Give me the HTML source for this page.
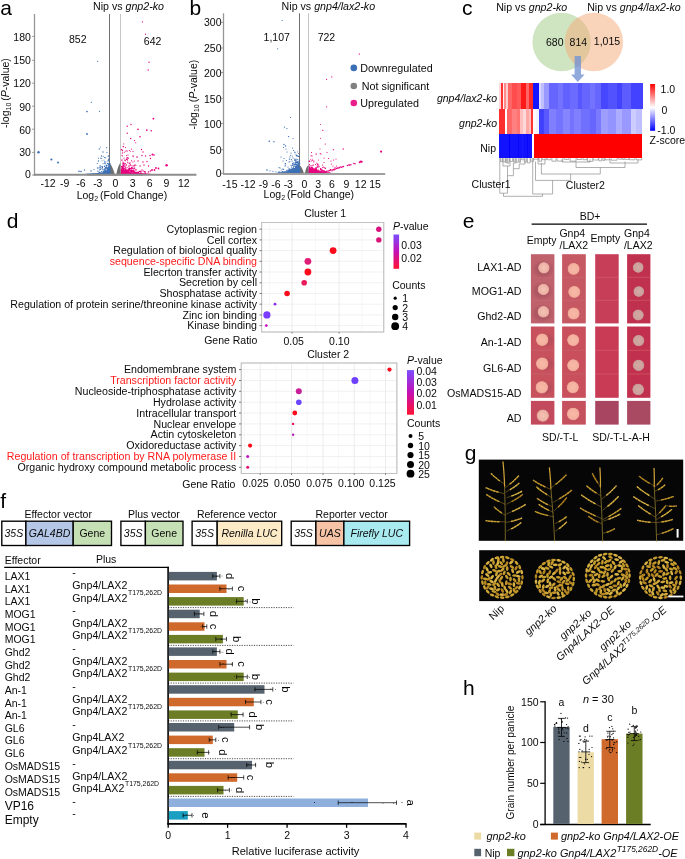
<!DOCTYPE html>
<html><head><meta charset="utf-8"><title>Figure</title>
<style>html,body{margin:0;padding:0;background:#fff;}svg{display:block;font-family:"Liberation Sans",sans-serif;transform:translateZ(0);will-change:transform;}</style></head>
<body>
<svg width="685" height="859" viewBox="0 0 685 859">
<rect width="685" height="859" fill="#fff"/>
<text x="0.3" y="15.4" font-size="21" text-anchor="start" fill="#000" >a</text>
<text x="93" y="10.2" font-size="10.65" fill="#0a0a0a">Nip vs <tspan font-style="italic">gnp2-ko</tspan></text>
<line x1="34.5" y1="14.0" x2="34.5" y2="176.0" stroke="#969696" stroke-width="1.3" />
<line x1="109.5" y1="14.0" x2="109.5" y2="175.0" stroke="#707070" stroke-width="1" />
<line x1="120.5" y1="14.0" x2="120.5" y2="175.0" stroke="#c6c6c6" stroke-width="1" />
<path d="M87.3,175.4 L87.3,174.1 L109.5,173.4 L109.5,163 Q112.1,165.4 114.9,174.4 L116.3,174.4 Q117.9,165.4 120.5,163 L120.5,173.4 L142.7,174.1 L142.7,175.4 Z" fill="#6f6f6f"/>
<path d="M109.5,174.4 L109.5,170 L101.5,172.8 L85.5,173.8 L85.5,174.4 Z" fill="#3b6fb6"/>
<path d="M121.0,174.4 L121.0,170 L132.5,172.5 L150.5,173.8 L150.5,174.4 Z" fill="#e6007e"/>
<path d="M108.4,168.3h0.9v0.9h-0.9zM107.2,173.3h0.9v0.9h-0.9zM109.4,173.2h0.9v0.9h-0.9zM107.9,173.1h0.9v0.9h-0.9zM106.5,171.5h0.9v0.9h-0.9zM98.1,157.8h0.9v0.9h-0.9zM109.1,171.8h1.25v1.25h-1.25zM108.9,171.2h0.9v0.9h-0.9zM107.1,173.0h0.9v0.9h-0.9zM106.1,172.6h0.9v0.9h-0.9zM107.7,169.9h0.9v0.9h-0.9zM108.7,171.8h1.25v1.25h-1.25zM105.6,164.8h0.9v0.9h-0.9zM107.9,173.0h0.9v0.9h-0.9zM109.4,170.2h0.9v0.9h-0.9zM103.2,170.8h0.9v0.9h-0.9zM106.9,169.4h1.25v1.25h-1.25zM107.6,173.3h0.9v0.9h-0.9zM106.4,169.6h0.9v0.9h-0.9zM108.1,173.3h0.9v0.9h-0.9zM109.0,173.1h0.9v0.9h-0.9zM109.1,172.3h1.25v1.25h-1.25zM109.3,171.6h1.25v1.25h-1.25zM104.3,172.7h0.9v0.9h-0.9zM108.2,166.4h0.9v0.9h-0.9zM109.0,172.8h0.9v0.9h-0.9zM106.8,173.4h0.9v0.9h-0.9zM108.1,166.7h0.9v0.9h-0.9zM107.3,170.9h0.9v0.9h-0.9zM102.5,168.8h0.9v0.9h-0.9zM108.0,173.2h0.9v0.9h-0.9zM109.4,172.4h0.9v0.9h-0.9zM108.3,173.4h0.9v0.9h-0.9zM109.2,173.3h1.25v1.25h-1.25zM106.6,171.6h0.9v0.9h-0.9zM108.2,164.0h1.25v1.25h-1.25zM107.6,173.2h0.9v0.9h-0.9zM108.3,169.5h0.9v0.9h-0.9zM109.5,171.7h0.9v0.9h-0.9zM107.2,169.1h1.25v1.25h-1.25zM103.5,172.7h0.9v0.9h-0.9zM109.0,171.7h0.9v0.9h-0.9zM108.3,169.7h1.25v1.25h-1.25zM103.7,169.6h0.9v0.9h-0.9zM108.8,172.4h0.9v0.9h-0.9zM109.5,172.7h0.9v0.9h-0.9zM100.0,167.3h1.25v1.25h-1.25zM100.1,172.9h0.9v0.9h-0.9zM108.9,169.0h1.25v1.25h-1.25zM103.9,171.1h0.9v0.9h-0.9zM109.3,168.1h0.9v0.9h-0.9zM105.3,173.0h0.9v0.9h-0.9zM108.3,165.6h0.9v0.9h-0.9zM108.0,170.6h0.9v0.9h-0.9zM109.1,163.3h1.25v1.25h-1.25zM109.1,164.8h0.9v0.9h-0.9zM108.2,173.1h0.9v0.9h-0.9zM98.8,171.8h1.25v1.25h-1.25zM107.8,169.6h0.9v0.9h-0.9zM108.7,172.8h0.9v0.9h-0.9zM108.6,173.1h1.25v1.25h-1.25zM108.2,171.5h1.25v1.25h-1.25zM107.9,171.9h0.9v0.9h-0.9zM107.3,170.1h0.9v0.9h-0.9zM109.5,173.0h0.9v0.9h-0.9zM105.6,172.5h0.9v0.9h-0.9zM107.1,173.2h0.9v0.9h-0.9zM108.7,170.1h0.9v0.9h-0.9zM107.0,168.0h0.9v0.9h-0.9zM106.7,171.8h0.9v0.9h-0.9zM107.7,172.0h1.25v1.25h-1.25zM105.9,167.1h0.9v0.9h-0.9zM107.0,169.4h0.9v0.9h-0.9zM109.2,173.2h0.9v0.9h-0.9zM109.3,170.0h1.25v1.25h-1.25zM109.0,171.0h0.9v0.9h-0.9zM103.0,172.9h1.25v1.25h-1.25zM108.0,163.3h1.25v1.25h-1.25zM109.0,171.8h0.9v0.9h-0.9zM108.9,170.6h0.9v0.9h-0.9zM107.1,173.4h0.9v0.9h-0.9zM106.6,173.3h1.25v1.25h-1.25zM104.8,173.2h0.9v0.9h-0.9zM109.4,172.7h0.9v0.9h-0.9zM107.9,169.6h0.9v0.9h-0.9zM109.1,171.5h0.9v0.9h-0.9zM109.3,168.5h0.9v0.9h-0.9zM109.3,171.2h1.25v1.25h-1.25zM109.3,173.2h1.25v1.25h-1.25zM107.7,171.6h1.25v1.25h-1.25zM108.6,169.9h0.9v0.9h-0.9zM109.2,173.2h0.9v0.9h-0.9zM108.4,170.3h0.9v0.9h-0.9zM107.4,171.0h0.9v0.9h-0.9zM108.7,167.3h0.9v0.9h-0.9zM108.9,167.4h0.9v0.9h-0.9zM104.3,171.9h1.25v1.25h-1.25zM108.0,170.8h1.25v1.25h-1.25zM108.3,170.7h0.9v0.9h-0.9zM108.0,173.3h0.9v0.9h-0.9zM109.3,172.8h0.9v0.9h-0.9zM109.3,168.9h0.9v0.9h-0.9zM108.5,172.6h0.9v0.9h-0.9zM109.0,172.7h1.25v1.25h-1.25zM98.6,172.8h1.25v1.25h-1.25zM108.4,173.4h0.9v0.9h-0.9zM107.6,172.9h0.9v0.9h-0.9zM109.5,173.2h0.9v0.9h-0.9zM109.4,171.9h0.9v0.9h-0.9zM106.9,170.3h0.9v0.9h-0.9zM105.7,172.3h0.9v0.9h-0.9zM96.8,163.1h0.9v0.9h-0.9zM109.4,168.5h0.9v0.9h-0.9zM105.5,173.1h0.9v0.9h-0.9zM107.4,169.8h1.25v1.25h-1.25zM106.9,170.9h0.9v0.9h-0.9zM108.8,172.7h0.9v0.9h-0.9zM109.2,171.6h0.9v0.9h-0.9zM106.5,171.9h0.9v0.9h-0.9zM104.7,171.9h0.9v0.9h-0.9zM106.3,164.9h0.9v0.9h-0.9zM109.3,170.5h0.9v0.9h-0.9zM105.4,171.9h0.9v0.9h-0.9zM107.6,170.2h0.9v0.9h-0.9zM106.4,172.4h0.9v0.9h-0.9zM105.4,171.6h0.9v0.9h-0.9zM109.4,170.9h0.9v0.9h-0.9zM106.1,171.8h0.9v0.9h-0.9zM107.6,161.3h0.9v0.9h-0.9zM97.9,173.4h0.9v0.9h-0.9zM104.3,172.1h0.9v0.9h-0.9zM108.8,172.9h0.9v0.9h-0.9zM109.1,166.7h0.9v0.9h-0.9zM104.3,168.6h0.9v0.9h-0.9zM108.7,171.9h0.9v0.9h-0.9zM109.5,172.1h0.9v0.9h-0.9zM109.1,172.6h1.25v1.25h-1.25zM109.5,169.4h0.9v0.9h-0.9zM101.6,168.3h0.9v0.9h-0.9zM108.1,158.6h0.9v0.9h-0.9zM108.2,172.7h0.9v0.9h-0.9zM109.2,172.7h1.25v1.25h-1.25zM108.7,171.8h0.9v0.9h-0.9zM108.1,168.7h1.25v1.25h-1.25zM106.5,167.2h0.9v0.9h-0.9zM105.7,164.4h0.9v0.9h-0.9zM105.3,172.7h0.9v0.9h-0.9zM101.6,168.3h0.9v0.9h-0.9zM108.5,165.2h0.9v0.9h-0.9zM106.3,171.6h0.9v0.9h-0.9zM109.0,172.4h1.25v1.25h-1.25zM107.5,168.2h1.25v1.25h-1.25zM107.7,172.3h0.9v0.9h-0.9zM108.3,172.1h0.9v0.9h-0.9zM107.0,170.4h0.9v0.9h-0.9zM107.9,172.4h0.9v0.9h-0.9zM109.4,165.8h0.9v0.9h-0.9zM107.4,169.0h0.9v0.9h-0.9zM108.6,172.3h0.9v0.9h-0.9zM100.2,168.9h0.9v0.9h-0.9zM109.4,168.4h0.9v0.9h-0.9zM106.8,170.4h1.25v1.25h-1.25zM104.2,165.5h0.9v0.9h-0.9zM109.2,170.3h0.9v0.9h-0.9zM100.9,171.1h0.9v0.9h-0.9zM107.7,173.3h0.9v0.9h-0.9zM108.7,171.1h0.9v0.9h-0.9zM109.1,171.2h0.9v0.9h-0.9zM109.2,170.2h0.9v0.9h-0.9zM108.1,171.4h0.9v0.9h-0.9zM108.5,166.4h0.9v0.9h-0.9zM103.0,172.8h0.9v0.9h-0.9zM99.7,172.6h0.9v0.9h-0.9zM107.4,172.2h0.9v0.9h-0.9zM106.2,172.8h0.9v0.9h-0.9zM108.3,170.9h0.9v0.9h-0.9zM104.7,171.9h0.9v0.9h-0.9zM98.9,169.6h0.9v0.9h-0.9zM108.8,172.6h1.25v1.25h-1.25zM107.5,172.0h0.9v0.9h-0.9zM106.2,173.1h0.9v0.9h-0.9zM108.8,173.1h0.9v0.9h-0.9zM109.4,168.4h1.25v1.25h-1.25zM105.5,167.5h0.9v0.9h-0.9zM108.9,170.4h0.9v0.9h-0.9zM106.2,172.4h0.9v0.9h-0.9zM109.0,172.0h0.9v0.9h-0.9zM100.0,146.7h0.9v0.9h-0.9zM108.2,169.6h0.9v0.9h-0.9zM109.4,172.4h1.25v1.25h-1.25zM108.9,168.4h0.9v0.9h-0.9zM107.9,170.2h0.9v0.9h-0.9zM109.4,163.1h0.9v0.9h-0.9zM105.4,172.5h0.9v0.9h-0.9zM99.9,172.7h0.9v0.9h-0.9zM108.4,173.4h0.9v0.9h-0.9zM102.0,167.1h0.9v0.9h-0.9zM108.7,166.5h1.25v1.25h-1.25zM108.1,172.2h0.9v0.9h-0.9zM101.5,160.4h0.9v0.9h-0.9zM104.3,171.3h0.9v0.9h-0.9zM108.4,170.0h0.9v0.9h-0.9zM108.9,172.8h0.9v0.9h-0.9zM109.4,172.5h1.25v1.25h-1.25zM103.0,172.7h0.9v0.9h-0.9zM109.2,170.7h0.9v0.9h-0.9zM108.7,171.3h0.9v0.9h-0.9zM105.3,171.0h0.9v0.9h-0.9zM103.9,171.6h0.9v0.9h-0.9zM105.5,171.4h0.9v0.9h-0.9zM109.0,171.5h0.9v0.9h-0.9zM108.0,171.8h0.9v0.9h-0.9zM104.5,163.0h0.9v0.9h-0.9zM107.6,169.4h1.25v1.25h-1.25zM109.4,173.1h0.9v0.9h-0.9zM98.5,167.5h0.9v0.9h-0.9zM103.4,172.7h0.9v0.9h-0.9zM100.7,166.1h0.9v0.9h-0.9zM108.8,173.1h0.9v0.9h-0.9zM108.7,171.1h0.9v0.9h-0.9zM109.5,170.9h0.9v0.9h-0.9zM108.4,165.7h0.9v0.9h-0.9zM109.4,171.3h0.9v0.9h-0.9zM106.4,172.3h0.9v0.9h-0.9zM107.9,172.6h1.25v1.25h-1.25zM108.4,172.4h0.9v0.9h-0.9zM103.5,172.4h0.9v0.9h-0.9zM105.6,173.4h1.25v1.25h-1.25zM107.9,172.3h1.25v1.25h-1.25zM107.7,173.3h0.9v0.9h-0.9zM106.4,173.2h0.9v0.9h-0.9zM108.1,173.1h0.9v0.9h-0.9zM107.3,173.1h0.9v0.9h-0.9zM104.6,172.9h0.9v0.9h-0.9zM100.8,171.9h0.9v0.9h-0.9zM101.6,168.2h0.9v0.9h-0.9zM104.2,161.3h0.9v0.9h-0.9zM108.0,169.5h0.9v0.9h-0.9zM108.8,171.8h0.9v0.9h-0.9zM109.1,170.6h1.25v1.25h-1.25zM109.4,170.3h0.9v0.9h-0.9zM104.0,166.1h0.9v0.9h-0.9zM106.5,172.2h0.9v0.9h-0.9zM107.9,172.1h0.9v0.9h-0.9zM109.5,171.9h0.9v0.9h-0.9zM105.1,172.1h0.9v0.9h-0.9zM107.6,172.7h0.9v0.9h-0.9zM109.3,171.8h0.9v0.9h-0.9zM106.5,165.2h0.9v0.9h-0.9zM107.4,169.5h0.9v0.9h-0.9zM100.4,157.8h1.25v1.25h-1.25zM105.5,172.9h1.25v1.25h-1.25zM107.5,167.9h0.9v0.9h-0.9zM104.8,173.3h0.9v0.9h-0.9zM105.2,157.3h0.9v0.9h-0.9zM104.4,168.0h1.25v1.25h-1.25zM108.8,171.8h0.9v0.9h-0.9zM109.4,172.7h1.25v1.25h-1.25zM106.1,173.0h0.9v0.9h-0.9zM109.2,171.2h0.9v0.9h-0.9zM103.3,171.5h1.25v1.25h-1.25zM109.2,171.2h0.9v0.9h-0.9zM104.7,163.2h0.9v0.9h-0.9zM108.2,172.1h0.9v0.9h-0.9zM105.4,161.4h0.9v0.9h-0.9zM106.4,171.5h0.9v0.9h-0.9zM108.4,173.2h0.9v0.9h-0.9zM106.6,171.8h1.25v1.25h-1.25zM109.1,171.1h0.9v0.9h-0.9zM109.5,173.2h0.9v0.9h-0.9zM108.8,171.4h0.9v0.9h-0.9zM106.6,173.1h1.25v1.25h-1.25zM108.7,172.9h0.9v0.9h-0.9zM103.3,172.3h0.9v0.9h-0.9zM109.5,171.6h0.9v0.9h-0.9zM106.4,167.3h0.9v0.9h-0.9zM108.7,173.3h0.9v0.9h-0.9zM108.0,173.3h0.9v0.9h-0.9zM109.5,167.2h0.9v0.9h-0.9zM108.9,171.8h0.9v0.9h-0.9zM104.4,170.6h0.9v0.9h-0.9zM109.4,170.0h0.9v0.9h-0.9zM109.5,170.4h0.9v0.9h-0.9zM105.4,172.8h0.9v0.9h-0.9zM108.7,171.5h0.9v0.9h-0.9zM105.9,170.7h0.9v0.9h-0.9zM107.1,170.0h0.9v0.9h-0.9zM108.6,166.0h0.9v0.9h-0.9zM103.1,171.0h0.9v0.9h-0.9zM105.4,170.4h0.9v0.9h-0.9zM103.1,172.8h1.25v1.25h-1.25zM106.5,171.0h1.25v1.25h-1.25zM107.6,170.8h1.25v1.25h-1.25zM107.8,171.5h0.9v0.9h-0.9zM108.8,173.2h1.25v1.25h-1.25zM109.1,172.9h1.25v1.25h-1.25zM108.3,173.3h0.9v0.9h-0.9zM105.9,170.8h0.9v0.9h-0.9zM109.3,172.4h1.25v1.25h-1.25zM104.3,173.2h1.25v1.25h-1.25zM102.0,173.2h0.9v0.9h-0.9zM109.2,165.4h1.25v1.25h-1.25zM106.5,171.2h0.9v0.9h-0.9zM109.2,167.4h0.9v0.9h-0.9zM108.4,173.4h0.9v0.9h-0.9zM108.5,172.4h0.9v0.9h-0.9zM99.4,169.2h0.9v0.9h-0.9zM109.5,172.1h0.9v0.9h-0.9zM108.3,171.7h0.9v0.9h-0.9zM103.5,159.7h0.9v0.9h-0.9zM109.5,167.7h1.25v1.25h-1.25zM109.5,171.9h0.9v0.9h-0.9zM108.9,172.5h1.25v1.25h-1.25zM108.6,172.7h0.9v0.9h-0.9zM105.9,173.1h0.9v0.9h-0.9zM109.3,170.8h0.9v0.9h-0.9zM106.5,172.3h0.9v0.9h-0.9zM102.8,155.9h0.9v0.9h-0.9zM108.8,168.3h0.9v0.9h-0.9zM108.1,172.8h0.9v0.9h-0.9zM107.2,170.3h0.9v0.9h-0.9zM108.2,173.0h1.25v1.25h-1.25zM106.2,173.0h0.9v0.9h-0.9zM105.0,173.1h0.9v0.9h-0.9zM102.9,172.9h0.9v0.9h-0.9zM105.8,173.0h0.9v0.9h-0.9zM108.7,171.8h0.9v0.9h-0.9zM108.3,155.4h0.9v0.9h-0.9zM109.2,173.2h0.9v0.9h-0.9zM97.0,170.5h0.9v0.9h-0.9zM108.9,173.2h0.9v0.9h-0.9zM108.0,170.8h0.9v0.9h-0.9zM105.9,171.2h0.9v0.9h-0.9zM109.1,172.3h0.9v0.9h-0.9zM102.3,171.5h0.9v0.9h-0.9zM107.9,170.6h1.25v1.25h-1.25zM105.0,169.2h0.9v0.9h-0.9zM106.4,172.6h0.9v0.9h-0.9zM109.2,170.0h0.9v0.9h-0.9zM106.5,172.2h0.9v0.9h-0.9zM106.6,170.9h1.25v1.25h-1.25zM108.9,170.1h0.9v0.9h-0.9zM107.5,173.3h0.9v0.9h-0.9zM109.0,167.2h0.9v0.9h-0.9zM109.2,171.7h0.9v0.9h-0.9zM107.4,169.5h0.9v0.9h-0.9zM107.9,172.9h0.9v0.9h-0.9zM108.0,173.1h1.25v1.25h-1.25zM108.2,171.8h0.9v0.9h-0.9zM109.5,172.2h0.9v0.9h-0.9zM108.2,172.8h0.9v0.9h-0.9zM101.0,172.9h1.25v1.25h-1.25zM108.0,172.7h0.9v0.9h-0.9zM104.5,172.0h0.9v0.9h-0.9zM108.8,172.4h0.9v0.9h-0.9zM104.3,172.0h0.9v0.9h-0.9zM107.1,163.1h0.9v0.9h-0.9zM103.7,172.4h0.9v0.9h-0.9zM107.9,173.4h0.9v0.9h-0.9zM108.5,172.6h0.9v0.9h-0.9zM107.8,171.0h0.9v0.9h-0.9zM101.5,173.3h1.25v1.25h-1.25zM102.3,173.1h1.25v1.25h-1.25zM106.5,173.3h1.25v1.25h-1.25zM106.3,173.2h0.9v0.9h-0.9zM108.7,172.5h0.9v0.9h-0.9zM102.4,173.0h1.25v1.25h-1.25zM106.7,171.0h1.25v1.25h-1.25zM104.8,172.9h0.9v0.9h-0.9zM107.2,172.1h1.25v1.25h-1.25zM107.1,172.8h0.9v0.9h-0.9zM107.5,169.9h0.9v0.9h-0.9zM107.5,171.7h1.25v1.25h-1.25zM109.5,172.0h0.9v0.9h-0.9zM106.2,172.4h0.9v0.9h-0.9zM99.7,165.3h0.9v0.9h-0.9zM109.5,170.9h1.25v1.25h-1.25zM108.3,171.8h0.9v0.9h-0.9zM102.6,163.3h0.9v0.9h-0.9zM108.3,172.4h0.9v0.9h-0.9zM107.3,172.9h0.9v0.9h-0.9zM107.9,169.5h0.9v0.9h-0.9zM104.2,171.9h0.9v0.9h-0.9zM107.4,171.1h0.9v0.9h-0.9zM108.3,172.6h0.9v0.9h-0.9zM106.5,173.3h0.9v0.9h-0.9zM102.9,173.3h0.9v0.9h-0.9zM109.5,163.2h0.9v0.9h-0.9zM106.3,168.1h0.9v0.9h-0.9zM106.6,170.8h0.9v0.9h-0.9zM106.1,166.2h0.9v0.9h-0.9zM105.2,172.0h0.9v0.9h-0.9zM105.0,171.1h0.9v0.9h-0.9zM104.3,171.6h0.9v0.9h-0.9zM108.5,172.6h0.9v0.9h-0.9zM106.4,173.3h0.9v0.9h-0.9zM109.4,166.6h0.9v0.9h-0.9zM101.9,173.4h0.9v0.9h-0.9zM106.8,164.7h0.9v0.9h-0.9zM107.9,168.1h0.9v0.9h-0.9zM109.0,173.4h0.9v0.9h-0.9zM109.2,173.2h1.25v1.25h-1.25zM109.1,167.9h0.9v0.9h-0.9zM105.5,173.0h0.9v0.9h-0.9zM105.7,170.5h0.9v0.9h-0.9zM106.5,172.0h1.25v1.25h-1.25zM108.7,170.6h0.9v0.9h-0.9zM109.5,169.7h0.9v0.9h-0.9zM108.4,173.0h1.25v1.25h-1.25zM107.5,170.9h0.9v0.9h-0.9zM107.8,173.1h0.9v0.9h-0.9zM108.2,171.2h0.9v0.9h-0.9zM108.1,167.0h0.9v0.9h-0.9zM107.0,173.3h1.25v1.25h-1.25zM105.8,172.5h0.9v0.9h-0.9zM98.0,171.4h0.9v0.9h-0.9zM107.8,172.4h0.9v0.9h-0.9zM106.7,169.8h0.9v0.9h-0.9zM109.5,172.2h0.9v0.9h-0.9zM104.4,173.3h1.25v1.25h-1.25zM104.5,171.5h0.9v0.9h-0.9zM103.7,170.9h1.25v1.25h-1.25zM108.2,169.4h0.9v0.9h-0.9zM108.9,167.5h0.9v0.9h-0.9zM106.7,172.0h0.9v0.9h-0.9zM108.7,169.9h0.9v0.9h-0.9zM109.3,170.1h0.9v0.9h-0.9zM106.9,168.6h0.9v0.9h-0.9zM107.6,172.9h0.9v0.9h-0.9zM108.9,172.4h0.9v0.9h-0.9zM108.0,173.0h0.9v0.9h-0.9zM91.7,173.2h0.9v0.9h-0.9zM104.8,166.7h0.9v0.9h-0.9zM107.3,173.2h1.25v1.25h-1.25zM103.4,171.6h0.9v0.9h-0.9zM104.9,167.0h0.9v0.9h-0.9zM104.3,172.8h0.9v0.9h-0.9zM108.9,173.0h0.9v0.9h-0.9zM107.1,172.1h1.25v1.25h-1.25zM102.2,166.1h0.9v0.9h-0.9zM109.2,172.7h0.9v0.9h-0.9zM106.4,171.0h0.9v0.9h-0.9zM107.7,155.5h1.25v1.25h-1.25zM108.8,172.1h0.9v0.9h-0.9zM102.4,169.4h0.9v0.9h-0.9zM104.8,171.1h1.25v1.25h-1.25zM109.4,167.6h1.25v1.25h-1.25zM106.1,171.4h0.9v0.9h-0.9zM109.2,172.7h0.9v0.9h-0.9zM107.5,171.9h0.9v0.9h-0.9zM106.1,165.2h0.9v0.9h-0.9zM109.4,172.9h1.25v1.25h-1.25zM103.4,173.1h0.9v0.9h-0.9zM109.2,169.3h0.9v0.9h-0.9zM107.7,169.6h0.9v0.9h-0.9zM106.5,171.9h0.9v0.9h-0.9zM105.7,173.1h1.25v1.25h-1.25zM108.6,173.0h0.9v0.9h-0.9zM104.0,173.0h0.9v0.9h-0.9zM108.4,173.1h1.25v1.25h-1.25zM109.4,171.0h0.9v0.9h-0.9zM107.6,172.7h0.9v0.9h-0.9zM108.2,159.6h1.25v1.25h-1.25zM109.2,168.4h0.9v0.9h-0.9zM105.6,164.9h0.9v0.9h-0.9zM104.5,173.1h0.9v0.9h-0.9zM104.1,172.9h0.9v0.9h-0.9zM102.1,166.6h0.9v0.9h-0.9zM108.9,170.7h0.9v0.9h-0.9zM109.3,169.5h0.9v0.9h-0.9zM108.6,168.9h0.9v0.9h-0.9zM104.5,172.9h0.9v0.9h-0.9zM105.5,170.6h0.9v0.9h-0.9zM104.5,169.3h1.25v1.25h-1.25zM107.5,160.2h0.9v0.9h-0.9zM103.3,172.9h1.25v1.25h-1.25zM108.2,171.1h0.9v0.9h-0.9zM109.5,172.1h0.9v0.9h-0.9zM109.2,169.7h1.25v1.25h-1.25zM108.4,172.3h0.9v0.9h-0.9zM109.4,166.6h0.9v0.9h-0.9zM107.4,171.7h0.9v0.9h-0.9zM99.1,173.0h0.9v0.9h-0.9zM108.7,173.3h0.9v0.9h-0.9zM105.9,173.3h0.9v0.9h-0.9zM106.9,170.7h0.9v0.9h-0.9zM103.3,173.3h0.9v0.9h-0.9zM107.5,172.7h0.9v0.9h-0.9zM108.0,168.8h1.25v1.25h-1.25zM109.1,170.4h0.9v0.9h-0.9zM104.2,172.3h0.9v0.9h-0.9zM104.0,172.3h1.25v1.25h-1.25zM105.0,172.8h0.9v0.9h-0.9zM107.8,169.8h1.25v1.25h-1.25zM104.4,173.3h0.9v0.9h-0.9zM99.9,172.8h0.9v0.9h-0.9zM106.5,171.7h0.9v0.9h-0.9zM107.8,173.4h0.9v0.9h-0.9zM98.9,167.3h0.9v0.9h-0.9zM104.5,168.6h0.9v0.9h-0.9zM106.4,170.9h0.9v0.9h-0.9zM107.2,171.3h0.9v0.9h-0.9zM107.3,166.8h0.9v0.9h-0.9zM108.4,173.1h0.9v0.9h-0.9zM100.0,172.7h0.9v0.9h-0.9zM107.2,172.6h0.9v0.9h-0.9zM108.5,172.7h0.9v0.9h-0.9zM109.3,169.4h0.9v0.9h-0.9zM107.0,172.9h0.9v0.9h-0.9zM107.7,171.3h0.9v0.9h-0.9zM108.4,172.8h0.9v0.9h-0.9zM108.1,173.4h0.9v0.9h-0.9zM103.5,171.6h0.9v0.9h-0.9zM108.5,172.6h0.9v0.9h-0.9zM109.0,164.4h0.9v0.9h-0.9zM109.4,172.1h0.9v0.9h-0.9zM109.2,166.4h0.9v0.9h-0.9zM109.0,172.4h0.9v0.9h-0.9zM106.6,169.6h0.9v0.9h-0.9zM105.5,170.3h0.9v0.9h-0.9z" fill="#3b6fb6"/>
<path d="M128.4,169.2h0.9v0.9h-0.9zM131.0,160.3h0.9v0.9h-0.9zM124.2,172.0h0.9v0.9h-0.9zM128.4,171.8h0.9v0.9h-0.9zM123.8,171.2h0.9v0.9h-0.9zM123.2,172.6h0.9v0.9h-0.9zM128.5,172.2h0.9v0.9h-0.9zM121.8,173.1h0.9v0.9h-0.9zM125.1,150.7h0.9v0.9h-0.9zM130.0,168.0h0.9v0.9h-0.9zM123.5,173.4h0.9v0.9h-0.9zM124.9,169.1h0.9v0.9h-0.9zM124.6,172.2h0.9v0.9h-0.9zM126.5,172.6h0.9v0.9h-0.9zM122.9,171.5h0.9v0.9h-0.9zM121.3,172.5h0.9v0.9h-0.9zM125.0,167.7h0.9v0.9h-0.9zM123.6,164.0h0.9v0.9h-0.9zM124.5,173.1h0.9v0.9h-0.9zM139.9,172.2h0.9v0.9h-0.9zM132.0,170.5h1.25v1.25h-1.25zM131.7,173.1h0.9v0.9h-0.9zM124.3,173.0h0.9v0.9h-0.9zM125.7,172.7h1.25v1.25h-1.25zM125.8,168.6h0.9v0.9h-0.9zM122.6,173.4h0.9v0.9h-0.9zM130.0,171.5h0.9v0.9h-0.9zM124.2,172.9h0.9v0.9h-0.9zM124.5,171.9h0.9v0.9h-0.9zM121.4,171.0h0.9v0.9h-0.9zM121.3,172.1h1.25v1.25h-1.25zM125.5,173.3h0.9v0.9h-0.9zM128.1,171.3h0.9v0.9h-0.9zM121.7,173.2h1.25v1.25h-1.25zM125.1,172.4h0.9v0.9h-0.9zM121.0,171.9h1.25v1.25h-1.25zM123.6,172.9h0.9v0.9h-0.9zM134.1,172.8h1.25v1.25h-1.25zM129.2,171.8h1.25v1.25h-1.25zM124.2,172.9h0.9v0.9h-0.9zM127.1,172.8h1.25v1.25h-1.25zM124.1,172.9h0.9v0.9h-0.9zM123.0,167.3h0.9v0.9h-0.9zM124.9,166.5h0.9v0.9h-0.9zM123.3,172.2h1.25v1.25h-1.25zM122.9,173.0h0.9v0.9h-0.9zM122.1,163.6h0.9v0.9h-0.9zM121.6,173.2h0.9v0.9h-0.9zM129.8,168.1h1.25v1.25h-1.25zM128.9,172.7h0.9v0.9h-0.9zM123.1,173.0h1.25v1.25h-1.25zM124.3,172.4h0.9v0.9h-0.9zM126.9,169.5h0.9v0.9h-0.9zM123.0,171.8h0.9v0.9h-0.9zM131.0,166.9h0.9v0.9h-0.9zM122.3,172.6h0.9v0.9h-0.9zM124.9,172.6h0.9v0.9h-0.9zM121.7,172.7h0.9v0.9h-0.9zM121.3,172.6h0.9v0.9h-0.9zM122.5,170.0h0.9v0.9h-0.9zM121.4,172.8h0.9v0.9h-0.9zM132.7,169.8h1.25v1.25h-1.25zM121.5,173.3h0.9v0.9h-0.9zM126.2,172.5h0.9v0.9h-0.9zM126.8,170.2h0.9v0.9h-0.9zM125.7,173.2h1.25v1.25h-1.25zM127.4,173.3h0.9v0.9h-0.9zM121.6,172.8h0.9v0.9h-0.9zM120.9,171.7h0.9v0.9h-0.9zM129.9,171.3h0.9v0.9h-0.9zM123.6,172.7h0.9v0.9h-0.9zM129.7,172.8h0.9v0.9h-0.9zM130.4,173.3h0.9v0.9h-0.9zM121.3,173.0h1.25v1.25h-1.25zM127.7,162.7h0.9v0.9h-0.9zM127.6,172.8h0.9v0.9h-0.9zM135.4,168.9h0.9v0.9h-0.9zM127.5,171.7h0.9v0.9h-0.9zM121.0,172.4h0.9v0.9h-0.9zM133.9,160.5h0.9v0.9h-0.9zM126.8,172.9h0.9v0.9h-0.9zM138.2,172.1h0.9v0.9h-0.9zM121.1,172.5h0.9v0.9h-0.9zM122.6,162.4h0.9v0.9h-0.9zM122.1,172.2h0.9v0.9h-0.9zM134.5,172.8h1.25v1.25h-1.25zM121.5,172.7h1.25v1.25h-1.25zM124.7,173.1h0.9v0.9h-0.9zM125.3,170.9h1.25v1.25h-1.25zM121.4,172.6h0.9v0.9h-0.9zM121.1,173.0h0.9v0.9h-0.9zM123.7,169.9h0.9v0.9h-0.9zM123.0,173.3h0.9v0.9h-0.9zM144.9,173.3h0.9v0.9h-0.9zM140.3,173.2h0.9v0.9h-0.9zM123.6,172.1h0.9v0.9h-0.9zM133.3,171.7h1.25v1.25h-1.25zM126.0,172.9h0.9v0.9h-0.9zM120.9,170.3h0.9v0.9h-0.9zM121.8,170.2h1.25v1.25h-1.25zM121.7,170.4h0.9v0.9h-0.9zM122.7,170.4h0.9v0.9h-0.9zM123.0,172.6h1.25v1.25h-1.25zM122.1,165.9h0.9v0.9h-0.9zM129.3,169.4h1.25v1.25h-1.25zM124.2,173.1h0.9v0.9h-0.9zM125.1,162.9h0.9v0.9h-0.9zM123.7,173.2h0.9v0.9h-0.9zM123.6,171.2h0.9v0.9h-0.9zM129.9,170.8h0.9v0.9h-0.9zM122.4,172.2h0.9v0.9h-0.9zM122.8,171.5h1.25v1.25h-1.25zM132.5,172.8h0.9v0.9h-0.9zM124.9,173.0h0.9v0.9h-0.9zM122.7,167.4h1.25v1.25h-1.25zM130.8,167.8h0.9v0.9h-0.9zM129.1,163.2h0.9v0.9h-0.9zM122.5,168.2h0.9v0.9h-0.9zM126.0,172.7h1.25v1.25h-1.25zM120.9,171.5h0.9v0.9h-0.9zM121.2,172.6h0.9v0.9h-0.9zM123.4,172.0h0.9v0.9h-0.9zM121.4,169.6h0.9v0.9h-0.9zM121.3,172.9h0.9v0.9h-0.9zM124.5,172.3h0.9v0.9h-0.9zM122.0,173.2h0.9v0.9h-0.9zM125.2,168.7h0.9v0.9h-0.9zM123.6,172.0h0.9v0.9h-0.9zM127.1,157.4h0.9v0.9h-0.9zM121.7,172.0h0.9v0.9h-0.9zM121.5,173.3h0.9v0.9h-0.9zM123.1,165.3h0.9v0.9h-0.9zM122.5,172.5h1.25v1.25h-1.25zM125.6,172.0h1.25v1.25h-1.25zM131.0,171.1h0.9v0.9h-0.9zM128.0,170.4h0.9v0.9h-0.9zM123.1,168.4h0.9v0.9h-0.9zM121.0,173.2h0.9v0.9h-0.9zM128.9,150.0h0.9v0.9h-0.9zM122.2,172.4h1.25v1.25h-1.25zM125.1,173.2h0.9v0.9h-0.9zM128.8,172.0h0.9v0.9h-0.9zM126.6,173.1h1.25v1.25h-1.25zM124.6,170.6h1.25v1.25h-1.25zM120.8,173.1h0.9v0.9h-0.9zM131.1,173.3h0.9v0.9h-0.9zM129.3,172.6h0.9v0.9h-0.9zM121.6,172.6h1.25v1.25h-1.25zM125.5,169.8h0.9v0.9h-0.9zM132.0,173.3h0.9v0.9h-0.9zM123.0,171.9h0.9v0.9h-0.9zM122.9,165.6h0.9v0.9h-0.9zM120.9,166.1h0.9v0.9h-0.9zM121.5,172.9h0.9v0.9h-0.9zM124.2,172.0h0.9v0.9h-0.9zM136.5,173.3h0.9v0.9h-0.9zM128.1,170.9h0.9v0.9h-0.9zM125.8,172.8h0.9v0.9h-0.9zM131.1,171.5h0.9v0.9h-0.9zM127.9,172.2h0.9v0.9h-0.9zM122.9,172.5h0.9v0.9h-0.9zM122.8,165.8h0.9v0.9h-0.9zM123.0,172.9h0.9v0.9h-0.9zM121.5,155.0h0.9v0.9h-0.9zM123.7,172.8h0.9v0.9h-0.9zM121.1,172.8h0.9v0.9h-0.9zM124.8,172.7h1.25v1.25h-1.25zM125.1,171.6h0.9v0.9h-0.9zM142.6,170.9h0.9v0.9h-0.9zM130.9,167.4h1.25v1.25h-1.25zM122.4,173.4h0.9v0.9h-0.9zM122.3,173.0h0.9v0.9h-0.9zM121.9,170.0h0.9v0.9h-0.9zM121.8,167.8h0.9v0.9h-0.9zM121.2,169.9h0.9v0.9h-0.9zM121.5,172.1h1.25v1.25h-1.25zM125.9,173.0h0.9v0.9h-0.9zM127.7,172.5h0.9v0.9h-0.9zM122.8,168.6h0.9v0.9h-0.9zM125.7,172.2h0.9v0.9h-0.9zM122.2,173.4h1.25v1.25h-1.25zM124.9,173.3h0.9v0.9h-0.9zM127.2,173.2h0.9v0.9h-0.9zM121.5,173.2h1.25v1.25h-1.25zM123.5,171.9h0.9v0.9h-0.9zM126.1,172.7h0.9v0.9h-0.9zM122.2,171.0h0.9v0.9h-0.9zM122.6,167.0h0.9v0.9h-0.9zM122.4,168.6h0.9v0.9h-0.9zM120.8,171.6h0.9v0.9h-0.9zM123.0,173.0h0.9v0.9h-0.9zM121.2,172.1h0.9v0.9h-0.9zM124.2,173.1h1.25v1.25h-1.25zM123.0,171.6h0.9v0.9h-0.9zM133.5,173.3h0.9v0.9h-0.9zM122.1,172.2h0.9v0.9h-0.9zM122.9,172.4h0.9v0.9h-0.9zM132.4,161.5h0.9v0.9h-0.9zM125.9,170.0h0.9v0.9h-0.9zM124.9,169.1h1.25v1.25h-1.25zM125.7,172.9h0.9v0.9h-0.9zM123.6,173.0h0.9v0.9h-0.9zM125.9,164.6h0.9v0.9h-0.9zM125.0,170.0h1.25v1.25h-1.25zM122.3,170.5h0.9v0.9h-0.9zM122.8,169.6h0.9v0.9h-0.9zM126.5,172.4h0.9v0.9h-0.9zM131.5,169.7h0.9v0.9h-0.9zM128.3,173.1h1.25v1.25h-1.25zM122.5,172.3h1.25v1.25h-1.25zM120.8,173.1h0.9v0.9h-0.9zM121.3,171.4h0.9v0.9h-0.9zM122.8,171.3h1.25v1.25h-1.25zM140.2,171.0h0.9v0.9h-0.9zM126.6,167.1h0.9v0.9h-0.9zM123.6,173.2h1.25v1.25h-1.25zM122.7,173.2h0.9v0.9h-0.9zM121.5,173.1h0.9v0.9h-0.9zM121.5,172.2h0.9v0.9h-0.9zM122.9,169.1h0.9v0.9h-0.9zM122.0,169.8h0.9v0.9h-0.9zM122.3,172.9h0.9v0.9h-0.9zM121.0,172.5h0.9v0.9h-0.9zM123.0,162.9h0.9v0.9h-0.9zM124.7,171.4h1.25v1.25h-1.25zM131.1,172.5h0.9v0.9h-0.9zM123.5,172.6h0.9v0.9h-0.9zM120.8,169.0h0.9v0.9h-0.9zM125.5,172.9h0.9v0.9h-0.9zM121.4,170.8h1.25v1.25h-1.25zM121.0,172.7h0.9v0.9h-0.9zM124.7,167.3h0.9v0.9h-0.9zM127.6,172.2h0.9v0.9h-0.9zM122.1,171.1h0.9v0.9h-0.9zM127.0,172.1h0.9v0.9h-0.9zM126.4,171.7h0.9v0.9h-0.9zM122.0,172.9h1.25v1.25h-1.25zM124.0,172.1h0.9v0.9h-0.9zM122.0,149.8h0.9v0.9h-0.9zM124.5,170.5h0.9v0.9h-0.9zM121.7,172.4h0.9v0.9h-0.9zM129.5,170.0h0.9v0.9h-0.9zM123.1,170.5h0.9v0.9h-0.9zM121.6,173.2h0.9v0.9h-0.9zM128.9,172.4h0.9v0.9h-0.9zM123.3,171.4h0.9v0.9h-0.9zM124.0,171.0h0.9v0.9h-0.9zM126.4,172.1h0.9v0.9h-0.9zM123.1,172.6h0.9v0.9h-0.9zM121.9,173.3h0.9v0.9h-0.9zM127.1,172.7h0.9v0.9h-0.9zM129.7,164.3h1.25v1.25h-1.25zM121.9,170.7h0.9v0.9h-0.9zM123.1,168.1h0.9v0.9h-0.9zM127.0,172.5h0.9v0.9h-0.9zM129.1,172.6h0.9v0.9h-0.9zM133.7,167.4h0.9v0.9h-0.9zM123.1,172.7h0.9v0.9h-0.9zM127.8,172.1h0.9v0.9h-0.9zM132.3,173.4h0.9v0.9h-0.9zM123.9,170.3h0.9v0.9h-0.9zM124.0,172.4h0.9v0.9h-0.9zM124.3,171.5h0.9v0.9h-0.9zM123.3,163.1h0.9v0.9h-0.9zM128.1,173.2h0.9v0.9h-0.9zM121.2,173.2h0.9v0.9h-0.9zM127.7,173.3h0.9v0.9h-0.9zM127.0,173.3h0.9v0.9h-0.9zM123.5,162.8h1.25v1.25h-1.25zM131.0,169.7h0.9v0.9h-0.9zM120.8,172.9h0.9v0.9h-0.9zM122.6,170.1h0.9v0.9h-0.9zM124.3,173.3h0.9v0.9h-0.9zM130.8,170.1h0.9v0.9h-0.9zM121.9,166.5h0.9v0.9h-0.9zM123.9,171.9h0.9v0.9h-0.9zM128.8,169.1h0.9v0.9h-0.9zM121.0,172.1h0.9v0.9h-0.9zM124.9,172.9h0.9v0.9h-0.9zM122.5,170.6h0.9v0.9h-0.9zM123.8,172.4h1.25v1.25h-1.25zM121.0,171.7h0.9v0.9h-0.9zM130.7,165.2h0.9v0.9h-0.9zM133.5,170.7h0.9v0.9h-0.9zM126.3,172.8h0.9v0.9h-0.9zM129.9,150.9h0.9v0.9h-0.9zM121.3,159.6h1.25v1.25h-1.25zM123.4,172.9h1.25v1.25h-1.25zM126.5,173.3h0.9v0.9h-0.9zM121.0,172.8h0.9v0.9h-0.9zM125.1,172.0h0.9v0.9h-0.9zM132.9,170.3h0.9v0.9h-0.9zM128.8,172.6h0.9v0.9h-0.9zM123.1,173.0h0.9v0.9h-0.9zM121.2,171.2h0.9v0.9h-0.9zM126.4,157.5h0.9v0.9h-0.9zM133.6,168.6h0.9v0.9h-0.9zM122.5,171.0h0.9v0.9h-0.9zM134.0,167.4h1.25v1.25h-1.25zM125.3,173.2h0.9v0.9h-0.9zM122.3,170.2h0.9v0.9h-0.9zM133.7,165.2h1.25v1.25h-1.25zM122.9,171.6h0.9v0.9h-0.9zM122.8,172.9h0.9v0.9h-0.9zM121.7,172.8h0.9v0.9h-0.9zM124.8,166.2h0.9v0.9h-0.9zM125.3,173.3h0.9v0.9h-0.9zM121.3,173.2h0.9v0.9h-0.9zM122.9,171.6h0.9v0.9h-0.9zM121.7,172.7h1.25v1.25h-1.25zM131.1,173.1h0.9v0.9h-0.9zM131.3,167.2h0.9v0.9h-0.9zM121.4,173.1h0.9v0.9h-0.9zM124.3,173.0h0.9v0.9h-0.9zM121.9,170.9h1.25v1.25h-1.25zM124.2,173.4h1.25v1.25h-1.25zM124.1,172.0h0.9v0.9h-0.9zM122.1,173.1h0.9v0.9h-0.9zM120.9,172.2h0.9v0.9h-0.9zM131.8,165.6h0.9v0.9h-0.9zM125.3,171.3h0.9v0.9h-0.9zM122.2,166.5h0.9v0.9h-0.9zM125.6,170.5h0.9v0.9h-0.9zM129.1,169.1h0.9v0.9h-0.9zM134.8,172.5h0.9v0.9h-0.9zM122.2,171.5h0.9v0.9h-0.9zM122.9,171.4h0.9v0.9h-0.9zM122.8,163.3h0.9v0.9h-0.9zM124.0,170.8h1.25v1.25h-1.25zM127.7,173.0h0.9v0.9h-0.9zM130.1,173.2h0.9v0.9h-0.9zM122.9,167.7h0.9v0.9h-0.9zM127.6,157.5h1.25v1.25h-1.25zM132.5,170.4h1.25v1.25h-1.25zM125.2,170.4h0.9v0.9h-0.9zM131.0,167.9h0.9v0.9h-0.9zM135.3,142.3h0.9v0.9h-0.9zM122.2,173.0h0.9v0.9h-0.9zM123.8,172.2h1.25v1.25h-1.25zM126.5,172.6h0.9v0.9h-0.9zM128.6,168.6h1.25v1.25h-1.25zM123.4,163.9h1.25v1.25h-1.25zM122.8,170.3h0.9v0.9h-0.9zM120.8,173.4h0.9v0.9h-0.9zM129.1,171.8h0.9v0.9h-0.9zM122.8,172.7h1.25v1.25h-1.25zM125.6,173.2h0.9v0.9h-0.9zM126.8,171.6h1.25v1.25h-1.25zM121.4,173.3h1.25v1.25h-1.25zM121.8,168.0h0.9v0.9h-0.9zM122.0,171.8h1.25v1.25h-1.25zM123.3,168.1h0.9v0.9h-0.9zM143.1,170.4h0.9v0.9h-0.9zM124.5,171.7h1.25v1.25h-1.25zM123.8,172.9h0.9v0.9h-0.9zM121.3,170.0h0.9v0.9h-0.9zM123.1,169.6h0.9v0.9h-0.9zM121.1,172.4h1.25v1.25h-1.25zM123.0,171.7h0.9v0.9h-0.9zM124.4,169.4h0.9v0.9h-0.9zM123.0,173.3h1.25v1.25h-1.25zM126.5,172.4h0.9v0.9h-0.9zM131.8,171.0h0.9v0.9h-0.9zM122.7,145.9h1.25v1.25h-1.25zM121.5,171.9h0.9v0.9h-0.9zM123.2,171.7h0.9v0.9h-0.9zM127.9,172.1h0.9v0.9h-0.9zM139.8,170.6h0.9v0.9h-0.9zM123.1,171.3h0.9v0.9h-0.9zM122.4,171.9h1.25v1.25h-1.25zM128.6,173.1h0.9v0.9h-0.9zM131.2,171.1h0.9v0.9h-0.9zM122.6,170.2h0.9v0.9h-0.9zM137.8,173.0h0.9v0.9h-0.9zM135.1,172.7h0.9v0.9h-0.9zM121.3,172.5h0.9v0.9h-0.9zM137.3,173.0h1.25v1.25h-1.25zM123.7,171.7h0.9v0.9h-0.9zM122.6,171.0h0.9v0.9h-0.9zM124.8,171.0h0.9v0.9h-0.9zM123.0,172.1h0.9v0.9h-0.9zM125.7,170.9h0.9v0.9h-0.9zM129.5,172.7h1.25v1.25h-1.25zM122.3,173.3h0.9v0.9h-0.9zM127.7,172.5h1.25v1.25h-1.25zM121.3,171.6h1.25v1.25h-1.25zM125.8,170.9h0.9v0.9h-0.9zM134.8,172.7h0.9v0.9h-0.9zM128.9,173.1h1.25v1.25h-1.25zM124.5,171.5h1.25v1.25h-1.25zM121.5,173.3h0.9v0.9h-0.9zM124.2,171.5h0.9v0.9h-0.9zM123.3,172.9h1.25v1.25h-1.25zM128.5,173.1h0.9v0.9h-0.9zM127.8,169.5h1.25v1.25h-1.25zM127.5,171.6h1.25v1.25h-1.25zM121.5,171.3h0.9v0.9h-0.9zM122.4,165.1h1.25v1.25h-1.25zM122.3,173.0h0.9v0.9h-0.9zM126.4,170.6h0.9v0.9h-0.9zM126.8,157.0h0.9v0.9h-0.9zM120.8,173.1h0.9v0.9h-0.9zM121.1,172.0h1.25v1.25h-1.25zM121.0,173.2h0.9v0.9h-0.9zM125.7,172.7h0.9v0.9h-0.9zM122.0,173.0h1.25v1.25h-1.25zM129.0,173.3h0.9v0.9h-0.9zM120.9,172.5h0.9v0.9h-0.9zM125.7,171.9h0.9v0.9h-0.9zM124.3,173.0h1.25v1.25h-1.25zM128.9,172.7h1.25v1.25h-1.25zM121.1,173.2h0.9v0.9h-0.9zM126.5,172.4h0.9v0.9h-0.9zM121.8,172.8h0.9v0.9h-0.9zM127.4,172.4h0.9v0.9h-0.9zM126.8,172.9h0.9v0.9h-0.9zM126.8,171.1h1.25v1.25h-1.25zM133.4,171.2h0.9v0.9h-0.9zM121.9,155.5h0.9v0.9h-0.9zM125.7,172.7h0.9v0.9h-0.9zM125.7,172.8h0.9v0.9h-0.9zM121.7,169.5h1.25v1.25h-1.25zM123.8,172.4h0.9v0.9h-0.9zM128.3,165.5h1.25v1.25h-1.25zM128.7,170.5h0.9v0.9h-0.9zM121.3,172.2h0.9v0.9h-0.9zM122.2,151.8h0.9v0.9h-0.9zM135.3,172.4h0.9v0.9h-0.9zM123.2,170.3h0.9v0.9h-0.9zM120.8,171.9h0.9v0.9h-0.9zM120.8,170.8h0.9v0.9h-0.9zM121.0,172.1h0.9v0.9h-0.9zM122.7,169.7h0.9v0.9h-0.9zM125.8,172.9h1.25v1.25h-1.25zM123.2,165.3h0.9v0.9h-0.9zM121.9,171.9h0.9v0.9h-0.9zM126.9,173.3h0.9v0.9h-0.9zM121.0,172.5h0.9v0.9h-0.9zM127.0,171.6h0.9v0.9h-0.9zM123.9,151.8h0.9v0.9h-0.9zM121.1,166.0h0.9v0.9h-0.9zM123.2,170.4h0.9v0.9h-0.9zM127.5,172.5h1.25v1.25h-1.25zM128.9,173.0h0.9v0.9h-0.9zM134.1,171.5h1.25v1.25h-1.25zM125.8,172.9h0.9v0.9h-0.9zM120.8,173.2h1.25v1.25h-1.25zM126.9,170.6h0.9v0.9h-0.9zM124.3,159.5h1.25v1.25h-1.25zM133.1,156.2h0.9v0.9h-0.9zM129.4,171.8h0.9v0.9h-0.9zM128.8,172.9h0.9v0.9h-0.9zM122.5,173.4h0.9v0.9h-0.9zM120.9,170.6h0.9v0.9h-0.9zM121.4,173.0h0.9v0.9h-0.9zM121.3,172.1h0.9v0.9h-0.9zM121.2,170.2h1.25v1.25h-1.25zM121.3,172.8h0.9v0.9h-0.9zM121.5,166.9h0.9v0.9h-0.9zM120.8,172.3h0.9v0.9h-0.9zM125.3,172.4h0.9v0.9h-0.9zM125.5,169.2h0.9v0.9h-0.9zM128.7,170.3h0.9v0.9h-0.9zM120.9,170.2h0.9v0.9h-0.9zM131.3,168.5h0.9v0.9h-0.9zM126.9,172.8h0.9v0.9h-0.9zM122.7,168.1h1.25v1.25h-1.25zM126.1,171.0h1.25v1.25h-1.25zM127.7,172.9h0.9v0.9h-0.9zM120.9,169.7h1.25v1.25h-1.25zM122.7,170.9h1.25v1.25h-1.25zM128.7,173.2h1.25v1.25h-1.25zM122.6,172.6h0.9v0.9h-0.9zM137.6,172.1h0.9v0.9h-0.9zM124.6,172.5h1.25v1.25h-1.25zM126.6,173.2h0.9v0.9h-0.9zM122.4,173.4h0.9v0.9h-0.9zM127.0,173.1h0.9v0.9h-0.9zM126.6,171.1h0.9v0.9h-0.9zM122.2,173.4h0.9v0.9h-0.9zM121.9,167.7h0.9v0.9h-0.9zM125.2,171.9h0.9v0.9h-0.9zM122.6,172.8h0.9v0.9h-0.9zM123.0,172.3h0.9v0.9h-0.9zM138.2,172.9h0.9v0.9h-0.9zM121.7,170.1h0.9v0.9h-0.9zM126.6,171.2h0.9v0.9h-0.9zM134.2,170.4h0.9v0.9h-0.9zM129.6,170.1h1.25v1.25h-1.25zM126.3,173.4h0.9v0.9h-0.9zM132.5,171.6h0.9v0.9h-0.9zM126.2,173.1h0.9v0.9h-0.9zM141.0,171.6h0.9v0.9h-0.9zM122.0,173.3h1.25v1.25h-1.25zM121.4,172.6h0.9v0.9h-0.9zM121.5,172.9h0.9v0.9h-0.9zM124.4,170.8h0.9v0.9h-0.9zM122.4,170.9h0.9v0.9h-0.9zM121.8,172.6h0.9v0.9h-0.9zM125.9,169.9h0.9v0.9h-0.9zM126.2,172.9h0.9v0.9h-0.9zM123.6,167.9h0.9v0.9h-0.9zM121.2,167.5h0.9v0.9h-0.9zM122.1,173.2h0.9v0.9h-0.9zM123.0,168.7h0.9v0.9h-0.9zM121.1,171.1h0.9v0.9h-0.9zM130.9,170.1h0.9v0.9h-0.9zM135.1,172.9h0.9v0.9h-0.9zM130.7,173.3h0.9v0.9h-0.9zM133.6,171.2h0.9v0.9h-0.9zM123.8,173.0h0.9v0.9h-0.9zM124.0,173.4h0.9v0.9h-0.9zM124.4,167.7h0.9v0.9h-0.9zM124.6,172.2h0.9v0.9h-0.9zM126.0,158.7h1.25v1.25h-1.25zM127.5,172.6h1.25v1.25h-1.25zM121.8,171.9h1.25v1.25h-1.25zM121.2,173.3h0.9v0.9h-0.9zM121.5,171.1h0.9v0.9h-0.9zM134.8,171.5h0.9v0.9h-0.9zM135.6,172.3h0.9v0.9h-0.9zM135.5,165.2h0.9v0.9h-0.9zM122.0,173.0h1.25v1.25h-1.25zM123.8,167.9h0.9v0.9h-0.9zM123.4,171.5h0.9v0.9h-0.9zM123.1,170.4h0.9v0.9h-0.9zM125.4,172.4h0.9v0.9h-0.9zM127.0,170.9h0.9v0.9h-0.9zM136.9,172.1h0.9v0.9h-0.9zM125.1,173.3h0.9v0.9h-0.9zM121.7,172.4h0.9v0.9h-0.9zM131.7,170.1h1.25v1.25h-1.25zM122.3,172.5h0.9v0.9h-0.9zM133.1,173.2h0.9v0.9h-0.9zM122.5,169.9h0.9v0.9h-0.9zM124.5,170.6h0.9v0.9h-0.9zM124.3,170.9h0.9v0.9h-0.9zM125.2,169.5h1.25v1.25h-1.25zM121.8,152.9h0.9v0.9h-0.9zM121.8,172.9h0.9v0.9h-0.9zM123.0,171.5h0.9v0.9h-0.9zM127.5,172.3h0.9v0.9h-0.9zM128.8,167.6h0.9v0.9h-0.9zM126.9,173.1h1.25v1.25h-1.25zM128.4,172.4h1.25v1.25h-1.25zM121.9,167.9h1.25v1.25h-1.25zM122.1,172.6h0.9v0.9h-0.9zM128.0,171.1h0.9v0.9h-0.9zM122.3,172.1h0.9v0.9h-0.9zM123.5,165.5h1.25v1.25h-1.25zM125.0,171.3h0.9v0.9h-0.9zM121.7,173.4h0.9v0.9h-0.9zM121.6,167.8h0.9v0.9h-0.9zM129.8,171.7h0.9v0.9h-0.9zM137.7,170.9h0.9v0.9h-0.9zM122.2,171.8h1.25v1.25h-1.25zM131.1,173.0h0.9v0.9h-0.9zM124.6,172.9h0.9v0.9h-0.9zM120.8,171.4h0.9v0.9h-0.9zM122.1,171.3h1.25v1.25h-1.25zM120.8,148.9h1.25v1.25h-1.25zM121.6,172.1h0.9v0.9h-0.9zM123.4,172.9h0.9v0.9h-0.9zM121.2,173.2h0.9v0.9h-0.9zM126.7,170.7h0.9v0.9h-0.9zM122.8,173.0h1.25v1.25h-1.25zM124.9,171.9h0.9v0.9h-0.9zM123.2,173.0h0.9v0.9h-0.9zM128.8,165.5h0.9v0.9h-0.9zM126.9,170.7h0.9v0.9h-0.9zM121.2,172.0h0.9v0.9h-0.9zM121.8,173.2h0.9v0.9h-0.9zM122.1,172.5h0.9v0.9h-0.9zM127.2,161.8h0.9v0.9h-0.9zM122.5,171.4h0.9v0.9h-0.9zM132.3,172.8h0.9v0.9h-0.9zM122.3,173.0h0.9v0.9h-0.9zM129.5,168.0h0.9v0.9h-0.9zM122.6,171.2h0.9v0.9h-0.9zM125.4,172.9h0.9v0.9h-0.9zM121.6,169.8h0.9v0.9h-0.9zM121.9,167.0h0.9v0.9h-0.9zM123.0,172.1h0.9v0.9h-0.9zM121.3,169.0h0.9v0.9h-0.9zM122.2,173.0h0.9v0.9h-0.9zM124.0,170.9h0.9v0.9h-0.9zM123.7,168.8h0.9v0.9h-0.9zM121.3,171.7h0.9v0.9h-0.9zM120.9,169.3h0.9v0.9h-0.9zM123.9,172.8h0.9v0.9h-0.9zM127.7,172.4h0.9v0.9h-0.9zM123.3,143.6h0.9v0.9h-0.9zM122.4,173.2h0.9v0.9h-0.9zM121.1,172.1h1.25v1.25h-1.25zM121.7,170.9h0.9v0.9h-0.9zM122.8,170.9h1.25v1.25h-1.25zM121.4,171.1h1.25v1.25h-1.25zM132.5,168.1h0.9v0.9h-0.9zM122.5,171.3h0.9v0.9h-0.9zM121.4,168.0h0.9v0.9h-0.9zM129.1,172.9h0.9v0.9h-0.9zM123.9,173.1h1.25v1.25h-1.25zM122.7,171.1h0.9v0.9h-0.9zM121.8,170.5h1.25v1.25h-1.25zM125.0,160.4h0.9v0.9h-0.9zM132.2,172.7h1.25v1.25h-1.25zM129.3,172.6h0.9v0.9h-0.9zM122.9,173.2h0.9v0.9h-0.9zM132.8,171.7h1.25v1.25h-1.25zM127.8,169.1h1.25v1.25h-1.25zM144.1,171.0h1.25v1.25h-1.25zM122.2,172.6h1.25v1.25h-1.25zM121.5,172.7h1.25v1.25h-1.25zM122.9,170.2h1.25v1.25h-1.25zM121.5,171.1h0.9v0.9h-0.9zM126.0,155.0h0.9v0.9h-0.9zM123.8,170.8h0.9v0.9h-0.9zM130.9,172.7h0.9v0.9h-0.9zM121.3,173.4h0.9v0.9h-0.9zM122.0,172.8h0.9v0.9h-0.9zM121.9,172.5h1.25v1.25h-1.25zM136.1,171.7h1.25v1.25h-1.25zM123.9,171.2h0.9v0.9h-0.9zM131.1,173.2h0.9v0.9h-0.9zM129.6,172.3h0.9v0.9h-0.9zM131.4,173.0h0.9v0.9h-0.9zM123.0,171.4h0.9v0.9h-0.9zM133.0,165.4h0.9v0.9h-0.9zM127.1,173.2h0.9v0.9h-0.9zM129.3,172.7h0.9v0.9h-0.9zM127.6,173.0h1.25v1.25h-1.25zM145.1,172.6h0.9v0.9h-0.9zM134.0,172.8h0.9v0.9h-0.9z" fill="#e6007e"/>
<circle cx="38.5" cy="152.3" r="1.20" fill="#3b6fb6" />
<circle cx="51.4" cy="159.5" r="1.10" fill="#3b6fb6" />
<circle cx="58.0" cy="162.6" r="1.00" fill="#3b6fb6" />
<circle cx="97.7" cy="61.3" r="0.60" fill="#3b6fb6" />
<circle cx="91.3" cy="102.3" r="0.60" fill="#3b6fb6" />
<circle cx="87.0" cy="111.6" r="0.80" fill="#3b6fb6" />
<circle cx="99.5" cy="111.3" r="0.60" fill="#3b6fb6" />
<circle cx="87.0" cy="134.0" r="0.90" fill="#3b6fb6" />
<circle cx="79.0" cy="171.3" r="0.80" fill="#3b6fb6" />
<circle cx="81.0" cy="171.5" r="0.80" fill="#3b6fb6" />
<circle cx="84.5" cy="170.0" r="0.70" fill="#3b6fb6" />
<circle cx="99.3" cy="148.9" r="0.70" fill="#3b6fb6" />
<circle cx="106.6" cy="147.6" r="0.60" fill="#3b6fb6" />
<circle cx="103.0" cy="152.0" r="0.70" fill="#3b6fb6" />
<circle cx="101.5" cy="156.0" r="0.70" fill="#3b6fb6" />
<circle cx="104.5" cy="157.5" r="0.60" fill="#3b6fb6" />
<circle cx="98.5" cy="161.0" r="0.70" fill="#3b6fb6" />
<circle cx="107.0" cy="152.5" r="0.60" fill="#3b6fb6" />
<circle cx="105.0" cy="163.0" r="0.70" fill="#3b6fb6" />
<circle cx="100.0" cy="166.0" r="0.60" fill="#3b6fb6" />
<circle cx="97.5" cy="168.0" r="0.70" fill="#3b6fb6" />
<circle cx="94.0" cy="169.5" r="0.60" fill="#3b6fb6" />
<circle cx="91.0" cy="171.0" r="0.70" fill="#3b6fb6" />
<circle cx="142.4" cy="21.9" r="0.60" fill="#e6007e" />
<circle cx="145.5" cy="34.2" r="0.60" fill="#e6007e" />
<circle cx="149.0" cy="62.2" r="0.70" fill="#e6007e" />
<circle cx="148.2" cy="70.0" r="0.70" fill="#e6007e" />
<circle cx="153.4" cy="118.7" r="0.90" fill="#e6007e" />
<circle cx="127.2" cy="126.3" r="0.70" fill="#e6007e" />
<circle cx="131.0" cy="124.5" r="0.70" fill="#e6007e" />
<circle cx="138.0" cy="129.4" r="0.80" fill="#e6007e" />
<circle cx="146.8" cy="130.1" r="0.90" fill="#e6007e" />
<circle cx="151.3" cy="130.7" r="0.80" fill="#e6007e" />
<circle cx="127.2" cy="133.3" r="0.70" fill="#e6007e" />
<circle cx="140.0" cy="136.8" r="0.80" fill="#e6007e" />
<circle cx="130.7" cy="138.5" r="0.70" fill="#e6007e" />
<circle cx="134.5" cy="140.6" r="0.70" fill="#e6007e" />
<circle cx="166.6" cy="165.3" r="1.20" fill="#e6007e" />
<circle cx="125.5" cy="147.5" r="0.60" fill="#e6007e" />
<circle cx="122.5" cy="150.5" r="0.60" fill="#e6007e" />
<circle cx="127.0" cy="151.0" r="0.70" fill="#e6007e" />
<circle cx="131.5" cy="149.0" r="0.60" fill="#e6007e" />
<circle cx="133.0" cy="151.5" r="0.60" fill="#e6007e" />
<circle cx="141.5" cy="149.5" r="0.70" fill="#e6007e" />
<circle cx="143.0" cy="152.0" r="0.70" fill="#e6007e" />
<circle cx="128.0" cy="155.0" r="0.60" fill="#e6007e" />
<circle cx="133.0" cy="156.0" r="0.70" fill="#e6007e" />
<circle cx="137.0" cy="157.0" r="0.80" fill="#e6007e" />
<circle cx="142.0" cy="155.5" r="0.70" fill="#e6007e" />
<circle cx="145.5" cy="156.0" r="0.70" fill="#e6007e" />
<circle cx="150.0" cy="155.5" r="0.70" fill="#e6007e" />
<circle cx="152.5" cy="154.5" r="1.00" fill="#e6007e" />
<circle cx="154.0" cy="155.0" r="0.80" fill="#e6007e" />
<circle cx="138.0" cy="161.0" r="0.70" fill="#e6007e" />
<circle cx="143.0" cy="162.0" r="0.70" fill="#e6007e" />
<circle cx="147.0" cy="161.5" r="0.70" fill="#e6007e" />
<circle cx="150.5" cy="158.5" r="0.70" fill="#e6007e" />
<circle cx="127.5" cy="160.0" r="0.70" fill="#e6007e" />
<circle cx="130.0" cy="163.0" r="0.70" fill="#e6007e" />
<circle cx="135.0" cy="165.0" r="0.70" fill="#e6007e" />
<circle cx="140.0" cy="166.0" r="0.70" fill="#e6007e" />
<circle cx="144.0" cy="165.0" r="0.70" fill="#e6007e" />
<circle cx="148.5" cy="166.0" r="0.70" fill="#e6007e" />
<circle cx="152.0" cy="170.0" r="0.90" fill="#e6007e" />
<circle cx="154.5" cy="170.0" r="0.90" fill="#e6007e" />
<circle cx="156.0" cy="168.0" r="0.90" fill="#e6007e" />
<circle cx="158.5" cy="168.5" r="0.90" fill="#e6007e" />
<circle cx="148.5" cy="172.0" r="0.80" fill="#e6007e" />
<circle cx="150.5" cy="171.0" r="0.80" fill="#e6007e" />
<circle cx="132.5" cy="168.0" r="0.70" fill="#e6007e" />
<circle cx="136.0" cy="170.0" r="0.70" fill="#e6007e" />
<circle cx="139.5" cy="171.5" r="0.70" fill="#e6007e" />
<circle cx="142.0" cy="170.0" r="0.70" fill="#e6007e" />
<circle cx="145.0" cy="172.0" r="0.70" fill="#e6007e" />
<circle cx="129.0" cy="168.5" r="0.70" fill="#e6007e" />
<circle cx="126.0" cy="165.0" r="0.70" fill="#e6007e" />
<circle cx="124.0" cy="158.0" r="0.60" fill="#e6007e" />
<circle cx="123.0" cy="162.0" r="0.60" fill="#e6007e" />
<line x1="33.9" y1="174.8" x2="196.4" y2="174.8" stroke="#8c8c8c" stroke-width="2.0" />
<line x1="32.0" y1="36.4" x2="34.5" y2="36.4" stroke="#8c8c8c" stroke-width="0.8" />
<text x="30.9" y="40.8" font-size="10.5" text-anchor="end" fill="#0a0a0a" >180</text>
<line x1="32.0" y1="60.3" x2="34.5" y2="60.3" stroke="#8c8c8c" stroke-width="0.8" />
<text x="30.9" y="63.6" font-size="10.5" text-anchor="end" fill="#0a0a0a" >150</text>
<line x1="32.0" y1="83.2" x2="34.5" y2="83.2" stroke="#8c8c8c" stroke-width="0.8" />
<text x="30.9" y="87.0" font-size="10.5" text-anchor="end" fill="#0a0a0a" >120</text>
<line x1="32.0" y1="106.2" x2="34.5" y2="106.2" stroke="#8c8c8c" stroke-width="0.8" />
<text x="30.9" y="110.5" font-size="10.5" text-anchor="end" fill="#0a0a0a" >90</text>
<line x1="32.0" y1="129.2" x2="34.5" y2="129.2" stroke="#8c8c8c" stroke-width="0.8" />
<text x="30.9" y="133.6" font-size="10.5" text-anchor="end" fill="#0a0a0a" >60</text>
<line x1="32.0" y1="152.4" x2="34.5" y2="152.4" stroke="#8c8c8c" stroke-width="0.8" />
<text x="30.9" y="155.7" font-size="10.5" text-anchor="end" fill="#0a0a0a" >30</text>
<line x1="32.0" y1="175.0" x2="34.5" y2="175.0" stroke="#8c8c8c" stroke-width="0.8" />
<text x="30.9" y="177.6" font-size="10.5" text-anchor="end" fill="#0a0a0a" >0</text>
<text x="48.0" y="186.9" font-size="10.5" text-anchor="middle" fill="#0a0a0a" >-12</text>
<text x="64.7" y="186.9" font-size="10.5" text-anchor="middle" fill="#0a0a0a" >-9</text>
<text x="81.0" y="186.9" font-size="10.5" text-anchor="middle" fill="#0a0a0a" >-6</text>
<text x="97.8" y="186.9" font-size="10.5" text-anchor="middle" fill="#0a0a0a" >-3</text>
<text x="115.5" y="186.9" font-size="10.5" text-anchor="middle" fill="#0a0a0a" >0</text>
<text x="132.6" y="186.9" font-size="10.5" text-anchor="middle" fill="#0a0a0a" >3</text>
<text x="149.6" y="186.9" font-size="10.5" text-anchor="middle" fill="#0a0a0a" >6</text>
<text x="166.4" y="186.9" font-size="10.5" text-anchor="middle" fill="#0a0a0a" >9</text>
<text x="183.8" y="186.9" font-size="10.5" text-anchor="middle" fill="#0a0a0a" >12</text>
<text x="69.0" y="43.2" font-size="10.5" text-anchor="start" fill="#0a0a0a" >852</text>
<text x="143.8" y="44.6" font-size="10.5" text-anchor="start" fill="#0a0a0a" >642</text>
<text transform="translate(8.6,128) rotate(-90)" font-size="10.5" fill="#0a0a0a">-log<tspan font-size="7" dy="2">10 </tspan><tspan dy="-2">(</tspan><tspan font-style="italic">P</tspan>-value)</text>
<text x="76.7" y="199.3" font-size="10.5" fill="#0a0a0a">Log<tspan font-size="7" dy="2">2 </tspan><tspan dy="-2">(Fold Change)</tspan></text>
<text x="189.4" y="15.2" font-size="21" text-anchor="start" fill="#000" >b</text>
<text x="281.6" y="9.9" font-size="10.65" fill="#0a0a0a">Nip vs <tspan font-style="italic">gnp4/lax2-ko</tspan></text>
<line x1="223.5" y1="13.3" x2="223.5" y2="174.3" stroke="#969696" stroke-width="1.3" />
<line x1="299.5" y1="13.3" x2="299.5" y2="173.3" stroke="#707070" stroke-width="1" />
<line x1="308.5" y1="13.3" x2="308.5" y2="173.3" stroke="#c6c6c6" stroke-width="1" />
<path d="M281.1,173.70000000000002 L281.1,172.4 L299.5,171.70000000000002 L299.5,165.3 Q302.1,166.9 303.7,172.70000000000002 L305.1,172.70000000000002 Q305.9,166.9 308.5,165.3 L308.5,171.70000000000002 L326.9,172.4 L326.9,173.70000000000002 Z" fill="#6f6f6f"/>
<path d="M299.5,172.70000000000002 L299.5,168.3 L292.5,171.10000000000002 L277.5,172.10000000000002 L277.5,172.70000000000002 Z" fill="#3b6fb6"/>
<path d="M309.0,172.70000000000002 L309.0,168.3 L316.5,171.3 L330.5,172.10000000000002 L330.5,172.70000000000002 Z" fill="#e6007e"/>
<path d="M295.1,167.6h0.9v0.9h-0.9zM297.8,171.2h0.9v0.9h-0.9zM298.7,169.9h0.9v0.9h-0.9zM298.6,171.3h0.9v0.9h-0.9zM297.9,171.3h0.9v0.9h-0.9zM297.2,170.4h1.25v1.25h-1.25zM297.0,167.0h0.9v0.9h-0.9zM298.6,166.8h1.25v1.25h-1.25zM297.4,170.6h0.9v0.9h-0.9zM295.0,171.4h1.25v1.25h-1.25zM296.2,160.6h0.9v0.9h-0.9zM297.7,166.9h0.9v0.9h-0.9zM297.2,170.2h0.9v0.9h-0.9zM294.4,171.4h0.9v0.9h-0.9zM292.3,170.0h0.9v0.9h-0.9zM297.8,170.2h0.9v0.9h-0.9zM298.6,162.4h1.25v1.25h-1.25zM299.2,170.5h0.9v0.9h-0.9zM297.6,170.9h0.9v0.9h-0.9zM289.5,170.5h0.9v0.9h-0.9zM297.5,168.8h0.9v0.9h-0.9zM297.6,170.8h1.25v1.25h-1.25zM296.5,170.9h1.25v1.25h-1.25zM298.7,171.7h0.9v0.9h-0.9zM299.1,171.4h0.9v0.9h-0.9zM299.1,166.9h0.9v0.9h-0.9zM290.4,170.2h1.25v1.25h-1.25zM299.0,170.6h0.9v0.9h-0.9zM294.2,170.8h0.9v0.9h-0.9zM291.7,170.0h1.25v1.25h-1.25zM299.2,171.2h0.9v0.9h-0.9zM294.8,171.5h0.9v0.9h-0.9zM298.6,169.6h1.25v1.25h-1.25zM297.7,170.6h0.9v0.9h-0.9zM298.2,155.8h1.25v1.25h-1.25zM294.8,170.3h0.9v0.9h-0.9zM297.7,171.6h0.9v0.9h-0.9zM295.1,167.8h0.9v0.9h-0.9zM296.1,167.6h0.9v0.9h-0.9zM297.8,166.2h1.25v1.25h-1.25zM290.2,171.4h0.9v0.9h-0.9zM297.5,171.7h1.25v1.25h-1.25zM293.6,171.7h0.9v0.9h-0.9zM297.3,170.1h0.9v0.9h-0.9zM297.4,165.8h1.25v1.25h-1.25zM295.8,170.8h0.9v0.9h-0.9zM290.7,168.8h1.25v1.25h-1.25zM282.1,171.0h0.9v0.9h-0.9zM298.2,171.4h1.25v1.25h-1.25zM296.8,166.8h0.9v0.9h-0.9zM289.5,171.4h0.9v0.9h-0.9zM296.2,170.0h0.9v0.9h-0.9zM289.3,161.2h0.9v0.9h-0.9zM298.1,162.7h0.9v0.9h-0.9zM294.5,162.5h0.9v0.9h-0.9zM298.9,169.3h0.9v0.9h-0.9zM295.4,170.8h1.25v1.25h-1.25zM288.8,170.6h0.9v0.9h-0.9zM293.2,170.5h1.25v1.25h-1.25zM297.4,170.5h0.9v0.9h-0.9zM294.2,163.7h0.9v0.9h-0.9zM282.9,169.1h0.9v0.9h-0.9zM295.6,171.2h1.25v1.25h-1.25zM299.2,171.5h1.25v1.25h-1.25zM291.1,167.3h0.9v0.9h-0.9zM294.6,170.9h1.25v1.25h-1.25zM298.5,164.8h0.9v0.9h-0.9zM298.5,170.9h0.9v0.9h-0.9zM289.5,168.8h0.9v0.9h-0.9zM290.3,155.1h0.9v0.9h-0.9zM286.3,169.8h0.9v0.9h-0.9zM292.2,171.5h1.25v1.25h-1.25zM293.3,169.1h0.9v0.9h-0.9zM297.0,165.5h1.25v1.25h-1.25zM298.7,170.2h0.9v0.9h-0.9zM298.6,169.1h0.9v0.9h-0.9zM298.2,170.2h0.9v0.9h-0.9zM296.0,158.7h0.9v0.9h-0.9zM287.5,171.4h0.9v0.9h-0.9zM286.8,170.2h0.9v0.9h-0.9zM299.2,171.2h0.9v0.9h-0.9zM295.6,166.1h0.9v0.9h-0.9zM297.6,169.8h0.9v0.9h-0.9zM292.0,170.9h0.9v0.9h-0.9zM298.0,171.2h1.25v1.25h-1.25zM299.1,168.7h0.9v0.9h-0.9zM296.7,161.8h0.9v0.9h-0.9zM295.1,162.5h0.9v0.9h-0.9zM294.7,171.3h0.9v0.9h-0.9zM286.5,170.1h0.9v0.9h-0.9zM297.3,170.0h1.25v1.25h-1.25zM299.3,171.0h1.25v1.25h-1.25zM298.9,171.1h1.25v1.25h-1.25zM296.6,165.3h0.9v0.9h-0.9zM294.9,159.6h1.25v1.25h-1.25zM298.9,171.1h0.9v0.9h-0.9zM297.6,165.9h1.25v1.25h-1.25zM280.7,169.7h0.9v0.9h-0.9zM294.5,170.9h1.25v1.25h-1.25zM298.2,171.0h0.9v0.9h-0.9zM296.0,171.4h0.9v0.9h-0.9zM296.2,170.7h0.9v0.9h-0.9zM299.2,169.8h0.9v0.9h-0.9zM294.1,159.5h0.9v0.9h-0.9zM298.9,170.8h0.9v0.9h-0.9zM294.0,163.9h1.25v1.25h-1.25zM297.1,166.8h0.9v0.9h-0.9zM298.6,171.4h0.9v0.9h-0.9zM299.0,170.7h0.9v0.9h-0.9zM296.7,171.2h0.9v0.9h-0.9zM298.0,167.1h0.9v0.9h-0.9zM297.2,171.5h0.9v0.9h-0.9zM292.4,171.4h0.9v0.9h-0.9zM299.1,170.9h0.9v0.9h-0.9zM294.3,170.3h0.9v0.9h-0.9zM295.2,169.6h0.9v0.9h-0.9zM290.7,169.9h0.9v0.9h-0.9zM298.5,166.9h1.25v1.25h-1.25zM297.8,166.5h0.9v0.9h-0.9zM297.4,170.6h0.9v0.9h-0.9zM299.0,162.8h1.25v1.25h-1.25zM298.9,170.4h0.9v0.9h-0.9zM295.2,168.6h0.9v0.9h-0.9zM289.3,170.5h0.9v0.9h-0.9zM296.9,165.5h0.9v0.9h-0.9zM296.1,171.6h0.9v0.9h-0.9zM293.4,169.0h0.9v0.9h-0.9zM296.1,170.9h0.9v0.9h-0.9zM297.6,171.1h1.25v1.25h-1.25zM297.2,171.2h0.9v0.9h-0.9zM291.9,171.4h1.25v1.25h-1.25zM294.7,168.3h0.9v0.9h-0.9zM299.3,170.2h1.25v1.25h-1.25zM278.6,167.1h0.9v0.9h-0.9zM291.9,165.1h0.9v0.9h-0.9zM288.4,171.3h0.9v0.9h-0.9zM296.9,170.8h0.9v0.9h-0.9zM296.0,169.8h0.9v0.9h-0.9zM296.7,169.6h0.9v0.9h-0.9zM296.5,168.9h0.9v0.9h-0.9zM293.7,171.2h1.25v1.25h-1.25zM296.7,171.0h0.9v0.9h-0.9zM294.8,170.4h0.9v0.9h-0.9zM298.4,170.9h0.9v0.9h-0.9zM297.7,169.2h0.9v0.9h-0.9zM298.3,169.7h0.9v0.9h-0.9zM295.6,171.1h0.9v0.9h-0.9zM297.7,156.2h0.9v0.9h-0.9zM295.2,168.6h0.9v0.9h-0.9zM297.8,164.3h0.9v0.9h-0.9zM296.8,171.1h0.9v0.9h-0.9zM294.7,168.1h1.25v1.25h-1.25zM297.2,171.0h1.25v1.25h-1.25zM298.6,170.4h1.25v1.25h-1.25zM292.3,168.1h1.25v1.25h-1.25zM297.2,164.2h0.9v0.9h-0.9zM298.8,170.6h0.9v0.9h-0.9zM296.0,171.6h0.9v0.9h-0.9zM297.5,169.5h0.9v0.9h-0.9zM297.8,169.8h0.9v0.9h-0.9zM299.2,169.9h0.9v0.9h-0.9zM298.5,167.1h0.9v0.9h-0.9zM296.1,171.0h0.9v0.9h-0.9zM297.9,169.9h0.9v0.9h-0.9zM298.8,170.3h0.9v0.9h-0.9zM297.6,171.5h1.25v1.25h-1.25zM298.3,171.2h0.9v0.9h-0.9zM297.6,164.0h1.25v1.25h-1.25zM298.1,170.5h1.25v1.25h-1.25zM299.1,171.2h0.9v0.9h-0.9zM293.8,170.2h0.9v0.9h-0.9zM293.4,169.6h0.9v0.9h-0.9zM297.2,171.5h0.9v0.9h-0.9zM298.4,171.3h0.9v0.9h-0.9zM297.6,170.4h0.9v0.9h-0.9zM294.8,164.1h0.9v0.9h-0.9zM296.7,170.8h1.25v1.25h-1.25zM298.4,170.9h0.9v0.9h-0.9zM295.8,171.1h0.9v0.9h-0.9zM287.9,171.5h0.9v0.9h-0.9zM296.5,170.9h1.25v1.25h-1.25zM297.8,165.7h0.9v0.9h-0.9zM297.4,166.3h0.9v0.9h-0.9zM297.1,171.2h0.9v0.9h-0.9zM297.1,170.8h0.9v0.9h-0.9zM299.2,160.1h0.9v0.9h-0.9zM295.2,170.5h0.9v0.9h-0.9zM298.6,169.5h0.9v0.9h-0.9zM295.5,165.6h0.9v0.9h-0.9zM296.7,170.2h0.9v0.9h-0.9zM296.9,171.4h0.9v0.9h-0.9zM295.1,169.9h0.9v0.9h-0.9zM296.2,168.3h1.25v1.25h-1.25zM296.2,170.8h0.9v0.9h-0.9zM286.4,169.7h0.9v0.9h-0.9zM295.8,155.0h1.25v1.25h-1.25zM294.5,158.6h0.9v0.9h-0.9zM292.8,171.7h1.25v1.25h-1.25zM297.2,169.5h0.9v0.9h-0.9zM292.0,155.7h0.9v0.9h-0.9zM299.2,171.6h0.9v0.9h-0.9zM295.7,170.6h0.9v0.9h-0.9zM298.1,167.2h1.25v1.25h-1.25zM282.4,168.7h0.9v0.9h-0.9zM289.7,169.2h0.9v0.9h-0.9zM298.9,170.2h0.9v0.9h-0.9zM292.0,163.3h0.9v0.9h-0.9zM293.6,171.3h1.25v1.25h-1.25zM298.1,168.3h0.9v0.9h-0.9zM294.9,171.2h0.9v0.9h-0.9zM288.0,170.3h0.9v0.9h-0.9zM299.2,169.1h1.25v1.25h-1.25zM297.7,169.7h0.9v0.9h-0.9zM295.4,170.3h0.9v0.9h-0.9zM290.1,170.4h0.9v0.9h-0.9zM298.5,170.9h1.25v1.25h-1.25zM298.9,169.8h0.9v0.9h-0.9zM297.6,171.2h0.9v0.9h-0.9zM299.3,171.1h1.25v1.25h-1.25zM296.3,169.8h0.9v0.9h-0.9zM293.8,167.9h0.9v0.9h-0.9zM295.1,170.6h0.9v0.9h-0.9zM288.1,171.0h0.9v0.9h-0.9zM296.7,170.3h1.25v1.25h-1.25zM297.5,170.7h0.9v0.9h-0.9zM298.5,170.2h0.9v0.9h-0.9zM296.7,171.7h1.25v1.25h-1.25zM298.5,165.7h0.9v0.9h-0.9zM296.5,163.1h0.9v0.9h-0.9zM294.5,165.7h0.9v0.9h-0.9zM297.6,171.6h0.9v0.9h-0.9zM295.0,166.3h0.9v0.9h-0.9zM298.9,167.8h0.9v0.9h-0.9zM298.2,170.4h0.9v0.9h-0.9zM296.8,169.8h0.9v0.9h-0.9zM297.6,169.3h0.9v0.9h-0.9zM298.4,170.0h0.9v0.9h-0.9zM294.9,161.3h0.9v0.9h-0.9zM299.2,170.7h1.25v1.25h-1.25zM297.5,171.6h1.25v1.25h-1.25zM296.7,170.6h0.9v0.9h-0.9zM292.8,171.3h0.9v0.9h-0.9zM291.1,169.6h0.9v0.9h-0.9zM297.0,171.2h0.9v0.9h-0.9zM291.9,168.5h1.25v1.25h-1.25zM285.2,164.8h0.9v0.9h-0.9zM292.5,171.4h0.9v0.9h-0.9zM294.7,171.3h0.9v0.9h-0.9zM295.4,171.7h0.9v0.9h-0.9zM297.9,170.9h0.9v0.9h-0.9zM295.2,168.7h0.9v0.9h-0.9zM296.4,171.5h0.9v0.9h-0.9zM299.0,171.7h0.9v0.9h-0.9zM297.6,169.3h0.9v0.9h-0.9zM297.3,168.0h0.9v0.9h-0.9zM286.7,170.6h0.9v0.9h-0.9zM286.5,169.7h1.25v1.25h-1.25zM297.5,171.1h0.9v0.9h-0.9zM299.1,167.8h0.9v0.9h-0.9zM297.2,171.1h0.9v0.9h-0.9zM296.6,166.4h1.25v1.25h-1.25zM298.3,170.7h0.9v0.9h-0.9zM297.1,171.0h0.9v0.9h-0.9zM294.7,153.7h0.9v0.9h-0.9zM298.0,171.7h0.9v0.9h-0.9zM298.8,171.7h0.9v0.9h-0.9zM298.4,171.3h0.9v0.9h-0.9zM296.6,162.2h0.9v0.9h-0.9zM298.2,163.8h0.9v0.9h-0.9zM294.3,151.5h0.9v0.9h-0.9zM295.9,171.5h0.9v0.9h-0.9zM294.9,169.3h0.9v0.9h-0.9zM296.8,168.6h0.9v0.9h-0.9zM296.1,171.1h0.9v0.9h-0.9zM299.0,170.4h0.9v0.9h-0.9zM298.9,170.4h0.9v0.9h-0.9zM297.6,167.5h0.9v0.9h-0.9zM284.7,162.9h1.25v1.25h-1.25zM298.2,169.9h0.9v0.9h-0.9zM295.5,170.1h0.9v0.9h-0.9zM292.0,169.6h0.9v0.9h-0.9zM298.5,169.3h0.9v0.9h-0.9zM295.3,167.5h0.9v0.9h-0.9zM295.0,170.3h1.25v1.25h-1.25zM297.5,170.8h0.9v0.9h-0.9zM294.3,170.7h0.9v0.9h-0.9zM296.6,155.2h1.25v1.25h-1.25zM293.8,170.5h1.25v1.25h-1.25zM298.3,169.3h1.25v1.25h-1.25zM292.7,171.1h0.9v0.9h-0.9zM296.9,170.8h0.9v0.9h-0.9zM292.5,169.6h0.9v0.9h-0.9zM298.7,171.2h0.9v0.9h-0.9zM298.9,166.9h0.9v0.9h-0.9zM292.4,168.1h0.9v0.9h-0.9zM298.2,171.7h0.9v0.9h-0.9zM297.5,162.1h0.9v0.9h-0.9zM299.3,171.2h0.9v0.9h-0.9zM299.2,167.3h0.9v0.9h-0.9zM296.7,169.9h1.25v1.25h-1.25zM297.6,167.6h0.9v0.9h-0.9zM292.4,163.0h1.25v1.25h-1.25zM294.9,168.5h0.9v0.9h-0.9zM296.4,168.8h0.9v0.9h-0.9zM294.8,168.8h0.9v0.9h-0.9zM295.9,168.5h0.9v0.9h-0.9zM297.8,170.8h0.9v0.9h-0.9zM297.8,166.6h0.9v0.9h-0.9zM295.3,168.8h0.9v0.9h-0.9zM297.0,171.0h0.9v0.9h-0.9zM295.7,171.2h0.9v0.9h-0.9zM291.1,170.7h0.9v0.9h-0.9zM297.8,160.8h0.9v0.9h-0.9zM293.5,171.3h1.25v1.25h-1.25zM298.6,169.3h0.9v0.9h-0.9zM296.9,165.8h0.9v0.9h-0.9zM292.3,170.0h0.9v0.9h-0.9zM298.0,170.7h0.9v0.9h-0.9zM296.7,169.9h1.25v1.25h-1.25zM298.5,171.7h0.9v0.9h-0.9zM299.1,168.3h0.9v0.9h-0.9zM286.8,170.0h0.9v0.9h-0.9zM299.3,171.1h0.9v0.9h-0.9zM299.1,170.8h0.9v0.9h-0.9zM297.4,165.2h1.25v1.25h-1.25zM295.9,166.2h1.25v1.25h-1.25zM283.4,171.6h1.25v1.25h-1.25zM295.3,166.9h1.25v1.25h-1.25zM291.0,165.7h0.9v0.9h-0.9zM298.0,169.9h0.9v0.9h-0.9zM296.4,170.1h1.25v1.25h-1.25zM296.2,171.6h0.9v0.9h-0.9zM296.3,165.1h0.9v0.9h-0.9zM296.9,170.3h0.9v0.9h-0.9zM288.5,169.0h1.25v1.25h-1.25zM299.1,171.6h0.9v0.9h-0.9zM293.4,168.3h0.9v0.9h-0.9zM294.8,169.9h0.9v0.9h-0.9zM296.0,168.8h1.25v1.25h-1.25zM298.3,170.8h0.9v0.9h-0.9zM293.3,166.0h0.9v0.9h-0.9zM289.2,169.5h0.9v0.9h-0.9zM289.2,158.8h0.9v0.9h-0.9zM296.4,171.6h0.9v0.9h-0.9zM298.7,170.3h0.9v0.9h-0.9zM296.1,162.1h0.9v0.9h-0.9zM298.7,168.4h0.9v0.9h-0.9zM289.0,171.2h0.9v0.9h-0.9zM291.9,171.5h0.9v0.9h-0.9zM293.8,168.3h1.25v1.25h-1.25zM297.8,166.9h0.9v0.9h-0.9zM295.1,168.1h0.9v0.9h-0.9zM298.1,168.3h0.9v0.9h-0.9zM292.1,171.2h0.9v0.9h-0.9zM295.2,161.7h0.9v0.9h-0.9zM298.0,170.2h0.9v0.9h-0.9zM297.0,171.4h0.9v0.9h-0.9zM297.7,171.4h0.9v0.9h-0.9zM294.2,164.0h0.9v0.9h-0.9zM298.3,167.8h0.9v0.9h-0.9zM297.1,169.5h0.9v0.9h-0.9zM293.6,168.8h0.9v0.9h-0.9zM294.9,168.4h0.9v0.9h-0.9zM298.1,171.2h0.9v0.9h-0.9zM298.1,169.8h0.9v0.9h-0.9zM297.5,166.4h0.9v0.9h-0.9zM296.2,171.1h0.9v0.9h-0.9zM298.9,168.9h0.9v0.9h-0.9zM297.2,170.5h0.9v0.9h-0.9zM292.6,170.8h0.9v0.9h-0.9zM295.6,166.8h0.9v0.9h-0.9zM297.9,171.1h0.9v0.9h-0.9zM297.0,167.2h1.25v1.25h-1.25zM296.9,171.4h1.25v1.25h-1.25zM295.5,170.7h1.25v1.25h-1.25zM299.2,168.4h0.9v0.9h-0.9zM292.8,161.9h0.9v0.9h-0.9zM297.4,163.7h0.9v0.9h-0.9zM299.0,171.2h0.9v0.9h-0.9zM297.3,167.5h1.25v1.25h-1.25zM295.6,171.5h0.9v0.9h-0.9zM296.6,170.6h1.25v1.25h-1.25zM297.3,170.7h0.9v0.9h-0.9zM289.0,170.2h0.9v0.9h-0.9zM298.2,170.4h0.9v0.9h-0.9zM285.0,171.3h0.9v0.9h-0.9zM298.7,168.8h1.25v1.25h-1.25zM298.3,170.6h0.9v0.9h-0.9zM296.5,171.3h0.9v0.9h-0.9zM295.0,166.9h1.25v1.25h-1.25zM298.0,168.1h0.9v0.9h-0.9zM298.4,168.9h0.9v0.9h-0.9zM294.4,171.1h0.9v0.9h-0.9zM298.3,170.9h1.25v1.25h-1.25zM297.1,170.9h1.25v1.25h-1.25zM296.0,170.8h0.9v0.9h-0.9zM298.5,169.6h0.9v0.9h-0.9zM295.6,169.1h0.9v0.9h-0.9zM292.5,167.6h1.25v1.25h-1.25zM293.7,171.0h0.9v0.9h-0.9zM294.8,169.3h0.9v0.9h-0.9zM294.0,168.5h1.25v1.25h-1.25zM297.5,171.7h1.25v1.25h-1.25zM299.2,170.8h0.9v0.9h-0.9zM297.9,164.7h0.9v0.9h-0.9zM294.1,171.6h0.9v0.9h-0.9zM298.4,171.7h0.9v0.9h-0.9zM295.3,169.8h0.9v0.9h-0.9zM294.4,171.3h0.9v0.9h-0.9zM295.9,171.3h0.9v0.9h-0.9zM297.8,169.7h0.9v0.9h-0.9zM296.1,163.9h0.9v0.9h-0.9zM294.2,171.0h0.9v0.9h-0.9zM296.6,167.6h1.25v1.25h-1.25zM298.1,169.4h0.9v0.9h-0.9zM298.2,165.7h0.9v0.9h-0.9zM297.8,171.3h0.9v0.9h-0.9zM290.9,159.1h0.9v0.9h-0.9zM299.2,171.1h0.9v0.9h-0.9zM298.8,171.5h0.9v0.9h-0.9zM298.2,170.6h0.9v0.9h-0.9zM296.6,169.3h0.9v0.9h-0.9zM290.1,170.1h0.9v0.9h-0.9zM297.8,161.7h0.9v0.9h-0.9zM298.9,167.6h0.9v0.9h-0.9zM294.9,166.4h1.25v1.25h-1.25zM297.7,169.6h0.9v0.9h-0.9zM295.7,164.0h0.9v0.9h-0.9zM294.7,169.5h0.9v0.9h-0.9zM298.7,171.3h0.9v0.9h-0.9zM298.9,168.0h0.9v0.9h-0.9zM298.4,170.5h1.25v1.25h-1.25zM297.8,165.7h0.9v0.9h-0.9zM286.8,171.3h0.9v0.9h-0.9zM288.9,158.5h0.9v0.9h-0.9zM294.2,171.5h1.25v1.25h-1.25zM298.9,169.3h0.9v0.9h-0.9zM295.1,169.1h0.9v0.9h-0.9zM289.3,168.6h0.9v0.9h-0.9zM293.1,170.2h0.9v0.9h-0.9zM296.8,161.1h0.9v0.9h-0.9zM297.3,166.1h1.25v1.25h-1.25zM299.0,169.2h0.9v0.9h-0.9zM299.2,170.6h0.9v0.9h-0.9zM293.1,171.6h1.25v1.25h-1.25zM298.1,171.1h1.25v1.25h-1.25zM294.3,170.6h1.25v1.25h-1.25zM295.3,171.4h0.9v0.9h-0.9zM288.5,167.9h0.9v0.9h-0.9zM298.9,168.2h0.9v0.9h-0.9zM299.1,170.4h0.9v0.9h-0.9zM298.7,168.6h0.9v0.9h-0.9zM291.6,171.1h0.9v0.9h-0.9zM297.0,170.1h1.25v1.25h-1.25zM296.7,163.1h0.9v0.9h-0.9zM299.2,171.0h0.9v0.9h-0.9zM297.3,159.0h0.9v0.9h-0.9zM291.5,169.2h0.9v0.9h-0.9zM298.0,171.3h0.9v0.9h-0.9zM296.0,171.4h0.9v0.9h-0.9zM292.9,164.5h0.9v0.9h-0.9zM298.4,166.3h0.9v0.9h-0.9zM295.5,170.3h0.9v0.9h-0.9zM290.0,169.7h0.9v0.9h-0.9zM296.8,170.1h0.9v0.9h-0.9zM297.3,170.6h0.9v0.9h-0.9zM297.6,170.6h0.9v0.9h-0.9zM286.2,171.6h0.9v0.9h-0.9zM297.4,170.0h0.9v0.9h-0.9zM298.3,162.9h1.25v1.25h-1.25zM298.1,171.0h0.9v0.9h-0.9zM291.1,171.2h0.9v0.9h-0.9zM294.9,170.5h0.9v0.9h-0.9zM298.3,167.9h1.25v1.25h-1.25zM298.9,163.7h0.9v0.9h-0.9zM297.0,171.4h0.9v0.9h-0.9zM299.0,169.6h0.9v0.9h-0.9zM291.1,169.9h0.9v0.9h-0.9zM296.0,171.2h1.25v1.25h-1.25zM294.5,169.9h0.9v0.9h-0.9zM296.2,170.6h1.25v1.25h-1.25zM298.6,170.9h1.25v1.25h-1.25zM288.1,169.9h0.9v0.9h-0.9zM297.4,169.8h0.9v0.9h-0.9zM299.2,168.7h0.9v0.9h-0.9zM298.0,167.3h0.9v0.9h-0.9zM298.2,171.1h0.9v0.9h-0.9zM298.7,169.4h1.25v1.25h-1.25zM298.6,171.1h0.9v0.9h-0.9zM297.8,169.0h0.9v0.9h-0.9zM296.9,168.9h1.25v1.25h-1.25zM297.3,171.2h1.25v1.25h-1.25zM296.6,170.8h0.9v0.9h-0.9zM298.8,170.9h0.9v0.9h-0.9zM297.0,171.3h0.9v0.9h-0.9zM297.8,170.2h0.9v0.9h-0.9zM294.7,171.6h0.9v0.9h-0.9zM298.4,170.2h0.9v0.9h-0.9zM298.2,171.1h0.9v0.9h-0.9zM293.5,169.4h1.25v1.25h-1.25zM295.4,171.4h0.9v0.9h-0.9zM298.2,168.4h0.9v0.9h-0.9zM297.2,151.4h0.9v0.9h-0.9zM297.8,153.0h0.9v0.9h-0.9zM292.4,164.3h0.9v0.9h-0.9zM291.2,171.5h0.9v0.9h-0.9zM293.3,169.7h0.9v0.9h-0.9zM298.1,171.5h1.25v1.25h-1.25zM299.1,170.9h0.9v0.9h-0.9zM297.2,171.2h0.9v0.9h-0.9zM295.6,170.3h0.9v0.9h-0.9zM291.7,170.4h0.9v0.9h-0.9zM296.6,170.2h0.9v0.9h-0.9zM291.0,171.6h1.25v1.25h-1.25zM299.2,171.4h0.9v0.9h-0.9zM293.7,169.3h1.25v1.25h-1.25zM295.0,163.8h0.9v0.9h-0.9zM297.4,166.4h0.9v0.9h-0.9zM298.8,169.7h0.9v0.9h-0.9zM297.5,170.2h0.9v0.9h-0.9zM293.4,168.9h1.25v1.25h-1.25zM291.9,168.9h0.9v0.9h-0.9zM293.6,171.5h0.9v0.9h-0.9zM298.9,171.0h0.9v0.9h-0.9zM296.5,164.8h0.9v0.9h-0.9zM293.4,171.0h0.9v0.9h-0.9zM294.0,170.8h0.9v0.9h-0.9zM298.7,170.5h1.25v1.25h-1.25zM297.8,170.3h0.9v0.9h-0.9zM291.4,169.5h0.9v0.9h-0.9zM292.0,170.2h0.9v0.9h-0.9zM298.1,168.6h0.9v0.9h-0.9zM299.0,159.2h0.9v0.9h-0.9zM293.2,170.2h0.9v0.9h-0.9zM297.4,171.5h1.25v1.25h-1.25zM298.9,167.5h0.9v0.9h-0.9zM293.3,166.6h0.9v0.9h-0.9z" fill="#3b6fb6"/>
<path d="M308.6,169.4h0.9v0.9h-0.9zM311.4,171.4h0.9v0.9h-0.9zM317.1,170.9h0.9v0.9h-0.9zM309.8,169.4h0.9v0.9h-0.9zM309.9,170.7h0.9v0.9h-0.9zM310.3,170.0h0.9v0.9h-0.9zM311.6,170.6h1.25v1.25h-1.25zM308.6,169.8h0.9v0.9h-0.9zM315.6,171.1h0.9v0.9h-0.9zM315.0,164.0h0.9v0.9h-0.9zM308.8,171.6h0.9v0.9h-0.9zM310.0,170.8h0.9v0.9h-0.9zM317.4,170.5h0.9v0.9h-0.9zM310.0,171.1h1.25v1.25h-1.25zM320.1,169.1h0.9v0.9h-0.9zM309.1,171.5h0.9v0.9h-0.9zM324.3,166.9h0.9v0.9h-0.9zM309.5,169.8h0.9v0.9h-0.9zM311.4,170.0h0.9v0.9h-0.9zM311.9,169.7h0.9v0.9h-0.9zM313.2,170.8h0.9v0.9h-0.9zM308.8,170.3h0.9v0.9h-0.9zM315.8,168.8h1.25v1.25h-1.25zM311.1,171.2h0.9v0.9h-0.9zM324.0,171.7h0.9v0.9h-0.9zM310.2,171.5h1.25v1.25h-1.25zM310.1,171.1h0.9v0.9h-0.9zM309.3,170.4h1.25v1.25h-1.25zM308.8,169.7h1.25v1.25h-1.25zM318.8,171.0h1.25v1.25h-1.25zM311.4,171.3h0.9v0.9h-0.9zM319.4,170.5h0.9v0.9h-0.9zM311.8,167.3h1.25v1.25h-1.25zM309.7,171.7h0.9v0.9h-0.9zM319.2,171.0h0.9v0.9h-0.9zM309.6,170.1h0.9v0.9h-0.9zM317.9,164.5h0.9v0.9h-0.9zM314.5,169.3h1.25v1.25h-1.25zM318.2,171.2h0.9v0.9h-0.9zM323.3,170.0h1.25v1.25h-1.25zM310.5,168.9h0.9v0.9h-0.9zM315.8,167.1h0.9v0.9h-0.9zM309.2,170.8h0.9v0.9h-0.9zM310.6,170.9h0.9v0.9h-0.9zM309.0,171.5h0.9v0.9h-0.9zM314.7,168.5h0.9v0.9h-0.9zM308.6,170.3h0.9v0.9h-0.9zM308.7,171.3h0.9v0.9h-0.9zM323.1,171.6h0.9v0.9h-0.9zM309.0,170.8h1.25v1.25h-1.25zM310.0,170.7h0.9v0.9h-0.9zM310.5,171.1h0.9v0.9h-0.9zM309.3,170.2h0.9v0.9h-0.9zM317.8,169.6h0.9v0.9h-0.9zM310.3,170.3h0.9v0.9h-0.9zM311.0,170.0h0.9v0.9h-0.9zM310.6,170.8h0.9v0.9h-0.9zM316.9,170.5h0.9v0.9h-0.9zM309.5,169.7h0.9v0.9h-0.9zM312.9,171.0h1.25v1.25h-1.25zM310.7,168.7h0.9v0.9h-0.9zM310.2,171.6h0.9v0.9h-0.9zM311.0,170.2h1.25v1.25h-1.25zM312.7,171.3h0.9v0.9h-0.9zM310.7,167.2h0.9v0.9h-0.9zM309.4,170.9h1.25v1.25h-1.25zM310.2,170.5h0.9v0.9h-0.9zM314.2,170.0h0.9v0.9h-0.9zM316.5,171.6h0.9v0.9h-0.9zM312.1,171.5h0.9v0.9h-0.9zM310.4,170.9h0.9v0.9h-0.9zM317.9,169.7h0.9v0.9h-0.9zM309.2,161.0h0.9v0.9h-0.9zM312.3,171.2h1.25v1.25h-1.25zM311.4,169.2h0.9v0.9h-0.9zM308.9,168.2h1.25v1.25h-1.25zM308.6,171.5h0.9v0.9h-0.9zM314.7,169.3h0.9v0.9h-0.9zM308.6,160.6h1.25v1.25h-1.25zM311.3,168.8h0.9v0.9h-0.9zM310.6,169.3h0.9v0.9h-0.9zM324.6,167.8h1.25v1.25h-1.25zM308.9,171.3h0.9v0.9h-0.9zM310.1,171.6h0.9v0.9h-0.9zM309.1,170.7h0.9v0.9h-0.9zM311.3,171.1h0.9v0.9h-0.9zM313.6,168.4h0.9v0.9h-0.9zM315.5,170.4h0.9v0.9h-0.9zM311.7,171.1h0.9v0.9h-0.9zM309.1,164.1h0.9v0.9h-0.9zM312.1,169.8h1.25v1.25h-1.25zM312.2,170.5h0.9v0.9h-0.9zM309.8,168.7h0.9v0.9h-0.9zM318.5,171.2h0.9v0.9h-0.9zM308.8,170.5h0.9v0.9h-0.9zM317.4,170.2h0.9v0.9h-0.9zM314.3,171.7h1.25v1.25h-1.25zM314.4,171.5h0.9v0.9h-0.9zM312.5,171.7h0.9v0.9h-0.9zM308.6,171.0h0.9v0.9h-0.9zM308.6,171.3h0.9v0.9h-0.9zM310.6,171.1h0.9v0.9h-0.9zM315.3,170.7h0.9v0.9h-0.9zM309.6,170.8h0.9v0.9h-0.9zM314.9,171.5h0.9v0.9h-0.9zM311.6,171.1h0.9v0.9h-0.9zM312.7,170.2h0.9v0.9h-0.9zM308.9,160.8h1.25v1.25h-1.25zM317.3,162.9h0.9v0.9h-0.9zM310.2,168.8h1.25v1.25h-1.25zM315.2,167.6h0.9v0.9h-0.9zM311.7,171.3h0.9v0.9h-0.9zM309.0,171.4h0.9v0.9h-0.9zM309.8,170.2h0.9v0.9h-0.9zM315.7,171.3h0.9v0.9h-0.9zM309.3,171.5h0.9v0.9h-0.9zM310.2,170.1h0.9v0.9h-0.9zM309.5,170.6h0.9v0.9h-0.9zM309.0,170.3h0.9v0.9h-0.9zM314.1,170.4h0.9v0.9h-0.9zM310.1,170.9h0.9v0.9h-0.9zM311.5,165.1h0.9v0.9h-0.9zM311.4,170.2h1.25v1.25h-1.25zM321.6,171.3h0.9v0.9h-0.9zM310.7,169.4h0.9v0.9h-0.9zM313.2,170.9h0.9v0.9h-0.9zM313.3,161.5h0.9v0.9h-0.9zM309.7,170.7h1.25v1.25h-1.25zM310.8,171.7h0.9v0.9h-0.9zM311.4,171.5h0.9v0.9h-0.9zM308.9,170.8h0.9v0.9h-0.9zM311.2,171.0h0.9v0.9h-0.9zM308.7,166.4h0.9v0.9h-0.9zM310.2,169.7h0.9v0.9h-0.9zM314.4,170.8h0.9v0.9h-0.9zM310.3,171.0h1.25v1.25h-1.25zM310.7,166.7h0.9v0.9h-0.9zM311.9,171.1h0.9v0.9h-0.9zM320.2,170.4h0.9v0.9h-0.9zM313.6,170.2h0.9v0.9h-0.9zM317.8,171.2h1.25v1.25h-1.25zM309.5,170.7h1.25v1.25h-1.25zM309.1,169.3h0.9v0.9h-0.9zM310.6,169.8h0.9v0.9h-0.9zM309.1,171.0h1.25v1.25h-1.25zM310.9,170.7h0.9v0.9h-0.9zM309.2,171.6h0.9v0.9h-0.9zM316.2,168.7h0.9v0.9h-0.9zM311.0,171.5h0.9v0.9h-0.9zM318.0,170.6h0.9v0.9h-0.9zM315.9,170.3h0.9v0.9h-0.9zM316.2,171.3h0.9v0.9h-0.9zM311.2,170.8h0.9v0.9h-0.9zM309.2,170.5h0.9v0.9h-0.9zM315.2,167.9h1.25v1.25h-1.25zM308.9,170.8h0.9v0.9h-0.9zM313.6,171.5h0.9v0.9h-0.9zM321.2,170.8h0.9v0.9h-0.9zM310.8,169.4h0.9v0.9h-0.9zM309.8,171.7h0.9v0.9h-0.9zM309.0,170.9h1.25v1.25h-1.25zM309.5,171.3h0.9v0.9h-0.9zM308.9,168.7h1.25v1.25h-1.25zM310.2,171.6h0.9v0.9h-0.9zM311.5,166.5h0.9v0.9h-0.9zM310.1,169.9h0.9v0.9h-0.9zM309.0,169.9h0.9v0.9h-0.9zM321.3,168.7h0.9v0.9h-0.9zM314.4,170.7h1.25v1.25h-1.25zM312.0,171.3h0.9v0.9h-0.9zM312.1,168.8h0.9v0.9h-0.9zM308.6,171.2h0.9v0.9h-0.9zM316.0,169.3h1.25v1.25h-1.25zM311.6,171.7h0.9v0.9h-0.9zM312.1,170.6h0.9v0.9h-0.9zM309.5,171.6h0.9v0.9h-0.9zM309.7,170.5h0.9v0.9h-0.9zM320.8,171.3h0.9v0.9h-0.9zM315.7,170.8h0.9v0.9h-0.9zM324.6,171.4h0.9v0.9h-0.9zM310.0,169.8h0.9v0.9h-0.9zM311.2,170.3h1.25v1.25h-1.25zM310.9,171.2h0.9v0.9h-0.9zM311.2,171.3h0.9v0.9h-0.9zM311.1,171.3h1.25v1.25h-1.25zM317.1,171.3h0.9v0.9h-0.9zM312.3,160.1h0.9v0.9h-0.9zM310.1,170.0h0.9v0.9h-0.9zM310.3,170.0h0.9v0.9h-0.9zM309.0,171.3h0.9v0.9h-0.9zM312.4,167.8h0.9v0.9h-0.9zM317.8,170.6h0.9v0.9h-0.9zM310.9,170.7h0.9v0.9h-0.9zM310.2,170.2h0.9v0.9h-0.9zM311.0,169.5h0.9v0.9h-0.9zM308.7,170.3h0.9v0.9h-0.9zM311.2,168.1h1.25v1.25h-1.25zM312.0,170.9h1.25v1.25h-1.25zM311.5,169.9h1.25v1.25h-1.25zM316.0,169.2h0.9v0.9h-0.9zM310.9,171.1h0.9v0.9h-0.9zM316.0,171.7h0.9v0.9h-0.9zM311.6,170.3h1.25v1.25h-1.25zM309.0,171.4h0.9v0.9h-0.9zM309.2,171.6h0.9v0.9h-0.9zM312.4,169.5h0.9v0.9h-0.9zM316.1,167.6h0.9v0.9h-0.9zM308.9,171.4h1.25v1.25h-1.25zM311.5,170.7h0.9v0.9h-0.9zM312.6,170.8h0.9v0.9h-0.9zM310.6,171.3h0.9v0.9h-0.9zM311.0,171.6h0.9v0.9h-0.9zM321.7,169.5h0.9v0.9h-0.9zM308.9,168.6h0.9v0.9h-0.9zM308.8,170.2h0.9v0.9h-0.9zM312.6,171.4h0.9v0.9h-0.9zM309.1,168.8h0.9v0.9h-0.9zM311.2,170.7h0.9v0.9h-0.9zM311.6,169.1h0.9v0.9h-0.9zM317.4,171.4h1.25v1.25h-1.25zM309.8,170.1h0.9v0.9h-0.9zM313.6,169.0h0.9v0.9h-0.9zM313.8,171.3h0.9v0.9h-0.9zM310.3,159.2h0.9v0.9h-0.9zM311.1,168.5h0.9v0.9h-0.9zM310.2,170.6h0.9v0.9h-0.9zM309.7,170.0h0.9v0.9h-0.9zM318.8,166.4h0.9v0.9h-0.9zM311.3,171.0h0.9v0.9h-0.9zM311.2,169.5h0.9v0.9h-0.9zM309.8,171.6h1.25v1.25h-1.25zM315.7,153.6h0.9v0.9h-0.9zM310.4,170.3h0.9v0.9h-0.9zM316.0,171.1h0.9v0.9h-0.9zM314.1,170.1h0.9v0.9h-0.9zM308.9,171.0h0.9v0.9h-0.9zM321.9,170.2h0.9v0.9h-0.9zM311.6,171.4h0.9v0.9h-0.9zM321.3,169.4h1.25v1.25h-1.25zM313.2,169.1h1.25v1.25h-1.25zM312.2,171.4h0.9v0.9h-0.9zM310.0,169.4h0.9v0.9h-0.9zM308.8,169.3h0.9v0.9h-0.9zM319.6,171.0h1.25v1.25h-1.25zM311.4,170.8h0.9v0.9h-0.9zM320.2,170.6h0.9v0.9h-0.9zM309.2,170.6h0.9v0.9h-0.9zM310.7,155.3h0.9v0.9h-0.9zM316.5,165.4h0.9v0.9h-0.9zM309.7,169.6h0.9v0.9h-0.9zM310.6,170.6h0.9v0.9h-0.9zM319.9,171.5h0.9v0.9h-0.9zM310.2,171.6h0.9v0.9h-0.9zM310.3,171.2h0.9v0.9h-0.9zM310.0,171.2h0.9v0.9h-0.9zM310.6,171.2h0.9v0.9h-0.9zM311.6,170.1h0.9v0.9h-0.9zM308.9,171.5h0.9v0.9h-0.9zM309.3,171.1h1.25v1.25h-1.25zM309.6,171.4h0.9v0.9h-0.9zM312.8,171.3h1.25v1.25h-1.25zM312.7,170.3h0.9v0.9h-0.9zM310.7,169.0h1.25v1.25h-1.25zM310.3,171.6h0.9v0.9h-0.9zM315.9,171.0h0.9v0.9h-0.9zM309.7,171.5h0.9v0.9h-0.9zM311.2,166.8h1.25v1.25h-1.25zM319.2,171.7h0.9v0.9h-0.9zM322.3,170.3h0.9v0.9h-0.9zM310.7,171.5h0.9v0.9h-0.9zM309.8,168.6h0.9v0.9h-0.9zM316.3,170.4h0.9v0.9h-0.9zM315.1,170.1h0.9v0.9h-0.9zM310.0,167.7h0.9v0.9h-0.9zM314.9,171.4h0.9v0.9h-0.9zM314.6,170.2h0.9v0.9h-0.9zM308.9,170.7h0.9v0.9h-0.9zM311.0,171.0h0.9v0.9h-0.9zM310.6,171.6h1.25v1.25h-1.25zM311.8,171.2h0.9v0.9h-0.9zM318.6,171.0h0.9v0.9h-0.9zM311.6,171.6h0.9v0.9h-0.9zM309.3,171.7h0.9v0.9h-0.9zM309.3,170.3h1.25v1.25h-1.25zM312.6,171.7h1.25v1.25h-1.25zM311.1,171.6h1.25v1.25h-1.25zM311.0,170.9h0.9v0.9h-0.9zM311.8,169.9h0.9v0.9h-0.9zM312.9,169.8h1.25v1.25h-1.25zM309.9,170.9h1.25v1.25h-1.25zM315.0,170.3h0.9v0.9h-0.9zM317.4,167.2h0.9v0.9h-0.9zM315.0,169.0h1.25v1.25h-1.25zM310.8,169.3h0.9v0.9h-0.9zM311.5,171.7h0.9v0.9h-0.9zM310.9,160.6h0.9v0.9h-0.9zM316.5,171.5h0.9v0.9h-0.9zM312.8,170.3h0.9v0.9h-0.9zM319.5,170.5h0.9v0.9h-0.9zM310.6,171.5h0.9v0.9h-0.9zM318.3,170.5h0.9v0.9h-0.9zM309.0,167.1h1.25v1.25h-1.25zM316.0,169.6h1.25v1.25h-1.25zM311.0,171.4h0.9v0.9h-0.9zM311.3,170.8h0.9v0.9h-0.9zM316.0,170.9h0.9v0.9h-0.9zM311.0,171.0h0.9v0.9h-0.9zM311.1,152.0h0.9v0.9h-0.9zM311.5,171.4h0.9v0.9h-0.9zM309.4,168.8h0.9v0.9h-0.9zM308.8,170.6h0.9v0.9h-0.9zM309.9,170.8h0.9v0.9h-0.9zM311.9,170.6h0.9v0.9h-0.9zM308.9,171.1h0.9v0.9h-0.9zM312.1,170.3h0.9v0.9h-0.9zM309.4,169.2h0.9v0.9h-0.9zM310.6,170.8h1.25v1.25h-1.25zM311.6,169.5h0.9v0.9h-0.9zM312.1,170.7h0.9v0.9h-0.9zM312.6,169.0h0.9v0.9h-0.9zM310.0,165.4h0.9v0.9h-0.9zM319.8,153.1h0.9v0.9h-0.9zM308.7,171.4h0.9v0.9h-0.9zM308.6,171.0h0.9v0.9h-0.9zM310.9,169.7h0.9v0.9h-0.9zM321.0,171.4h1.25v1.25h-1.25zM316.9,170.6h0.9v0.9h-0.9zM310.0,171.4h0.9v0.9h-0.9zM310.0,170.4h1.25v1.25h-1.25zM308.9,170.6h0.9v0.9h-0.9zM309.6,170.9h0.9v0.9h-0.9zM311.8,171.2h0.9v0.9h-0.9zM308.7,170.5h0.9v0.9h-0.9zM310.1,170.7h0.9v0.9h-0.9zM308.9,171.2h0.9v0.9h-0.9zM309.7,171.3h1.25v1.25h-1.25zM310.3,169.7h0.9v0.9h-0.9zM311.6,155.5h0.9v0.9h-0.9zM309.0,170.7h0.9v0.9h-0.9zM309.9,170.2h0.9v0.9h-0.9zM314.9,171.2h0.9v0.9h-0.9zM315.8,171.6h1.25v1.25h-1.25zM309.7,170.0h0.9v0.9h-0.9zM317.1,163.9h1.25v1.25h-1.25zM311.7,170.0h0.9v0.9h-0.9zM311.1,171.3h0.9v0.9h-0.9zM315.5,169.9h0.9v0.9h-0.9zM311.2,170.1h0.9v0.9h-0.9zM310.8,171.4h0.9v0.9h-0.9zM308.9,169.1h0.9v0.9h-0.9zM314.5,168.7h0.9v0.9h-0.9zM318.5,170.8h1.25v1.25h-1.25zM311.5,171.5h0.9v0.9h-0.9zM309.7,169.1h0.9v0.9h-0.9zM320.2,171.4h0.9v0.9h-0.9zM310.0,171.6h1.25v1.25h-1.25zM314.3,169.9h0.9v0.9h-0.9zM309.1,169.7h0.9v0.9h-0.9zM309.1,170.7h0.9v0.9h-0.9zM308.8,171.5h1.25v1.25h-1.25zM309.1,169.3h0.9v0.9h-0.9zM311.5,170.3h0.9v0.9h-0.9zM322.3,167.0h0.9v0.9h-0.9zM310.6,170.1h1.25v1.25h-1.25zM312.9,164.7h0.9v0.9h-0.9zM311.2,171.5h0.9v0.9h-0.9zM314.3,170.0h0.9v0.9h-0.9zM311.0,170.3h0.9v0.9h-0.9zM310.8,170.4h1.25v1.25h-1.25zM309.8,171.4h0.9v0.9h-0.9zM315.6,171.5h0.9v0.9h-0.9zM317.2,165.9h1.25v1.25h-1.25zM309.9,170.0h0.9v0.9h-0.9zM308.7,170.7h0.9v0.9h-0.9zM309.2,171.1h0.9v0.9h-0.9zM309.1,169.3h1.25v1.25h-1.25zM308.8,168.9h0.9v0.9h-0.9zM309.9,171.6h0.9v0.9h-0.9zM320.0,168.0h0.9v0.9h-0.9zM308.8,165.5h0.9v0.9h-0.9zM312.6,171.3h0.9v0.9h-0.9zM309.5,170.2h0.9v0.9h-0.9zM312.2,158.7h0.9v0.9h-0.9zM311.3,170.7h0.9v0.9h-0.9zM311.4,170.6h0.9v0.9h-0.9zM308.6,168.6h0.9v0.9h-0.9zM309.5,170.4h0.9v0.9h-0.9zM310.9,170.0h1.25v1.25h-1.25zM311.3,170.0h0.9v0.9h-0.9zM309.7,171.0h0.9v0.9h-0.9zM309.9,169.7h0.9v0.9h-0.9zM313.0,171.4h0.9v0.9h-0.9zM320.3,168.6h1.25v1.25h-1.25zM310.0,169.2h0.9v0.9h-0.9zM310.2,169.7h1.25v1.25h-1.25zM317.7,171.4h0.9v0.9h-0.9zM308.6,171.1h0.9v0.9h-0.9zM311.0,170.1h0.9v0.9h-0.9zM309.6,171.1h0.9v0.9h-0.9zM315.3,168.5h0.9v0.9h-0.9zM309.7,171.5h1.25v1.25h-1.25zM312.5,171.6h0.9v0.9h-0.9zM310.6,171.5h0.9v0.9h-0.9zM308.9,169.6h1.25v1.25h-1.25zM313.7,171.3h0.9v0.9h-0.9zM311.5,170.4h0.9v0.9h-0.9zM317.9,171.2h1.25v1.25h-1.25zM309.2,171.0h1.25v1.25h-1.25zM309.0,170.5h0.9v0.9h-0.9zM310.1,171.1h0.9v0.9h-0.9zM311.2,171.4h0.9v0.9h-0.9zM309.5,169.9h0.9v0.9h-0.9zM313.4,167.9h0.9v0.9h-0.9zM313.9,170.0h0.9v0.9h-0.9zM308.8,169.9h0.9v0.9h-0.9zM315.3,171.0h0.9v0.9h-0.9zM312.5,170.1h0.9v0.9h-0.9zM314.0,171.6h0.9v0.9h-0.9zM310.6,170.9h0.9v0.9h-0.9zM310.0,168.4h0.9v0.9h-0.9zM315.5,170.6h0.9v0.9h-0.9zM314.2,171.4h1.25v1.25h-1.25zM312.1,171.1h0.9v0.9h-0.9zM311.7,168.4h0.9v0.9h-0.9zM313.8,169.6h0.9v0.9h-0.9z" fill="#e6007e"/>
<circle cx="282.2" cy="20.5" r="0.60" fill="#3b6fb6" />
<circle cx="277.6" cy="48.8" r="0.60" fill="#3b6fb6" />
<circle cx="290.5" cy="117.5" r="0.60" fill="#3b6fb6" />
<circle cx="284.5" cy="127.1" r="0.70" fill="#3b6fb6" />
<circle cx="286.9" cy="128.5" r="0.60" fill="#3b6fb6" />
<circle cx="288.6" cy="136.6" r="0.70" fill="#3b6fb6" />
<circle cx="293.0" cy="138.5" r="0.60" fill="#3b6fb6" />
<circle cx="269.3" cy="141.2" r="0.80" fill="#3b6fb6" />
<circle cx="274.0" cy="141.8" r="0.70" fill="#3b6fb6" />
<circle cx="284.0" cy="144.5" r="0.70" fill="#3b6fb6" />
<circle cx="285.5" cy="146.0" r="0.70" fill="#3b6fb6" />
<circle cx="283.5" cy="147.5" r="0.60" fill="#3b6fb6" />
<circle cx="286.0" cy="149.0" r="0.60" fill="#3b6fb6" />
<circle cx="292.5" cy="148.0" r="0.60" fill="#3b6fb6" />
<circle cx="293.5" cy="150.5" r="0.60" fill="#3b6fb6" />
<circle cx="287.0" cy="152.0" r="0.60" fill="#3b6fb6" />
<circle cx="291.0" cy="153.0" r="0.60" fill="#3b6fb6" />
<circle cx="295.0" cy="152.5" r="0.60" fill="#3b6fb6" />
<circle cx="296.5" cy="155.0" r="0.60" fill="#3b6fb6" />
<circle cx="281.0" cy="157.0" r="0.60" fill="#3b6fb6" />
<circle cx="284.0" cy="158.5" r="0.60" fill="#3b6fb6" />
<circle cx="290.0" cy="157.0" r="0.60" fill="#3b6fb6" />
<circle cx="293.0" cy="158.0" r="0.60" fill="#3b6fb6" />
<circle cx="283.0" cy="161.0" r="0.60" fill="#3b6fb6" />
<circle cx="286.5" cy="160.5" r="0.60" fill="#3b6fb6" />
<circle cx="289.0" cy="162.0" r="0.60" fill="#3b6fb6" />
<circle cx="292.0" cy="161.0" r="0.60" fill="#3b6fb6" />
<circle cx="295.0" cy="160.5" r="0.60" fill="#3b6fb6" />
<circle cx="297.0" cy="162.0" r="0.60" fill="#3b6fb6" />
<circle cx="267.0" cy="170.0" r="0.80" fill="#3b6fb6" />
<circle cx="270.0" cy="170.8" r="0.60" fill="#3b6fb6" />
<circle cx="273.0" cy="171.3" r="0.60" fill="#3b6fb6" />
<circle cx="276.0" cy="171.8" r="0.60" fill="#3b6fb6" />
<circle cx="279.0" cy="172.0" r="0.70" fill="#3b6fb6" />
<circle cx="280.0" cy="168.0" r="0.60" fill="#3b6fb6" />
<circle cx="283.0" cy="169.0" r="0.60" fill="#3b6fb6" />
<circle cx="285.0" cy="166.0" r="0.60" fill="#3b6fb6" />
<circle cx="288.0" cy="167.0" r="0.60" fill="#3b6fb6" />
<circle cx="291.0" cy="165.5" r="0.60" fill="#3b6fb6" />
<circle cx="294.0" cy="166.0" r="0.60" fill="#3b6fb6" />
<circle cx="296.0" cy="164.5" r="0.60" fill="#3b6fb6" />
<circle cx="359.3" cy="54.1" r="0.70" fill="#e6007e" />
<circle cx="331.8" cy="76.9" r="0.60" fill="#e6007e" />
<circle cx="326.6" cy="79.3" r="0.60" fill="#e6007e" />
<circle cx="326.6" cy="106.8" r="0.60" fill="#e6007e" />
<circle cx="381.1" cy="151.6" r="1.10" fill="#e6007e" />
<circle cx="343.2" cy="149.0" r="0.70" fill="#e6007e" />
<circle cx="333.3" cy="149.7" r="0.60" fill="#e6007e" />
<circle cx="325.3" cy="144.0" r="0.60" fill="#e6007e" />
<circle cx="322.8" cy="130.4" r="0.60" fill="#e6007e" />
<circle cx="320.5" cy="124.5" r="0.50" fill="#e6007e" />
<circle cx="320.5" cy="138.3" r="0.50" fill="#e6007e" />
<circle cx="320.0" cy="149.0" r="0.50" fill="#e6007e" />
<circle cx="321.0" cy="154.0" r="0.60" fill="#e6007e" />
<circle cx="316.0" cy="154.0" r="0.50" fill="#e6007e" />
<circle cx="327.0" cy="152.5" r="0.60" fill="#e6007e" />
<circle cx="324.0" cy="158.0" r="0.60" fill="#e6007e" />
<circle cx="328.5" cy="158.5" r="0.60" fill="#e6007e" />
<circle cx="331.0" cy="161.0" r="0.60" fill="#e6007e" />
<circle cx="333.5" cy="160.0" r="0.60" fill="#e6007e" />
<circle cx="336.0" cy="159.0" r="0.60" fill="#e6007e" />
<circle cx="324.0" cy="162.5" r="0.60" fill="#e6007e" />
<circle cx="322.5" cy="165.0" r="0.60" fill="#e6007e" />
<circle cx="323.5" cy="167.0" r="0.60" fill="#e6007e" />
<circle cx="331.5" cy="164.0" r="0.60" fill="#e6007e" />
<circle cx="333.0" cy="166.0" r="0.60" fill="#e6007e" />
<circle cx="335.0" cy="167.5" r="0.60" fill="#e6007e" />
<circle cx="336.5" cy="166.0" r="0.60" fill="#e6007e" />
<circle cx="330.5" cy="169.5" r="0.60" fill="#e6007e" />
<circle cx="332.0" cy="171.0" r="0.60" fill="#e6007e" />
<circle cx="334.0" cy="170.0" r="0.60" fill="#e6007e" />
<circle cx="314.0" cy="161.0" r="0.50" fill="#e6007e" />
<circle cx="316.5" cy="163.0" r="0.50" fill="#e6007e" />
<circle cx="318.5" cy="160.0" r="0.50" fill="#e6007e" />
<circle cx="313.0" cy="165.0" r="0.50" fill="#e6007e" />
<circle cx="319.0" cy="166.0" r="0.60" fill="#e6007e" />
<circle cx="322.1" cy="172.3" r="0.75" fill="#e6007e" />
<circle cx="323.1" cy="172.2" r="0.75" fill="#e6007e" />
<circle cx="324.2" cy="171.7" r="0.75" fill="#e6007e" />
<circle cx="325.4" cy="172.0" r="0.75" fill="#e6007e" />
<circle cx="326.1" cy="171.5" r="0.75" fill="#e6007e" />
<circle cx="326.9" cy="171.3" r="0.75" fill="#e6007e" />
<circle cx="328.2" cy="171.0" r="0.75" fill="#e6007e" />
<circle cx="329.4" cy="170.4" r="0.75" fill="#e6007e" />
<circle cx="330.5" cy="170.1" r="0.75" fill="#e6007e" />
<circle cx="330.9" cy="170.0" r="0.75" fill="#e6007e" />
<circle cx="332.5" cy="169.9" r="0.75" fill="#e6007e" />
<circle cx="333.6" cy="169.4" r="0.75" fill="#e6007e" />
<circle cx="334.6" cy="169.2" r="0.75" fill="#e6007e" />
<circle cx="335.1" cy="168.9" r="0.75" fill="#e6007e" />
<circle cx="336.5" cy="168.5" r="0.75" fill="#e6007e" />
<circle cx="337.4" cy="168.1" r="0.75" fill="#e6007e" />
<circle cx="338.3" cy="167.9" r="0.75" fill="#e6007e" />
<circle cx="339.4" cy="167.7" r="0.75" fill="#e6007e" />
<circle cx="340.2" cy="167.1" r="0.75" fill="#e6007e" />
<circle cx="341.4" cy="167.3" r="0.75" fill="#e6007e" />
<circle cx="342.7" cy="166.7" r="0.75" fill="#e6007e" />
<circle cx="343.4" cy="166.6" r="0.75" fill="#e6007e" />
<circle cx="347.4" cy="165.5" r="0.75" fill="#e6007e" />
<circle cx="348.9" cy="165.0" r="0.75" fill="#e6007e" />
<circle cx="349.7" cy="165.0" r="0.75" fill="#e6007e" />
<circle cx="350.9" cy="164.7" r="0.75" fill="#e6007e" />
<circle cx="353.9" cy="163.6" r="0.75" fill="#e6007e" />
<circle cx="355.0" cy="163.7" r="0.75" fill="#e6007e" />
<circle cx="359.7" cy="162.3" r="1.00" fill="#e6007e" />
<circle cx="360.9" cy="161.5" r="1.00" fill="#e6007e" />
<circle cx="361.7" cy="161.7" r="1.00" fill="#e6007e" />
<line x1="222.9" y1="174.0" x2="385.2" y2="174.0" stroke="#a0a0a0" stroke-width="2.0" />
<line x1="221.0" y1="22.4" x2="223.5" y2="22.4" stroke="#8c8c8c" stroke-width="0.8" />
<text x="221.5" y="26.2" font-size="10.5" text-anchor="end" fill="#0a0a0a" >300</text>
<line x1="221.0" y1="48.0" x2="223.5" y2="48.0" stroke="#8c8c8c" stroke-width="0.8" />
<text x="221.5" y="51.8" font-size="10.5" text-anchor="end" fill="#0a0a0a" >250</text>
<line x1="221.0" y1="72.5" x2="223.5" y2="72.5" stroke="#8c8c8c" stroke-width="0.8" />
<text x="221.5" y="76.8" font-size="10.5" text-anchor="end" fill="#0a0a0a" >200</text>
<line x1="221.0" y1="98.3" x2="223.5" y2="98.3" stroke="#8c8c8c" stroke-width="0.8" />
<text x="221.5" y="102.6" font-size="10.5" text-anchor="end" fill="#0a0a0a" >150</text>
<line x1="221.0" y1="123.5" x2="223.5" y2="123.5" stroke="#8c8c8c" stroke-width="0.8" />
<text x="221.5" y="127.8" font-size="10.5" text-anchor="end" fill="#0a0a0a" >100</text>
<line x1="221.0" y1="149.7" x2="223.5" y2="149.7" stroke="#8c8c8c" stroke-width="0.8" />
<text x="221.5" y="154.3" font-size="10.5" text-anchor="end" fill="#0a0a0a" >50</text>
<line x1="221.0" y1="173.3" x2="223.5" y2="173.3" stroke="#8c8c8c" stroke-width="0.8" />
<text x="221.5" y="177.2" font-size="10.5" text-anchor="end" fill="#0a0a0a" >0</text>
<text x="229.9" y="187.5" font-size="10.5" text-anchor="middle" fill="#0a0a0a" >-15</text>
<text x="248.1" y="187.5" font-size="10.5" text-anchor="middle" fill="#0a0a0a" >-12</text>
<text x="263.5" y="187.5" font-size="10.5" text-anchor="middle" fill="#0a0a0a" >-9</text>
<text x="276.0" y="187.5" font-size="10.5" text-anchor="middle" fill="#0a0a0a" >-6</text>
<text x="288.3" y="187.5" font-size="10.5" text-anchor="middle" fill="#0a0a0a" >-3</text>
<text x="304.4" y="187.5" font-size="10.5" text-anchor="middle" fill="#0a0a0a" >0</text>
<text x="318.1" y="187.5" font-size="10.5" text-anchor="middle" fill="#0a0a0a" >3</text>
<text x="331.9" y="187.5" font-size="10.5" text-anchor="middle" fill="#0a0a0a" >6</text>
<text x="346.4" y="187.5" font-size="10.5" text-anchor="middle" fill="#0a0a0a" >9</text>
<text x="360.7" y="187.5" font-size="10.5" text-anchor="middle" fill="#0a0a0a" >12</text>
<text x="375.0" y="187.5" font-size="10.5" text-anchor="middle" fill="#0a0a0a" >15</text>
<text x="263.6" y="40.6" font-size="10.5" text-anchor="start" fill="#0a0a0a" >1,107</text>
<text x="317.7" y="40.6" font-size="10.5" text-anchor="start" fill="#0a0a0a" >722</text>
<text transform="translate(197.2,129.6) rotate(-90)" font-size="10.5" fill="#0a0a0a">-log<tspan font-size="7" dy="2">10 </tspan><tspan dy="-2">(</tspan><tspan font-style="italic">P</tspan>-value)</text>
<text x="263.6" y="198.3" font-size="10.5" fill="#0a0a0a">Log<tspan font-size="7" dy="2">2 </tspan><tspan dy="-2">(Fold Change)</tspan></text>
<circle cx="353.8" cy="67.9" r="3.30" fill="#3b6fb6" />
<circle cx="353.8" cy="86.0" r="3.30" fill="#808080" />
<circle cx="353.8" cy="103.0" r="3.30" fill="#e81e8c" />
<text x="360.3" y="71.7" font-size="10.75" text-anchor="start" fill="#0a0a0a" >Downregulated</text>
<text x="361.8" y="89.8" font-size="10.75" text-anchor="start" fill="#0a0a0a" >Not significant</text>
<text x="360.3" y="106.9" font-size="10.75" text-anchor="start" fill="#0a0a0a" >Upregulated</text>
<text x="462.0" y="15.2" font-size="21" text-anchor="start" fill="#000" >c</text>
<text x="496.2" y="10.6" font-size="10.65" fill="#0a0a0a">Nip vs <tspan font-style="italic">gnp2-ko</tspan></text>
<text x="587.2" y="10.6" font-size="10.65" fill="#0a0a0a">Nip vs <tspan font-style="italic">gnp4/lax2-ko</tspan></text>
<circle cx="561.6" cy="42.0" r="29.20" fill="#cfe4c1" />
<circle cx="593.9" cy="42.0" r="29.20" fill="#f3ad7c" fill-opacity="0.53"/>
<text x="546.0" y="45.6" font-size="10.5" text-anchor="start" fill="#0a0a0a" >680</text>
<text x="569.6" y="45.6" font-size="10.5" text-anchor="start" fill="#0a0a0a" >814</text>
<text x="593.8" y="45.2" font-size="10.5" text-anchor="start" fill="#0a0a0a" >1,015</text>
<path d="M574.6,56 h6.4 v18.5 h3.6 l-6.8,7.5 l-6.8,-7.5 h3.6 z" fill="#7593d2" fill-opacity="0.8"/>
<rect x="499.1" y="83.4" width="2.2" height="25.3" fill="#ffd9d9" shape-rendering="crispEdges"/>
<rect x="500.7" y="83.4" width="2.4" height="25.3" fill="#ff3333" shape-rendering="crispEdges"/>
<rect x="502.5" y="83.4" width="2.2" height="25.3" fill="#fff2f2" shape-rendering="crispEdges"/>
<rect x="504.1" y="83.4" width="2.9" height="25.3" fill="#ff8c8c" shape-rendering="crispEdges"/>
<rect x="506.3" y="83.4" width="2.4" height="25.3" fill="#ffcccc" shape-rendering="crispEdges"/>
<rect x="508.1" y="83.4" width="4.4" height="25.3" fill="#ff6666" shape-rendering="crispEdges"/>
<rect x="512.0" y="83.4" width="5.1" height="25.3" fill="#ff4c4c" shape-rendering="crispEdges"/>
<rect x="516.5" y="83.4" width="5.1" height="25.3" fill="#ff5959" shape-rendering="crispEdges"/>
<rect x="521.0" y="83.4" width="5.1" height="25.3" fill="#ff1a1a" shape-rendering="crispEdges"/>
<rect x="525.5" y="83.4" width="4.0" height="25.3" fill="#ff6666" shape-rendering="crispEdges"/>
<rect x="528.9" y="83.4" width="4.2" height="25.3" fill="#ff2626" shape-rendering="crispEdges"/>
<rect x="532.6" y="83.4" width="7.2" height="25.3" fill="#1414ff" shape-rendering="crispEdges"/>
<rect x="539.1" y="83.4" width="2.9" height="25.3" fill="#d9d9ff" shape-rendering="crispEdges"/>
<rect x="541.4" y="83.4" width="2.9" height="25.3" fill="#bfbfff" shape-rendering="crispEdges"/>
<rect x="543.7" y="83.4" width="6.3" height="25.3" fill="#9999ff" shape-rendering="crispEdges"/>
<rect x="549.3" y="83.4" width="9.7" height="25.3" fill="#6666ff" shape-rendering="crispEdges"/>
<rect x="558.4" y="83.4" width="5.1" height="25.3" fill="#7373ff" shape-rendering="crispEdges"/>
<rect x="562.9" y="83.4" width="7.4" height="25.3" fill="#6161ff" shape-rendering="crispEdges"/>
<rect x="569.7" y="83.4" width="8.5" height="25.3" fill="#6b6bff" shape-rendering="crispEdges"/>
<rect x="577.6" y="83.4" width="5.1" height="25.3" fill="#5757ff" shape-rendering="crispEdges"/>
<rect x="582.1" y="83.4" width="8.5" height="25.3" fill="#6666ff" shape-rendering="crispEdges"/>
<rect x="590.0" y="83.4" width="5.1" height="25.3" fill="#7373ff" shape-rendering="crispEdges"/>
<rect x="594.6" y="83.4" width="7.4" height="25.3" fill="#6666ff" shape-rendering="crispEdges"/>
<rect x="601.4" y="83.4" width="7.4" height="25.3" fill="#4747ff" shape-rendering="crispEdges"/>
<rect x="608.1" y="83.4" width="9.7" height="25.3" fill="#5252ff" shape-rendering="crispEdges"/>
<rect x="617.2" y="83.4" width="5.1" height="25.3" fill="#4242ff" shape-rendering="crispEdges"/>
<rect x="621.7" y="83.4" width="9.7" height="25.3" fill="#5c5cff" shape-rendering="crispEdges"/>
<rect x="630.8" y="83.4" width="11.7" height="25.3" fill="#4242ff" shape-rendering="crispEdges"/>
<rect x="499.1" y="108.7" width="6.7" height="25.0" fill="#ff2e2e" shape-rendering="crispEdges"/>
<rect x="505.2" y="108.7" width="2.2" height="25.0" fill="#ffffff" shape-rendering="crispEdges"/>
<rect x="506.8" y="108.7" width="5.8" height="25.0" fill="#ff6666" shape-rendering="crispEdges"/>
<rect x="512.0" y="108.7" width="5.1" height="25.0" fill="#ff8080" shape-rendering="crispEdges"/>
<rect x="516.5" y="108.7" width="4.0" height="25.0" fill="#ff7373" shape-rendering="crispEdges"/>
<rect x="519.9" y="108.7" width="3.3" height="25.0" fill="#ffbfbf" shape-rendering="crispEdges"/>
<rect x="522.6" y="108.7" width="3.5" height="25.0" fill="#ffd9d9" shape-rendering="crispEdges"/>
<rect x="525.5" y="108.7" width="4.0" height="25.0" fill="#ffa6a6" shape-rendering="crispEdges"/>
<rect x="528.9" y="108.7" width="2.9" height="25.0" fill="#ffbfbf" shape-rendering="crispEdges"/>
<rect x="531.2" y="108.7" width="2.4" height="25.0" fill="#ff3333" shape-rendering="crispEdges"/>
<rect x="533.0" y="108.7" width="3.3" height="25.0" fill="#fffafa" shape-rendering="crispEdges"/>
<rect x="535.7" y="108.7" width="4.0" height="25.0" fill="#f2f2ff" shape-rendering="crispEdges"/>
<rect x="539.1" y="108.7" width="5.1" height="25.0" fill="#4040ff" shape-rendering="crispEdges"/>
<rect x="543.7" y="108.7" width="6.3" height="25.0" fill="#5959ff" shape-rendering="crispEdges"/>
<rect x="549.3" y="108.7" width="7.4" height="25.0" fill="#8080ff" shape-rendering="crispEdges"/>
<rect x="556.1" y="108.7" width="7.4" height="25.0" fill="#7373ff" shape-rendering="crispEdges"/>
<rect x="562.9" y="108.7" width="7.4" height="25.0" fill="#8585ff" shape-rendering="crispEdges"/>
<rect x="569.7" y="108.7" width="5.1" height="25.0" fill="#7373ff" shape-rendering="crispEdges"/>
<rect x="574.2" y="108.7" width="7.4" height="25.0" fill="#8080ff" shape-rendering="crispEdges"/>
<rect x="581.0" y="108.7" width="9.7" height="25.0" fill="#7070ff" shape-rendering="crispEdges"/>
<rect x="590.0" y="108.7" width="6.3" height="25.0" fill="#6666ff" shape-rendering="crispEdges"/>
<rect x="595.7" y="108.7" width="6.3" height="25.0" fill="#7a7aff" shape-rendering="crispEdges"/>
<rect x="601.4" y="108.7" width="7.4" height="25.0" fill="#9e9eff" shape-rendering="crispEdges"/>
<rect x="608.1" y="108.7" width="8.5" height="25.0" fill="#9494ff" shape-rendering="crispEdges"/>
<rect x="616.1" y="108.7" width="6.3" height="25.0" fill="#adadff" shape-rendering="crispEdges"/>
<rect x="621.7" y="108.7" width="9.7" height="25.0" fill="#9999ff" shape-rendering="crispEdges"/>
<rect x="630.8" y="108.7" width="6.3" height="25.0" fill="#ccccff" shape-rendering="crispEdges"/>
<rect x="636.4" y="108.7" width="6.0" height="25.0" fill="#bfbfff" shape-rendering="crispEdges"/>
<rect x="499.1" y="133.7" width="33.9" height="24.5" fill="#1212ff" shape-rendering="crispEdges"/>
<rect x="532.3" y="133.7" width="2.2" height="24.5" fill="#ffffff" shape-rendering="crispEdges"/>
<rect x="533.9" y="133.7" width="108.5" height="24.5" fill="#ff0000" shape-rendering="crispEdges"/>
<rect x="508.6" y="133.7" width="1.2" height="24.5" fill="#0000ff" shape-rendering="crispEdges"/>
<rect x="517.6" y="133.7" width="1.2" height="24.5" fill="#0808ff" shape-rendering="crispEdges"/>
<rect x="522.2" y="133.7" width="1.2" height="24.5" fill="#1a1aff" shape-rendering="crispEdges"/>
<rect x="526.7" y="133.7" width="1.2" height="24.5" fill="#0808ff" shape-rendering="crispEdges"/>
<text x="497.0" y="101.8" font-size="10.5" text-anchor="end" font-style="italic" fill="#0a0a0a" >gnp4/lax2-ko</text>
<text x="497.0" y="127.0" font-size="10.5" text-anchor="end" font-style="italic" fill="#0a0a0a" >gnp2-ko</text>
<text x="496.0" y="151.7" font-size="10.5" text-anchor="end" fill="#0a0a0a" >Nip</text>
<defs><linearGradient id="zg" x1="0" y1="0" x2="0" y2="1"><stop offset="0" stop-color="#ff0000"/><stop offset="0.5" stop-color="#ffffff"/><stop offset="1" stop-color="#0000ff"/></linearGradient></defs>
<rect x="650.1" y="84.0" width="5.0" height="46.8" fill="url(#zg)" />
<text x="660.6" y="93.3" font-size="10.5" text-anchor="start" fill="#0a0a0a" >1.0</text>
<text x="661.6" y="114.3" font-size="10.5" text-anchor="start" fill="#0a0a0a" >0</text>
<text x="657.3" y="133.7" font-size="10.5" text-anchor="start" fill="#0a0a0a" >-1.0</text>
<text x="649.6" y="144.3" font-size="10.5" text-anchor="start" fill="#0a0a0a" >Z-score</text>
<path d="M499.8,158.2 V193.2 H507.5 M507.5,166 V193.2 M503.5,193.2 V196.3 H542.6 V194 M507.5,175.7 H513.4 M513.4,168.7 V175.7 M513.4,168.7 H519.2 V164 M519.2,164 H525 V158.2 M507.5,166 H503 V158.2 M507.5,166 H510 V158.2 M513.4,168.7 V163 H516 V158.2 M500.5,158.2 V161.6 H502.2 V158.2 M502.8,158.2 V161.9 H505.2 V158.2 M505.6,158.2 V162.6 H506.8 V158.2 M507.3,158.2 V163.2 H509.0 V158.2 M509.7,158.2 V161.4 H512.6 V158.2 M513.5,158.2 V161.9 H515.0 V158.2 M516.1,158.2 V162.3 H518.3 V158.2 M519.2,158.2 V162.4 H520.5 V158.2 M521.4,158.2 V159.8 H523.2 V158.2 M524.3,158.2 V162.2 H526.4 V158.2 M527.5,158.2 V162.9 H530.1 V158.2 M530.8,158.2 V161.3 H533.6 V158.2 M532.7,158.2 V194 H552.6 V180.4 M535.5,161.7 V180.4 H570.6 M570.6,174 V180.4 M541.4,162.8 V174 H600.3 M600.3,167.5 V174 M576,161.5 V167.5 H625 V161.5 M562,159.2 V162 H590 V159.2 M610,159.2 V163 H638 V159.2 M538,158.2 V164 H545 V158.2 M533.2,158.2 V159.2 H538.7 V158.2 M539.1,158.2 V161.3 H541.6 V158.2 M542.4,158.2 V159.7 H546.7 V158.2 M547.6,158.2 V159.8 H550.9 V158.2 M551.9,158.2 V161.2 H556.0 V158.2 M557.1,158.2 V161.1 H562.8 V158.2 M564.3,158.2 V159.4 H568.8 V158.2 M570.2,158.2 V161.2 H576.0 V158.2 M577.0,158.2 V159.5 H581.7 V158.2 M583.0,158.2 V159.7 H587.1 V158.2 M587.4,158.2 V161.4 H592.8 V158.2 M593.2,158.2 V160.0 H598.3 V158.2 M598.8,158.2 V160.8 H601.6 V158.2 M602.9,158.2 V160.5 H604.6 V158.2 M605.0,158.2 V159.8 H609.7 V158.2 M611.1,158.2 V160.2 H617.0 V158.2 M618.5,158.2 V159.2 H621.4 V158.2 M622.4,158.2 V159.5 H624.1 V158.2 M624.8,158.2 V159.4 H629.1 V158.2 M629.4,158.2 V159.8 H634.8 V158.2 M636.3,158.2 V159.9 H641.8 V158.2 " fill="none" stroke="#8e8e8e" stroke-width="0.7"/>
<text x="471.6" y="188.3" font-size="10.5" text-anchor="start" fill="#0a0a0a" >Cluster1</text>
<text x="565.8" y="189.0" font-size="10.5" text-anchor="start" fill="#0a0a0a" >Cluster2</text>
<text x="6.8" y="227.7" font-size="21" text-anchor="start" fill="#000" >d</text>
<rect x="261.7" y="222.5" width="122.1" height="109.5" fill="#ffffff" stroke="#c9c9c9" stroke-width="0.8"/>
<line x1="269.6" y1="222.5" x2="269.6" y2="332.0" stroke="#f1f1f1" stroke-width="0.6" />
<line x1="315.6" y1="222.5" x2="315.6" y2="332.0" stroke="#f1f1f1" stroke-width="0.6" />
<line x1="362.0" y1="222.5" x2="362.0" y2="332.0" stroke="#f1f1f1" stroke-width="0.6" />
<line x1="292.1" y1="222.5" x2="292.1" y2="332.0" stroke="#e6e6e6" stroke-width="0.8" />
<line x1="339.1" y1="222.5" x2="339.1" y2="332.0" stroke="#e6e6e6" stroke-width="0.8" />
<line x1="261.7" y1="229.2" x2="383.8" y2="229.2" stroke="#ebebeb" stroke-width="0.7" />
<line x1="261.7" y1="239.9" x2="383.8" y2="239.9" stroke="#ebebeb" stroke-width="0.7" />
<line x1="261.7" y1="250.6" x2="383.8" y2="250.6" stroke="#ebebeb" stroke-width="0.7" />
<line x1="261.7" y1="261.3" x2="383.8" y2="261.3" stroke="#ebebeb" stroke-width="0.7" />
<line x1="261.7" y1="272.0" x2="383.8" y2="272.0" stroke="#ebebeb" stroke-width="0.7" />
<line x1="261.7" y1="282.8" x2="383.8" y2="282.8" stroke="#ebebeb" stroke-width="0.7" />
<line x1="261.7" y1="293.5" x2="383.8" y2="293.5" stroke="#ebebeb" stroke-width="0.7" />
<line x1="261.7" y1="304.2" x2="383.8" y2="304.2" stroke="#ebebeb" stroke-width="0.7" />
<line x1="261.7" y1="314.9" x2="383.8" y2="314.9" stroke="#ebebeb" stroke-width="0.7" />
<line x1="261.7" y1="325.6" x2="383.8" y2="325.6" stroke="#ebebeb" stroke-width="0.7" />
<rect x="261.7" y="222.5" width="122.1" height="109.5" fill="none" stroke="#bdbdbd" stroke-width="0.8"/>
<line x1="259.5" y1="229.2" x2="261.7" y2="229.2" stroke="#444" stroke-width="0.7" />
<text x="257.0" y="232.8" font-size="10.65" text-anchor="end" fill="#0a0a0a" >Cytoplasmic region</text>
<line x1="259.5" y1="239.9" x2="261.7" y2="239.9" stroke="#444" stroke-width="0.7" />
<text x="257.0" y="243.5" font-size="10.65" text-anchor="end" fill="#0a0a0a" >Cell cortex</text>
<line x1="259.5" y1="250.6" x2="261.7" y2="250.6" stroke="#444" stroke-width="0.7" />
<text x="257.0" y="254.2" font-size="10.65" text-anchor="end" fill="#0a0a0a" >Regulation of biological quality</text>
<line x1="259.5" y1="261.3" x2="261.7" y2="261.3" stroke="#444" stroke-width="0.7" />
<text x="257.0" y="264.9" font-size="10.65" text-anchor="end" fill="#ff1a1a" >sequence-specific DNA binding</text>
<line x1="259.5" y1="272.0" x2="261.7" y2="272.0" stroke="#444" stroke-width="0.7" />
<text x="257.0" y="275.6" font-size="10.65" text-anchor="end" fill="#0a0a0a" >Elecrton transfer activity</text>
<line x1="259.5" y1="282.8" x2="261.7" y2="282.8" stroke="#444" stroke-width="0.7" />
<text x="257.0" y="286.4" font-size="10.65" text-anchor="end" fill="#0a0a0a" >Secretion by cell</text>
<line x1="259.5" y1="293.5" x2="261.7" y2="293.5" stroke="#444" stroke-width="0.7" />
<text x="257.0" y="297.1" font-size="10.65" text-anchor="end" fill="#0a0a0a" >Shosphatase activity</text>
<line x1="259.5" y1="304.2" x2="261.7" y2="304.2" stroke="#444" stroke-width="0.7" />
<text x="257.0" y="307.8" font-size="10.65" text-anchor="end" fill="#0a0a0a" >Regulation of protein serine/threonine kinase activity</text>
<line x1="259.5" y1="314.9" x2="261.7" y2="314.9" stroke="#444" stroke-width="0.7" />
<text x="257.0" y="318.5" font-size="10.65" text-anchor="end" fill="#0a0a0a" >Zinc ion binding</text>
<line x1="259.5" y1="325.6" x2="261.7" y2="325.6" stroke="#444" stroke-width="0.7" />
<text x="257.0" y="329.2" font-size="10.65" text-anchor="end" fill="#0a0a0a" >Kinase binding</text>
<circle cx="378.8" cy="229.2" r="2.70" fill="#d8127c" />
<circle cx="378.8" cy="239.9" r="2.70" fill="#da1578" />
<circle cx="333.1" cy="250.6" r="3.40" fill="#fa0c1c" />
<circle cx="307.9" cy="261.3" r="3.40" fill="#e01e78" />
<circle cx="307.9" cy="272.0" r="3.40" fill="#fa0c1c" />
<circle cx="304.2" cy="282.8" r="2.80" fill="#e81c5c" />
<circle cx="287.1" cy="293.5" r="2.80" fill="#fa0c1c" />
<circle cx="275.0" cy="304.2" r="1.40" fill="#8a32ea" />
<circle cx="266.9" cy="314.9" r="3.60" fill="#7a3dff" />
<circle cx="266.3" cy="325.6" r="1.40" fill="#c40fc0" />
<text x="325.2" y="217.4" font-size="10.5" text-anchor="middle" fill="#0a0a0a" >Cluster 1</text>
<line x1="292.1" y1="332.0" x2="292.1" y2="333.6" stroke="#555" stroke-width="0.7" />
<line x1="339.1" y1="332.0" x2="339.1" y2="333.6" stroke="#555" stroke-width="0.7" />
<text x="293.7" y="344.6" font-size="10.5" text-anchor="middle" fill="#0a0a0a" >0.05</text>
<text x="339.3" y="344.6" font-size="10.5" text-anchor="middle" fill="#0a0a0a" >0.10</text>
<text x="257.3" y="344.0" font-size="10.5" text-anchor="end" fill="#0a0a0a" >Gene Ratio</text>
<text x="392.9" y="229.6" font-size="10.5" fill="#0a0a0a"><tspan font-style="italic">P</tspan>-value</text>
<defs><linearGradient id="pg" x1="0" y1="0" x2="0" y2="1"><stop offset="0" stop-color="#7a4dff"/><stop offset="0.5" stop-color="#c410b4"/><stop offset="1" stop-color="#ff1230"/></linearGradient></defs>
<rect x="393.5" y="234.5" width="5.6" height="34.3" fill="url(#pg)" />
<text x="401.3" y="248.8" font-size="10.5" text-anchor="start" fill="#0a0a0a" >0.03</text>
<text x="401.3" y="261.8" font-size="10.5" text-anchor="start" fill="#0a0a0a" >0.02</text>
<text x="392.2" y="288.6" font-size="10.5" text-anchor="start" fill="#0a0a0a" >Counts</text>
<circle cx="395.2" cy="298.2" r="1.60" fill="#000" />
<text x="402.2" y="302.2" font-size="10.5" text-anchor="start" fill="#0a0a0a" >1</text>
<circle cx="395.2" cy="307.6" r="2.60" fill="#000" />
<text x="402.2" y="311.6" font-size="10.5" text-anchor="start" fill="#0a0a0a" >2</text>
<circle cx="395.2" cy="317.0" r="3.20" fill="#000" />
<text x="402.2" y="321.0" font-size="10.5" text-anchor="start" fill="#0a0a0a" >3</text>
<circle cx="395.2" cy="326.2" r="3.90" fill="#000" />
<text x="402.2" y="330.2" font-size="10.5" text-anchor="start" fill="#0a0a0a" >4</text>
<rect x="241.2" y="363.0" width="155.7" height="110.4" fill="#ffffff" stroke="#c9c9c9" stroke-width="0.8"/>
<line x1="244.6" y1="363.0" x2="244.6" y2="473.4" stroke="#f1f1f1" stroke-width="0.6" />
<line x1="275.8" y1="363.0" x2="275.8" y2="473.4" stroke="#f1f1f1" stroke-width="0.6" />
<line x1="307.2" y1="363.0" x2="307.2" y2="473.4" stroke="#f1f1f1" stroke-width="0.6" />
<line x1="338.6" y1="363.0" x2="338.6" y2="473.4" stroke="#f1f1f1" stroke-width="0.6" />
<line x1="369.8" y1="363.0" x2="369.8" y2="473.4" stroke="#f1f1f1" stroke-width="0.6" />
<line x1="260.2" y1="363.0" x2="260.2" y2="473.4" stroke="#e6e6e6" stroke-width="0.8" />
<line x1="291.5" y1="363.0" x2="291.5" y2="473.4" stroke="#e6e6e6" stroke-width="0.8" />
<line x1="323.0" y1="363.0" x2="323.0" y2="473.4" stroke="#e6e6e6" stroke-width="0.8" />
<line x1="354.2" y1="363.0" x2="354.2" y2="473.4" stroke="#e6e6e6" stroke-width="0.8" />
<line x1="385.5" y1="363.0" x2="385.5" y2="473.4" stroke="#e6e6e6" stroke-width="0.8" />
<line x1="241.2" y1="369.6" x2="396.9" y2="369.6" stroke="#ebebeb" stroke-width="0.7" />
<line x1="241.2" y1="380.5" x2="396.9" y2="380.5" stroke="#ebebeb" stroke-width="0.7" />
<line x1="241.2" y1="391.3" x2="396.9" y2="391.3" stroke="#ebebeb" stroke-width="0.7" />
<line x1="241.2" y1="402.2" x2="396.9" y2="402.2" stroke="#ebebeb" stroke-width="0.7" />
<line x1="241.2" y1="413.0" x2="396.9" y2="413.0" stroke="#ebebeb" stroke-width="0.7" />
<line x1="241.2" y1="423.9" x2="396.9" y2="423.9" stroke="#ebebeb" stroke-width="0.7" />
<line x1="241.2" y1="434.8" x2="396.9" y2="434.8" stroke="#ebebeb" stroke-width="0.7" />
<line x1="241.2" y1="445.6" x2="396.9" y2="445.6" stroke="#ebebeb" stroke-width="0.7" />
<line x1="241.2" y1="456.5" x2="396.9" y2="456.5" stroke="#ebebeb" stroke-width="0.7" />
<line x1="241.2" y1="467.3" x2="396.9" y2="467.3" stroke="#ebebeb" stroke-width="0.7" />
<rect x="241.2" y="363.0" width="155.7" height="110.4" fill="none" stroke="#bdbdbd" stroke-width="0.8"/>
<line x1="239.0" y1="369.6" x2="241.2" y2="369.6" stroke="#444" stroke-width="0.7" />
<text x="236.3" y="373.2" font-size="10.65" text-anchor="end" fill="#0a0a0a" >Endomembrane system</text>
<line x1="239.0" y1="380.5" x2="241.2" y2="380.5" stroke="#444" stroke-width="0.7" />
<text x="236.3" y="384.1" font-size="10.65" text-anchor="end" fill="#ff1a1a" >Transcription factor activity</text>
<line x1="239.0" y1="391.3" x2="241.2" y2="391.3" stroke="#444" stroke-width="0.7" />
<text x="236.3" y="394.9" font-size="10.65" text-anchor="end" fill="#0a0a0a" >Nucleoside-triphosphatase activity</text>
<line x1="239.0" y1="402.2" x2="241.2" y2="402.2" stroke="#444" stroke-width="0.7" />
<text x="236.3" y="405.8" font-size="10.65" text-anchor="end" fill="#0a0a0a" >Hydrolase activity</text>
<line x1="239.0" y1="413.0" x2="241.2" y2="413.0" stroke="#444" stroke-width="0.7" />
<text x="236.3" y="416.6" font-size="10.65" text-anchor="end" fill="#0a0a0a" >Intracellular transport</text>
<line x1="239.0" y1="423.9" x2="241.2" y2="423.9" stroke="#444" stroke-width="0.7" />
<text x="236.3" y="427.5" font-size="10.65" text-anchor="end" fill="#0a0a0a" >Nuclear envelope</text>
<line x1="239.0" y1="434.8" x2="241.2" y2="434.8" stroke="#444" stroke-width="0.7" />
<text x="236.3" y="438.4" font-size="10.65" text-anchor="end" fill="#0a0a0a" >Actin cytoskeleton</text>
<line x1="239.0" y1="445.6" x2="241.2" y2="445.6" stroke="#444" stroke-width="0.7" />
<text x="236.3" y="449.2" font-size="10.65" text-anchor="end" fill="#0a0a0a" >Oxidoreductase activity</text>
<line x1="239.0" y1="456.5" x2="241.2" y2="456.5" stroke="#444" stroke-width="0.7" />
<text x="236.3" y="460.1" font-size="10.65" text-anchor="end" fill="#ff1a1a" >Regulation of transcription by RNA polymerase II</text>
<line x1="239.0" y1="467.3" x2="241.2" y2="467.3" stroke="#444" stroke-width="0.7" />
<text x="236.3" y="470.9" font-size="10.65" text-anchor="end" fill="#0a0a0a" >Organic hydroxy compound metabolic process</text>
<circle cx="389.5" cy="369.6" r="2.10" fill="#fa0c1c" />
<circle cx="354.9" cy="380.5" r="3.50" fill="#7040ff" />
<circle cx="298.8" cy="391.3" r="3.00" fill="#c8209a" />
<circle cx="298.8" cy="402.2" r="2.80" fill="#6a45ff" />
<circle cx="294.8" cy="413.0" r="2.40" fill="#fa0c1c" />
<circle cx="293.1" cy="423.9" r="1.20" fill="#e8105a" />
<circle cx="293.1" cy="434.8" r="1.20" fill="#b020b0" />
<circle cx="250.1" cy="445.6" r="2.10" fill="#fa0c1c" />
<circle cx="247.7" cy="456.5" r="1.50" fill="#c010c0" />
<circle cx="247.7" cy="467.3" r="1.50" fill="#e01070" />
<text x="328.2" y="357.7" font-size="10.5" text-anchor="middle" fill="#0a0a0a" >Cluster 2</text>
<line x1="260.2" y1="473.4" x2="260.2" y2="475.0" stroke="#555" stroke-width="0.7" />
<line x1="291.5" y1="473.4" x2="291.5" y2="475.0" stroke="#555" stroke-width="0.7" />
<line x1="323.0" y1="473.4" x2="323.0" y2="475.0" stroke="#555" stroke-width="0.7" />
<line x1="354.2" y1="473.4" x2="354.2" y2="475.0" stroke="#555" stroke-width="0.7" />
<line x1="385.5" y1="473.4" x2="385.5" y2="475.0" stroke="#555" stroke-width="0.7" />
<text x="255.5" y="487.2" font-size="10.5" text-anchor="middle" fill="#0a0a0a" >0.025</text>
<text x="287.2" y="487.2" font-size="10.5" text-anchor="middle" fill="#0a0a0a" >0.050</text>
<text x="319.5" y="487.2" font-size="10.5" text-anchor="middle" fill="#0a0a0a" >0.075</text>
<text x="351.2" y="487.2" font-size="10.5" text-anchor="middle" fill="#0a0a0a" >0.100</text>
<text x="382.5" y="487.2" font-size="10.5" text-anchor="middle" fill="#0a0a0a" >0.125</text>
<text x="235.4" y="487.8" font-size="10.5" text-anchor="end" fill="#0a0a0a" >Gene Ratio</text>
<text x="407" y="363.6" font-size="10.5" fill="#0a0a0a"><tspan font-style="italic">P</tspan>-value</text>
<rect x="407.0" y="370.1" width="7.0" height="44.6" fill="url(#pg)" />
<text x="416.4" y="375.2" font-size="10.5" text-anchor="start" fill="#0a0a0a" >0.04</text>
<text x="416.4" y="386.1" font-size="10.5" text-anchor="start" fill="#0a0a0a" >0.03</text>
<text x="416.4" y="397.1" font-size="10.5" text-anchor="start" fill="#0a0a0a" >0.02</text>
<text x="416.4" y="408.5" font-size="10.5" text-anchor="start" fill="#0a0a0a" >0.01</text>
<text x="407.0" y="427.3" font-size="10.5" text-anchor="start" fill="#0a0a0a" >Counts</text>
<circle cx="410.5" cy="436.1" r="2.00" fill="#000" />
<text x="418.2" y="440.3" font-size="10.5" text-anchor="start" fill="#0a0a0a" >5</text>
<circle cx="410.5" cy="445.5" r="2.70" fill="#000" />
<text x="418.2" y="449.7" font-size="10.5" text-anchor="start" fill="#0a0a0a" >10</text>
<circle cx="410.5" cy="455.0" r="3.10" fill="#000" />
<text x="418.2" y="459.2" font-size="10.5" text-anchor="start" fill="#0a0a0a" >15</text>
<circle cx="410.5" cy="464.4" r="3.50" fill="#000" />
<text x="418.2" y="468.6" font-size="10.5" text-anchor="start" fill="#0a0a0a" >20</text>
<circle cx="410.5" cy="473.7" r="3.90" fill="#000" />
<text x="418.2" y="477.9" font-size="10.5" text-anchor="start" fill="#0a0a0a" >25</text>
<text x="462.8" y="228.3" font-size="21" text-anchor="start" fill="#000" >e</text>
<text x="590.0" y="220.0" font-size="10.5" text-anchor="middle" fill="#0a0a0a" >BD+</text>
<line x1="531.6" y1="224.1" x2="647.0" y2="224.1" stroke="#000" stroke-width="1.2" />
<text x="541.6" y="243.6" font-size="10.5" text-anchor="middle" fill="#0a0a0a" >Empty</text>
<text x="572.3" y="236.9" font-size="10.5" text-anchor="middle" fill="#0a0a0a" >Gnp4</text>
<text x="573.9" y="248.6" font-size="10.5" text-anchor="middle" fill="#0a0a0a" >/LAX2</text>
<text x="605.3" y="241.8" font-size="10.5" text-anchor="middle" fill="#0a0a0a" >Empty</text>
<text x="636.9" y="236.9" font-size="10.5" text-anchor="middle" fill="#0a0a0a" >Gnp4</text>
<text x="638.2" y="248.6" font-size="10.5" text-anchor="middle" fill="#0a0a0a" >/LAX2</text>
<text x="521.5" y="270.6" font-size="10.65" text-anchor="end" fill="#0a0a0a" >LAX1-AD</text>
<text x="521.5" y="295.3" font-size="10.65" text-anchor="end" fill="#0a0a0a" >MOG1-AD</text>
<text x="521.5" y="320.3" font-size="10.65" text-anchor="end" fill="#0a0a0a" >Ghd2-AD</text>
<text x="521.5" y="345.9" font-size="10.65" text-anchor="end" fill="#0a0a0a" >An-1-AD</text>
<text x="521.5" y="371.5" font-size="10.65" text-anchor="end" fill="#0a0a0a" >GL6-AD</text>
<text x="521.5" y="396.8" font-size="10.65" text-anchor="end" fill="#0a0a0a" >OsMADS15-AD</text>
<text x="521.5" y="422.2" font-size="10.65" text-anchor="end" fill="#0a0a0a" >AD</text>
<defs>
<radialGradient id="sp1"><stop offset="0" stop-color="#f3c3b4"/><stop offset="0.75" stop-color="#eeb3a6"/><stop offset="0.92" stop-color="#e2a19a"/><stop offset="1" stop-color="#c97a7c" stop-opacity="0.6"/></radialGradient>
<radialGradient id="sp2"><stop offset="0" stop-color="#f7baa6"/><stop offset="0.8" stop-color="#f4b09e"/><stop offset="0.94" stop-color="#e89a90"/><stop offset="1" stop-color="#cf7272" stop-opacity="0.6"/></radialGradient>
<radialGradient id="sp4"><stop offset="0" stop-color="#d3aaa4"/><stop offset="0.8" stop-color="#cca09c"/><stop offset="0.94" stop-color="#c48a8c"/><stop offset="1" stop-color="#c05a6c" stop-opacity="0.6"/></radialGradient>
<radialGradient id="sh"><stop offset="0" stop-color="#8d4453" stop-opacity="0.55"/><stop offset="0.6" stop-color="#8d4453" stop-opacity="0.35"/><stop offset="1" stop-color="#8d4453" stop-opacity="0"/></radialGradient>
</defs>
<rect x="530.9" y="254.2" width="23.5" height="69.2" fill="#bf626b" />
<line x1="530.9" y1="277.3" x2="554.4" y2="277.3" stroke="#c9707a" stroke-width="0.6" stroke-opacity="0.7"/>
<line x1="530.9" y1="300.3" x2="554.4" y2="300.3" stroke="#c9707a" stroke-width="0.6" stroke-opacity="0.7"/>
<rect x="562.1" y="254.2" width="23.7" height="69.2" fill="#c65863" />
<line x1="562.1" y1="277.3" x2="585.8" y2="277.3" stroke="#c9707a" stroke-width="0.6" stroke-opacity="0.7"/>
<line x1="562.1" y1="300.3" x2="585.8" y2="300.3" stroke="#c9707a" stroke-width="0.6" stroke-opacity="0.7"/>
<rect x="595.2" y="254.2" width="23.5" height="69.2" fill="#c73e58" />
<line x1="595.2" y1="277.3" x2="618.7" y2="277.3" stroke="#d8787a" stroke-width="0.6" stroke-opacity="0.7"/>
<line x1="595.2" y1="300.3" x2="618.7" y2="300.3" stroke="#d8787a" stroke-width="0.6" stroke-opacity="0.7"/>
<rect x="627.1" y="254.2" width="23.3" height="69.2" fill="#c0304f" />
<line x1="627.1" y1="277.3" x2="650.4" y2="277.3" stroke="#d8787a" stroke-width="0.6" stroke-opacity="0.7"/>
<line x1="627.1" y1="300.3" x2="650.4" y2="300.3" stroke="#d8787a" stroke-width="0.6" stroke-opacity="0.7"/>
<rect x="530.9" y="326.5" width="23.5" height="71.3" fill="#c7525d" />
<line x1="530.9" y1="350.3" x2="554.4" y2="350.3" stroke="#c9707a" stroke-width="0.6" stroke-opacity="0.7"/>
<line x1="530.9" y1="374.0" x2="554.4" y2="374.0" stroke="#c9707a" stroke-width="0.6" stroke-opacity="0.7"/>
<rect x="562.1" y="326.5" width="23.7" height="71.3" fill="#c84f5b" />
<line x1="562.1" y1="350.3" x2="585.8" y2="350.3" stroke="#c9707a" stroke-width="0.6" stroke-opacity="0.7"/>
<line x1="562.1" y1="374.0" x2="585.8" y2="374.0" stroke="#c9707a" stroke-width="0.6" stroke-opacity="0.7"/>
<rect x="595.2" y="326.5" width="23.5" height="71.3" fill="#c93a55" />
<line x1="595.2" y1="350.3" x2="618.7" y2="350.3" stroke="#d8787a" stroke-width="0.6" stroke-opacity="0.7"/>
<line x1="595.2" y1="374.0" x2="618.7" y2="374.0" stroke="#d8787a" stroke-width="0.6" stroke-opacity="0.7"/>
<rect x="627.1" y="326.5" width="23.3" height="71.3" fill="#c1304e" />
<line x1="627.1" y1="350.3" x2="650.4" y2="350.3" stroke="#d8787a" stroke-width="0.6" stroke-opacity="0.7"/>
<line x1="627.1" y1="374.0" x2="650.4" y2="374.0" stroke="#d8787a" stroke-width="0.6" stroke-opacity="0.7"/>
<rect x="530.9" y="400.9" width="23.5" height="23.7" fill="#c24a5c" />
<rect x="562.1" y="400.9" width="23.7" height="23.7" fill="#c5505e" />
<rect x="595.2" y="400.9" width="23.5" height="23.7" fill="#a84560" />
<rect x="627.1" y="400.9" width="23.3" height="23.7" fill="#a94a62" />
<ellipse cx="542.9" cy="269.3" rx="11.4" ry="9.4" fill="url(#sh)"/>
<circle cx="543.9" cy="267.8" r="5.90" fill="url(#sp1)" />
<ellipse cx="542.4" cy="290.9" rx="11.4" ry="9.4" fill="url(#sh)"/>
<circle cx="543.4" cy="289.4" r="5.90" fill="url(#sp1)" />
<ellipse cx="542.4" cy="313.3" rx="11.5" ry="9.5" fill="url(#sh)"/>
<circle cx="543.4" cy="311.8" r="6.00" fill="url(#sp1)" />
<circle cx="573.6" cy="268.9" r="6.20" fill="url(#sp2)" />
<circle cx="574.3" cy="291.9" r="6.20" fill="url(#sp2)" />
<circle cx="573.6" cy="313.5" r="6.20" fill="url(#sp2)" />
<circle cx="638.2" cy="267.4" r="5.50" fill="url(#sp4)" />
<circle cx="638.8" cy="291.5" r="5.50" fill="url(#sp4)" />
<circle cx="638.2" cy="315.0" r="5.70" fill="url(#sp4)" />
<ellipse cx="546.7" cy="340.2" rx="8.4" ry="7.9" fill="url(#sh)" opacity="0.7"/>
<circle cx="542.2" cy="339.7" r="6.40" fill="url(#sp2)" />
<ellipse cx="546.7" cy="364.1" rx="8.4" ry="7.9" fill="url(#sh)" opacity="0.7"/>
<circle cx="542.2" cy="363.6" r="6.40" fill="url(#sp2)" />
<ellipse cx="546.3" cy="387.8" rx="8.4" ry="7.9" fill="url(#sh)" opacity="0.7"/>
<circle cx="541.8" cy="387.3" r="6.40" fill="url(#sp2)" />
<circle cx="573.2" cy="340.1" r="6.20" fill="url(#sp2)" />
<circle cx="573.2" cy="365.3" r="6.20" fill="url(#sp2)" />
<circle cx="572.8" cy="387.3" r="6.20" fill="url(#sp2)" />
<circle cx="638.6" cy="340.6" r="5.90" fill="url(#sp4)" />
<circle cx="638.6" cy="365.3" r="5.90" fill="url(#sp4)" />
<circle cx="638.2" cy="389.4" r="6.00" fill="url(#sp4)" />
<circle cx="542.8" cy="415.6" r="6.30" fill="url(#sp1)" />
<circle cx="573.2" cy="413.9" r="6.50" fill="url(#sp2)" />
<text x="560.2" y="441.3" font-size="10.5" text-anchor="middle" fill="#0a0a0a" >SD/-T-L</text>
<text x="621.0" y="441.3" font-size="10.5" text-anchor="middle" fill="#0a0a0a" >SD/-T-L-A-H</text>
<text x="0.2" y="508.3" font-size="21" text-anchor="start" fill="#000" >f</text>
<text x="58.2" y="518.3" font-size="10.5" text-anchor="middle" fill="#0a0a0a" >Effector vector</text>
<rect x="1.8" y="521.2" width="24.1" height="24.3" fill="#fff" stroke="#000" stroke-width="1.35"/>
<text x="13.8" y="537.3" font-size="10.5" text-anchor="middle" font-style="italic" fill="#0a0a0a" >35S</text>
<rect x="25.9" y="521.2" width="47.3" height="24.3" fill="#b4c7e7" stroke="#000" stroke-width="1.35"/>
<text x="49.5" y="537.3" font-size="10.5" text-anchor="middle" font-style="italic" fill="#0a0a0a" >GAL4BD</text>
<rect x="73.2" y="521.2" width="38.3" height="24.3" fill="#c5e0b4" stroke="#000" stroke-width="1.35"/>
<text x="92.3" y="537.3" font-size="10.5" text-anchor="middle" fill="#0a0a0a" >Gene</text>
<text x="153.9" y="518.3" font-size="10.5" text-anchor="middle" fill="#0a0a0a" >Plus vector</text>
<rect x="120.9" y="521.2" width="24.5" height="24.3" fill="#fff" stroke="#000" stroke-width="1.35"/>
<text x="133.2" y="537.3" font-size="10.5" text-anchor="middle" font-style="italic" fill="#0a0a0a" >35S</text>
<rect x="145.4" y="521.2" width="37.6" height="24.3" fill="#c5e0b4" stroke="#000" stroke-width="1.35"/>
<text x="164.2" y="537.3" font-size="10.5" text-anchor="middle" fill="#0a0a0a" >Gene</text>
<text x="236.9" y="518.3" font-size="10.5" text-anchor="middle" fill="#0a0a0a" >Reference vector</text>
<rect x="192.1" y="521.2" width="25.1" height="24.3" fill="#fff" stroke="#000" stroke-width="1.35"/>
<text x="204.6" y="537.3" font-size="10.5" text-anchor="middle" font-style="italic" fill="#0a0a0a" >35S</text>
<rect x="217.2" y="521.2" width="64.5" height="24.3" fill="#fdebc8" stroke="#000" stroke-width="1.35"/>
<text x="249.4" y="537.3" font-size="10.5" text-anchor="middle" font-style="italic" fill="#0a0a0a" >Renilla LUC</text>
<text x="351.7" y="518.3" font-size="10.5" text-anchor="middle" fill="#0a0a0a" >Reporter vector</text>
<rect x="291.2" y="521.2" width="24.7" height="24.3" fill="#fff" stroke="#000" stroke-width="1.35"/>
<text x="303.5" y="537.3" font-size="10.5" text-anchor="middle" font-style="italic" fill="#0a0a0a" >35S</text>
<rect x="315.9" y="521.2" width="28.0" height="24.3" fill="#f6c3a6" stroke="#000" stroke-width="1.35"/>
<text x="329.9" y="537.3" font-size="10.5" text-anchor="middle" font-style="italic" fill="#0a0a0a" >UAS</text>
<rect x="343.9" y="521.2" width="65.7" height="24.3" fill="#a9eaf1" stroke="#000" stroke-width="1.35"/>
<text x="376.8" y="537.3" font-size="10.5" text-anchor="middle" font-style="italic" fill="#0a0a0a" >Firefly LUC</text>
<text x="4.7" y="563.5" font-size="10.5" text-anchor="start" fill="#0a0a0a" >Effector</text>
<text x="95.9" y="563.0" font-size="10.5" text-anchor="start" fill="#0a0a0a" >Plus</text>
<line x1="4.2" y1="567.3" x2="168.8" y2="567.3" stroke="#000" stroke-width="1.3" />
<line x1="168.1" y1="566.7" x2="168.1" y2="824.6" stroke="#000" stroke-width="1.6" />
<line x1="167.3" y1="823.8" x2="406.6" y2="823.8" stroke="#000" stroke-width="1.8" />
<line x1="168.2" y1="823.8" x2="168.2" y2="827.8" stroke="#000" stroke-width="1.3" />
<text x="168.2" y="839.2" font-size="10.5" text-anchor="middle" fill="#0a0a0a" >0</text>
<line x1="227.6" y1="823.8" x2="227.6" y2="827.8" stroke="#000" stroke-width="1.3" />
<text x="227.6" y="839.2" font-size="10.5" text-anchor="middle" fill="#0a0a0a" >1</text>
<line x1="287.1" y1="823.8" x2="287.1" y2="827.8" stroke="#000" stroke-width="1.3" />
<text x="287.1" y="839.2" font-size="10.5" text-anchor="middle" fill="#0a0a0a" >2</text>
<line x1="346.6" y1="823.8" x2="346.6" y2="827.8" stroke="#000" stroke-width="1.3" />
<text x="346.6" y="839.2" font-size="10.5" text-anchor="middle" fill="#0a0a0a" >3</text>
<line x1="406.0" y1="823.8" x2="406.0" y2="827.8" stroke="#000" stroke-width="1.3" />
<text x="406.0" y="839.2" font-size="10.5" text-anchor="middle" fill="#0a0a0a" >4</text>
<text x="295.5" y="855.3" font-size="11.1" text-anchor="middle" fill="#0a0a0a" >Relative luciferase activity</text>
<rect x="168.8" y="571.9" width="48.1" height="8.5" fill="#56636f" />
<text x="4.7" y="580.1" font-size="10.5" text-anchor="start" fill="#0a0a0a" >LAX1</text>
<text x="72.3" y="576.3" font-size="10.5" text-anchor="start" fill="#0a0a0a" >-</text>
<line x1="212.8" y1="576.1" x2="219.9" y2="576.1" stroke="#000" stroke-width="0.7" />
<line x1="212.8" y1="573.9" x2="212.8" y2="578.3" stroke="#000" stroke-width="0.7" />
<line x1="219.9" y1="573.9" x2="219.9" y2="578.3" stroke="#000" stroke-width="0.7" />
<circle cx="216.3" cy="576.2" r="0.45" fill="#000" />
<circle cx="222.0" cy="576.0" r="0.45" fill="#000" />
<circle cx="216.9" cy="576.2" r="0.45" fill="#000" />
<text transform="translate(225.8,576.1) rotate(90)" font-size="11.3" text-anchor="middle" fill="#000">d</text>
<rect x="168.8" y="584.5" width="57.7" height="8.5" fill="#d0692c" />
<text x="4.7" y="592.7" font-size="10.5" text-anchor="start" fill="#0a0a0a" >LAX1</text>
<text x="72.3" y="589.0" font-size="10.65" text-anchor="start" fill="#0a0a0a" >Gnp4/LAX2</text>
<line x1="219.9" y1="588.7" x2="232.4" y2="588.7" stroke="#000" stroke-width="0.7" />
<line x1="219.9" y1="586.5" x2="219.9" y2="590.9" stroke="#000" stroke-width="0.7" />
<line x1="232.4" y1="586.5" x2="232.4" y2="590.9" stroke="#000" stroke-width="0.7" />
<circle cx="221.2" cy="588.7" r="0.45" fill="#000" />
<circle cx="228.9" cy="589.2" r="0.45" fill="#000" />
<circle cx="219.6" cy="588.4" r="0.45" fill="#000" />
<text transform="translate(237.6,588.7) rotate(90)" font-size="11.3" text-anchor="middle" fill="#000">c</text>
<rect x="168.8" y="597.1" width="74.9" height="8.5" fill="#6b7d25" />
<text x="4.7" y="605.4" font-size="10.5" text-anchor="start" fill="#0a0a0a" >LAX1</text>
<text x="72.3" y="601.6" font-size="10.65" fill="#0a0a0a">Gnp4/LAX2<tspan font-size="6.9" dx="0.6" dy="-6.3">T175,262D</tspan></text>
<line x1="236.6" y1="601.3" x2="247.3" y2="601.3" stroke="#000" stroke-width="0.7" />
<line x1="236.6" y1="599.1" x2="236.6" y2="603.5" stroke="#000" stroke-width="0.7" />
<line x1="247.3" y1="599.1" x2="247.3" y2="603.5" stroke="#000" stroke-width="0.7" />
<circle cx="236.0" cy="601.8" r="0.45" fill="#000" />
<circle cx="245.5" cy="600.5" r="0.45" fill="#000" />
<circle cx="250.0" cy="602.0" r="0.45" fill="#000" />
<text transform="translate(252.4,601.3) rotate(90)" font-size="11.3" text-anchor="middle" fill="#000">b</text>
<line x1="168.2" y1="607.6" x2="293.5" y2="607.6" stroke="#000" stroke-width="0.7" stroke-dasharray="1.2,1.25"/>
<rect x="168.8" y="609.7" width="30.9" height="8.5" fill="#56636f" />
<text x="4.7" y="618.0" font-size="10.5" text-anchor="start" fill="#0a0a0a" >MOG1</text>
<text x="72.3" y="614.1" font-size="10.5" text-anchor="start" fill="#0a0a0a" >-</text>
<line x1="194.4" y1="613.9" x2="203.9" y2="613.9" stroke="#000" stroke-width="0.7" />
<line x1="194.4" y1="611.7" x2="194.4" y2="616.1" stroke="#000" stroke-width="0.7" />
<line x1="203.9" y1="611.7" x2="203.9" y2="616.1" stroke="#000" stroke-width="0.7" />
<circle cx="201.8" cy="614.1" r="0.45" fill="#000" />
<circle cx="194.6" cy="613.1" r="0.45" fill="#000" />
<circle cx="200.0" cy="613.2" r="0.45" fill="#000" />
<text transform="translate(210.1,613.9) rotate(90)" font-size="11.3" text-anchor="middle" fill="#000">d</text>
<rect x="168.8" y="622.3" width="35.7" height="8.5" fill="#d0692c" />
<text x="4.7" y="630.6" font-size="10.5" text-anchor="start" fill="#0a0a0a" >MOG1</text>
<text x="72.3" y="626.8" font-size="10.65" text-anchor="start" fill="#0a0a0a" >Gnp4/LAX2</text>
<line x1="202.7" y1="626.5" x2="206.8" y2="626.5" stroke="#000" stroke-width="0.7" />
<line x1="202.7" y1="624.3" x2="202.7" y2="628.7" stroke="#000" stroke-width="0.7" />
<line x1="206.8" y1="624.3" x2="206.8" y2="628.7" stroke="#000" stroke-width="0.7" />
<circle cx="202.4" cy="626.0" r="0.45" fill="#000" />
<circle cx="201.0" cy="626.4" r="0.45" fill="#000" />
<circle cx="204.7" cy="627.0" r="0.45" fill="#000" />
<text transform="translate(210.1,626.5) rotate(90)" font-size="11.3" text-anchor="middle" fill="#000">c</text>
<rect x="168.8" y="634.9" width="54.1" height="8.5" fill="#6b7d25" />
<text x="4.7" y="643.3" font-size="10.5" text-anchor="start" fill="#0a0a0a" >MOG1</text>
<text x="72.3" y="639.4" font-size="10.65" fill="#0a0a0a">Gnp4/LAX2<tspan font-size="6.9" dx="0.6" dy="-6.3">T175,262D</tspan></text>
<line x1="215.8" y1="639.1" x2="226.5" y2="639.1" stroke="#000" stroke-width="0.7" />
<line x1="215.8" y1="636.9" x2="215.8" y2="641.3" stroke="#000" stroke-width="0.7" />
<line x1="226.5" y1="636.9" x2="226.5" y2="641.3" stroke="#000" stroke-width="0.7" />
<circle cx="221.9" cy="639.3" r="0.45" fill="#000" />
<circle cx="221.6" cy="639.3" r="0.45" fill="#000" />
<circle cx="220.9" cy="638.7" r="0.45" fill="#000" />
<text transform="translate(233.4,639.1) rotate(90)" font-size="11.3" text-anchor="middle" fill="#000">b</text>
<line x1="168.2" y1="645.4" x2="293.5" y2="645.4" stroke="#000" stroke-width="0.7" stroke-dasharray="1.2,1.25"/>
<rect x="168.8" y="647.4" width="48.1" height="8.5" fill="#56636f" />
<text x="4.7" y="655.9" font-size="10.5" text-anchor="start" fill="#0a0a0a" >Ghd2</text>
<text x="72.3" y="651.8" font-size="10.5" text-anchor="start" fill="#0a0a0a" >-</text>
<line x1="212.8" y1="651.6" x2="219.9" y2="651.6" stroke="#000" stroke-width="0.7" />
<line x1="212.8" y1="649.4" x2="212.8" y2="653.8" stroke="#000" stroke-width="0.7" />
<line x1="219.9" y1="649.4" x2="219.9" y2="653.8" stroke="#000" stroke-width="0.7" />
<circle cx="222.9" cy="652.4" r="0.45" fill="#000" />
<circle cx="221.0" cy="652.0" r="0.45" fill="#000" />
<circle cx="214.6" cy="651.2" r="0.45" fill="#000" />
<text transform="translate(225.8,651.6) rotate(90)" font-size="11.3" text-anchor="middle" fill="#000">d</text>
<rect x="168.8" y="660.0" width="57.7" height="8.5" fill="#d0692c" />
<text x="4.7" y="668.5" font-size="10.5" text-anchor="start" fill="#0a0a0a" >Ghd2</text>
<text x="72.3" y="664.5" font-size="10.65" text-anchor="start" fill="#0a0a0a" >Gnp4/LAX2</text>
<line x1="219.9" y1="664.2" x2="232.4" y2="664.2" stroke="#000" stroke-width="0.7" />
<line x1="219.9" y1="662.0" x2="219.9" y2="666.4" stroke="#000" stroke-width="0.7" />
<line x1="232.4" y1="662.0" x2="232.4" y2="666.4" stroke="#000" stroke-width="0.7" />
<circle cx="223.0" cy="663.5" r="0.45" fill="#000" />
<circle cx="231.3" cy="664.1" r="0.45" fill="#000" />
<circle cx="232.7" cy="664.0" r="0.45" fill="#000" />
<text transform="translate(237.6,664.2) rotate(90)" font-size="11.3" text-anchor="middle" fill="#000">c</text>
<rect x="168.8" y="672.6" width="74.9" height="8.5" fill="#6b7d25" />
<text x="4.7" y="681.2" font-size="10.5" text-anchor="start" fill="#0a0a0a" >Ghd2</text>
<text x="72.3" y="677.1" font-size="10.65" fill="#0a0a0a">Gnp4/LAX2<tspan font-size="6.9" dx="0.6" dy="-6.3">T175,262D</tspan></text>
<line x1="236.6" y1="676.8" x2="247.3" y2="676.8" stroke="#000" stroke-width="0.7" />
<line x1="236.6" y1="674.6" x2="236.6" y2="679.0" stroke="#000" stroke-width="0.7" />
<line x1="247.3" y1="674.6" x2="247.3" y2="679.0" stroke="#000" stroke-width="0.7" />
<circle cx="249.6" cy="677.4" r="0.45" fill="#000" />
<circle cx="234.6" cy="676.4" r="0.45" fill="#000" />
<circle cx="248.9" cy="676.8" r="0.45" fill="#000" />
<text transform="translate(252.4,676.8) rotate(90)" font-size="11.3" text-anchor="middle" fill="#000">b</text>
<line x1="168.2" y1="683.1" x2="293.5" y2="683.1" stroke="#000" stroke-width="0.7" stroke-dasharray="1.2,1.25"/>
<rect x="168.8" y="685.2" width="95.7" height="8.5" fill="#56636f" />
<text x="4.7" y="693.8" font-size="10.5" text-anchor="start" fill="#0a0a0a" >An-1</text>
<text x="72.3" y="689.6" font-size="10.5" text-anchor="start" fill="#0a0a0a" >-</text>
<line x1="255.0" y1="689.4" x2="272.8" y2="689.4" stroke="#000" stroke-width="0.7" />
<line x1="255.0" y1="687.2" x2="255.0" y2="691.6" stroke="#000" stroke-width="0.7" />
<line x1="272.8" y1="687.2" x2="272.8" y2="691.6" stroke="#000" stroke-width="0.7" />
<circle cx="275.4" cy="689.2" r="0.45" fill="#000" />
<circle cx="254.7" cy="689.6" r="0.45" fill="#000" />
<circle cx="270.8" cy="689.0" r="0.45" fill="#000" />
<text transform="translate(282.1,689.4) rotate(90)" font-size="11.3" text-anchor="middle" fill="#000">b</text>
<rect x="168.8" y="697.8" width="85.0" height="8.5" fill="#d0692c" />
<text x="4.7" y="706.5" font-size="10.5" text-anchor="start" fill="#0a0a0a" >An-1</text>
<text x="72.3" y="702.5" font-size="10.65" text-anchor="start" fill="#0a0a0a" >Gnp4/LAX2</text>
<line x1="245.5" y1="702.0" x2="260.9" y2="702.0" stroke="#000" stroke-width="0.7" />
<line x1="245.5" y1="699.8" x2="245.5" y2="704.2" stroke="#000" stroke-width="0.7" />
<line x1="260.9" y1="699.8" x2="260.9" y2="704.2" stroke="#000" stroke-width="0.7" />
<circle cx="245.3" cy="701.7" r="0.45" fill="#000" />
<circle cx="263.2" cy="702.4" r="0.45" fill="#000" />
<circle cx="245.9" cy="701.6" r="0.45" fill="#000" />
<text transform="translate(266.0,702.0) rotate(90)" font-size="11.3" text-anchor="middle" fill="#000">c</text>
<rect x="168.8" y="710.4" width="69.0" height="8.5" fill="#6b7d25" />
<text x="4.7" y="719.1" font-size="10.5" text-anchor="start" fill="#0a0a0a" >An-1</text>
<text x="72.3" y="715.4" font-size="10.65" fill="#0a0a0a">Gnp4/LAX2<tspan font-size="6.9" dx="0.6" dy="-6.3">T175,262D</tspan></text>
<line x1="231.2" y1="714.6" x2="243.1" y2="714.6" stroke="#000" stroke-width="0.7" />
<line x1="231.2" y1="712.4" x2="231.2" y2="716.8" stroke="#000" stroke-width="0.7" />
<line x1="243.1" y1="712.4" x2="243.1" y2="716.8" stroke="#000" stroke-width="0.7" />
<circle cx="230.9" cy="713.9" r="0.45" fill="#000" />
<circle cx="242.7" cy="714.1" r="0.45" fill="#000" />
<circle cx="238.7" cy="714.5" r="0.45" fill="#000" />
<text transform="translate(249.0,714.6) rotate(90)" font-size="11.3" text-anchor="middle" fill="#000">d</text>
<line x1="168.2" y1="720.9" x2="293.5" y2="720.9" stroke="#000" stroke-width="0.7" stroke-dasharray="1.2,1.25"/>
<rect x="168.8" y="723.0" width="65.4" height="8.5" fill="#56636f" />
<text x="4.7" y="731.7" font-size="10.5" text-anchor="start" fill="#0a0a0a" >GL6</text>
<text x="72.3" y="728.1" font-size="10.5" text-anchor="start" fill="#0a0a0a" >-</text>
<line x1="218.7" y1="727.2" x2="249.6" y2="727.2" stroke="#000" stroke-width="0.7" />
<line x1="218.7" y1="725.0" x2="218.7" y2="729.4" stroke="#000" stroke-width="0.7" />
<line x1="249.6" y1="725.0" x2="249.6" y2="729.4" stroke="#000" stroke-width="0.7" />
<circle cx="223.6" cy="727.6" r="0.45" fill="#000" />
<circle cx="221.4" cy="727.4" r="0.45" fill="#000" />
<circle cx="220.9" cy="727.1" r="0.45" fill="#000" />
<text transform="translate(255.8,727.2) rotate(90)" font-size="11.3" text-anchor="middle" fill="#000">b</text>
<rect x="168.8" y="735.6" width="44.0" height="8.5" fill="#d0692c" />
<text x="4.7" y="744.4" font-size="10.5" text-anchor="start" fill="#0a0a0a" >GL6</text>
<text x="72.3" y="741.0" font-size="10.65" text-anchor="start" fill="#0a0a0a" >Gnp4LAX2</text>
<line x1="209.2" y1="739.8" x2="215.8" y2="739.8" stroke="#000" stroke-width="0.7" />
<line x1="209.2" y1="737.6" x2="209.2" y2="742.0" stroke="#000" stroke-width="0.7" />
<line x1="215.8" y1="737.6" x2="215.8" y2="742.0" stroke="#000" stroke-width="0.7" />
<circle cx="209.7" cy="739.4" r="0.45" fill="#000" />
<circle cx="218.4" cy="740.3" r="0.45" fill="#000" />
<circle cx="210.7" cy="740.4" r="0.45" fill="#000" />
<text transform="translate(222.0,739.8) rotate(90)" font-size="11.3" text-anchor="middle" fill="#000">c</text>
<rect x="168.8" y="748.2" width="35.7" height="8.5" fill="#6b7d25" />
<text x="4.7" y="757.0" font-size="10.5" text-anchor="start" fill="#0a0a0a" >GL6</text>
<text x="72.3" y="753.9" font-size="10.65" fill="#0a0a0a">Gnp4/LAX2<tspan font-size="6.9" dx="0.6" dy="-6.3">T175,262D</tspan></text>
<line x1="197.3" y1="752.4" x2="208.6" y2="752.4" stroke="#000" stroke-width="0.7" />
<line x1="197.3" y1="750.2" x2="197.3" y2="754.6" stroke="#000" stroke-width="0.7" />
<line x1="208.6" y1="750.2" x2="208.6" y2="754.6" stroke="#000" stroke-width="0.7" />
<circle cx="198.8" cy="752.2" r="0.45" fill="#000" />
<circle cx="209.3" cy="752.6" r="0.45" fill="#000" />
<circle cx="197.0" cy="753.1" r="0.45" fill="#000" />
<text transform="translate(218.6,752.4) rotate(90)" font-size="11.3" text-anchor="middle" fill="#000">d</text>
<line x1="168.2" y1="758.7" x2="293.5" y2="758.7" stroke="#000" stroke-width="0.7" stroke-dasharray="1.2,1.25"/>
<rect x="168.8" y="760.8" width="83.2" height="8.5" fill="#56636f" />
<text x="4.7" y="769.6" font-size="10.5" text-anchor="start" fill="#0a0a0a" >OsMADS15</text>
<text x="72.3" y="766.6" font-size="10.5" text-anchor="start" fill="#0a0a0a" >-</text>
<line x1="246.7" y1="765.0" x2="255.6" y2="765.0" stroke="#000" stroke-width="0.7" />
<line x1="246.7" y1="762.8" x2="246.7" y2="767.2" stroke="#000" stroke-width="0.7" />
<line x1="255.6" y1="762.8" x2="255.6" y2="767.2" stroke="#000" stroke-width="0.7" />
<circle cx="247.6" cy="764.6" r="0.45" fill="#000" />
<circle cx="255.4" cy="764.7" r="0.45" fill="#000" />
<circle cx="248.8" cy="764.3" r="0.45" fill="#000" />
<text transform="translate(266.4,765.0) rotate(90)" font-size="11.3" text-anchor="middle" fill="#000">b</text>
<rect x="168.8" y="773.3" width="68.4" height="8.5" fill="#d0692c" />
<text x="4.7" y="782.7" font-size="10.5" text-anchor="start" fill="#0a0a0a" >OsMADS15</text>
<text x="72.3" y="779.5" font-size="10.65" text-anchor="start" fill="#0a0a0a" >Gnp4/LAX2</text>
<line x1="228.2" y1="777.5" x2="243.7" y2="777.5" stroke="#000" stroke-width="0.7" />
<line x1="228.2" y1="775.3" x2="228.2" y2="779.7" stroke="#000" stroke-width="0.7" />
<line x1="243.7" y1="775.3" x2="243.7" y2="779.7" stroke="#000" stroke-width="0.7" />
<circle cx="228.1" cy="777.7" r="0.45" fill="#000" />
<circle cx="231.2" cy="777.7" r="0.45" fill="#000" />
<circle cx="233.8" cy="777.5" r="0.45" fill="#000" />
<text transform="translate(247.4,777.5) rotate(90)" font-size="11.3" text-anchor="middle" fill="#000">c</text>
<rect x="168.8" y="785.9" width="54.7" height="8.5" fill="#6b7d25" />
<text x="4.7" y="795.7" font-size="10.5" text-anchor="start" fill="#0a0a0a" >OsMADS15</text>
<text x="72.3" y="792.3" font-size="10.65" fill="#0a0a0a">Gnp4LAX2<tspan font-size="6.9" dx="0.6" dy="-6.3">T175,262D</tspan></text>
<line x1="217.5" y1="790.1" x2="229.4" y2="790.1" stroke="#000" stroke-width="0.7" />
<line x1="217.5" y1="787.9" x2="217.5" y2="792.3" stroke="#000" stroke-width="0.7" />
<line x1="229.4" y1="787.9" x2="229.4" y2="792.3" stroke="#000" stroke-width="0.7" />
<circle cx="231.7" cy="790.1" r="0.45" fill="#000" />
<circle cx="225.2" cy="790.7" r="0.45" fill="#000" />
<circle cx="218.6" cy="789.6" r="0.45" fill="#000" />
<text transform="translate(235.5,790.1) rotate(90)" font-size="11.3" text-anchor="middle" fill="#000">d</text>
<line x1="168.2" y1="796.4" x2="293.5" y2="796.4" stroke="#000" stroke-width="0.7" stroke-dasharray="1.2,1.25"/>
<rect x="168.8" y="798.5" width="199.2" height="8.5" fill="#8fb0dc" />
<text x="4.7" y="809.7" font-size="12" text-anchor="start" fill="#0a0a0a" >VP16</text>
<text x="72.3" y="805.1" font-size="10.5" text-anchor="start" fill="#0a0a0a" >-</text>
<line x1="338.2" y1="802.7" x2="396.5" y2="802.7" stroke="#000" stroke-width="0.7" />
<line x1="338.2" y1="800.5" x2="338.2" y2="804.9" stroke="#000" stroke-width="0.7" />
<line x1="396.5" y1="800.5" x2="396.5" y2="804.9" stroke="#000" stroke-width="0.7" />
<circle cx="393.7" cy="803.2" r="0.45" fill="#000" />
<circle cx="352.0" cy="802.2" r="0.45" fill="#000" />
<circle cx="383.0" cy="803.4" r="0.45" fill="#000" />
<text transform="translate(407.0,802.7) rotate(90)" font-size="11.3" text-anchor="middle" fill="#000">a</text>
<rect x="168.8" y="811.1" width="19.0" height="8.5" fill="#1a9fc2" />
<text x="4.7" y="823.8" font-size="12" text-anchor="start" fill="#0a0a0a" >Empty</text>
<text x="72.3" y="817.3" font-size="10.5" text-anchor="start" fill="#0a0a0a" >-</text>
<line x1="183.1" y1="815.3" x2="192.0" y2="815.3" stroke="#000" stroke-width="0.7" />
<line x1="183.1" y1="813.1" x2="183.1" y2="817.5" stroke="#000" stroke-width="0.7" />
<line x1="192.0" y1="813.1" x2="192.0" y2="817.5" stroke="#000" stroke-width="0.7" />
<circle cx="183.8" cy="816.0" r="0.45" fill="#000" />
<circle cx="193.3" cy="815.5" r="0.45" fill="#000" />
<circle cx="186.9" cy="814.7" r="0.45" fill="#000" />
<text transform="translate(201.6,815.3) rotate(90)" font-size="11.3" text-anchor="middle" fill="#000">e</text>
<circle cx="314.5" cy="802.6" r="0.50" fill="#000" />
<circle cx="402.0" cy="802.6" r="0.50" fill="#000" />
<text x="464.8" y="459.9" font-size="21" text-anchor="start" fill="#000" >g</text>
<rect x="478.8" y="459.6" width="204.4" height="81.2" fill="#060606" />
<rect x="479.2" y="550.2" width="205.8" height="50.9" fill="#060606" />
<path d="M505.3,541.2 Q505.5,513.6 504.6,486.1" fill="none" stroke="#8f7c2e" stroke-width="0.8"/>
<path d="M504.6,486.1 Q504.2,473.9 503.0,461.8" fill="none" stroke="#cfa23a" stroke-width="1.25" stroke-linecap="round" stroke-dasharray="2.6,0.5"/>
<path d="M505.3,487.6 Q512.4,482.3 519.0,475.5" fill="none" stroke="#9a7a28" stroke-width="0.55"/>
<path d="M509.5,484.3 Q515.8,479.3 519.0,475.5" fill="none" stroke="#cfa636" stroke-width="1.4" stroke-dasharray="2.8,0.3"/>
<path d="M505.6,492.2 Q512.7,488.4 519.3,483.0" fill="none" stroke="#9a7a28" stroke-width="0.55"/>
<path d="M509.8,489.8 Q516.1,486.1 519.3,483.0" fill="none" stroke="#d8b244" stroke-width="1.4" stroke-dasharray="2.8,0.3"/>
<path d="M506.5,497.8 Q514.5,495.2 522.0,491.1" fill="none" stroke="#9a7a28" stroke-width="0.55"/>
<path d="M511.3,496.1 Q518.4,493.6 522.0,491.1" fill="none" stroke="#d8b244" stroke-width="1.4" stroke-dasharray="2.8,0.3"/>
<path d="M506.5,504.3 Q514.9,500.2 522.8,494.4" fill="none" stroke="#9a7a28" stroke-width="0.55"/>
<path d="M511.5,501.7 Q518.9,497.7 522.8,494.4" fill="none" stroke="#b38420" stroke-width="1.4" stroke-dasharray="2.8,0.3"/>
<path d="M506.1,514.2 Q516.2,510.0 525.8,504.3" fill="none" stroke="#9a7a28" stroke-width="0.55"/>
<path d="M512.1,511.5 Q521.1,507.6 525.8,504.3" fill="none" stroke="#d8b244" stroke-width="1.4" stroke-dasharray="2.8,0.3"/>
<path d="M506.1,522.5 Q514.3,521.0 522.0,518.0" fill="none" stroke="#9a7a28" stroke-width="0.55"/>
<path d="M511.0,521.5 Q518.2,519.9 522.0,518.0" fill="none" stroke="#cfa636" stroke-width="1.4" stroke-dasharray="2.8,0.3"/>
<path d="M506.5,531.2 Q514.1,527.6 521.3,522.5" fill="none" stroke="#9a7a28" stroke-width="0.55"/>
<path d="M511.0,528.9 Q517.8,525.5 521.3,522.5" fill="none" stroke="#d8b244" stroke-width="1.4" stroke-dasharray="2.8,0.3"/>
<path d="M503.8,483.8 Q497.2,479.3 490.9,473.2" fill="none" stroke="#9a7a28" stroke-width="0.55"/>
<path d="M499.9,481.0 Q493.9,476.6 490.9,473.2" fill="none" stroke="#c49c2e" stroke-width="1.4" stroke-dasharray="2.8,0.3"/>
<path d="M504.1,493.7 Q494.7,491.4 485.6,487.6" fill="none" stroke="#9a7a28" stroke-width="0.55"/>
<path d="M498.5,492.2 Q490.0,489.9 485.6,487.6" fill="none" stroke="#cfa636" stroke-width="1.4" stroke-dasharray="2.8,0.3"/>
<path d="M505.0,504.3 Q495.5,500.2 486.3,494.4" fill="none" stroke="#9a7a28" stroke-width="0.55"/>
<path d="M499.3,501.7 Q490.8,497.7 486.3,494.4" fill="none" stroke="#c49c2e" stroke-width="1.4" stroke-dasharray="2.8,0.3"/>
<path d="M505.3,515.4 Q499.4,511.8 493.9,506.6" fill="none" stroke="#9a7a28" stroke-width="0.55"/>
<path d="M501.8,513.1 Q496.6,509.6 493.9,506.6" fill="none" stroke="#c49c2e" stroke-width="1.4" stroke-dasharray="2.8,0.3"/>
<path d="M505.6,521.8 Q495.4,522.0 485.6,520.5" fill="none" stroke="#9a7a28" stroke-width="0.55"/>
<path d="M499.5,521.7 Q490.4,521.7 485.6,520.5" fill="none" stroke="#cfa636" stroke-width="1.4" stroke-dasharray="2.8,0.3"/>
<path d="M554.7,541.2 Q553.4,514.8 550.9,488.4" fill="none" stroke="#8f7c2e" stroke-width="0.8"/>
<path d="M550.9,488.4 Q550.5,478.1 549.4,467.9" fill="none" stroke="#cfa23a" stroke-width="1.25" stroke-linecap="round" stroke-dasharray="2.6,0.5"/>
<path d="M550.9,488.1 Q558.8,482.2 566.4,474.7" fill="none" stroke="#9a7a28" stroke-width="0.55"/>
<path d="M555.6,484.4 Q562.7,478.8 566.4,474.7" fill="none" stroke="#c2962a" stroke-width="1.4" stroke-dasharray="2.8,0.3"/>
<path d="M553.5,502.3 Q563.0,496.9 572.1,489.9" fill="none" stroke="#9a7a28" stroke-width="0.55"/>
<path d="M559.1,498.9 Q567.7,493.8 572.1,489.9" fill="none" stroke="#c2962a" stroke-width="1.4" stroke-dasharray="2.8,0.3"/>
<path d="M554.2,510.8 Q560.7,505.0 566.8,497.5" fill="none" stroke="#9a7a28" stroke-width="0.55"/>
<path d="M558.1,507.2 Q563.9,501.6 566.8,497.5" fill="none" stroke="#b38420" stroke-width="1.4" stroke-dasharray="2.8,0.3"/>
<path d="M555.1,523.6 Q561.2,520.8 566.8,516.4" fill="none" stroke="#9a7a28" stroke-width="0.55"/>
<path d="M558.7,521.8 Q564.1,519.0 566.8,516.4" fill="none" stroke="#c49c2e" stroke-width="1.4" stroke-dasharray="2.8,0.3"/>
<path d="M555.4,531.2 Q561.3,527.3 566.8,521.8" fill="none" stroke="#9a7a28" stroke-width="0.55"/>
<path d="M558.9,528.7 Q564.2,524.9 566.8,521.8" fill="none" stroke="#d8b244" stroke-width="1.4" stroke-dasharray="2.8,0.3"/>
<path d="M550.9,489.6 Q541.7,485.6 533.0,480.0" fill="none" stroke="#9a7a28" stroke-width="0.55"/>
<path d="M545.4,487.0 Q537.2,483.2 533.0,480.0" fill="none" stroke="#c2962a" stroke-width="1.4" stroke-dasharray="2.8,0.3"/>
<path d="M551.9,497.8 Q544.0,493.1 536.4,486.8" fill="none" stroke="#9a7a28" stroke-width="0.55"/>
<path d="M547.2,494.8 Q540.1,490.4 536.4,486.8" fill="none" stroke="#cfa636" stroke-width="1.4" stroke-dasharray="2.8,0.3"/>
<path d="M552.7,506.9 Q544.6,503.4 536.9,498.2" fill="none" stroke="#9a7a28" stroke-width="0.55"/>
<path d="M547.9,504.6 Q540.7,501.2 536.9,498.2" fill="none" stroke="#cfa636" stroke-width="1.4" stroke-dasharray="2.8,0.3"/>
<path d="M553.3,512.3 Q545.8,509.1 538.7,504.3" fill="none" stroke="#9a7a28" stroke-width="0.55"/>
<path d="M548.8,510.3 Q542.2,507.1 538.7,504.3" fill="none" stroke="#cfa636" stroke-width="1.4" stroke-dasharray="2.8,0.3"/>
<path d="M553.8,516.9 Q544.1,515.0 534.9,511.4" fill="none" stroke="#9a7a28" stroke-width="0.55"/>
<path d="M548.0,515.6 Q539.4,513.6 534.9,511.4" fill="none" stroke="#c2962a" stroke-width="1.4" stroke-dasharray="2.8,0.3"/>
<path d="M602.7,541.5 Q602.1,514.3 600.4,487.1" fill="none" stroke="#8f7c2e" stroke-width="0.8"/>
<path d="M600.4,487.1 Q600.6,477.5 599.9,468.0" fill="none" stroke="#cfa23a" stroke-width="1.25" stroke-linecap="round" stroke-dasharray="2.6,0.5"/>
<path d="M601.8,499.1 Q609.3,493.1 616.5,485.6" fill="none" stroke="#9a7a28" stroke-width="0.55"/>
<path d="M606.3,495.4 Q613.0,489.8 616.5,485.6" fill="none" stroke="#d8b244" stroke-width="1.4" stroke-dasharray="2.8,0.3"/>
<path d="M602.5,510.4 Q610.8,504.2 618.6,496.3" fill="none" stroke="#9a7a28" stroke-width="0.55"/>
<path d="M607.4,506.5 Q614.8,500.6 618.6,496.3" fill="none" stroke="#d8b244" stroke-width="1.4" stroke-dasharray="2.8,0.3"/>
<path d="M603.0,519.6 Q612.4,514.7 621.4,508.3" fill="none" stroke="#9a7a28" stroke-width="0.55"/>
<path d="M608.6,516.6 Q617.0,511.9 621.4,508.3" fill="none" stroke="#c49c2e" stroke-width="1.4" stroke-dasharray="2.8,0.3"/>
<path d="M603.3,521.2 Q611.9,518.3 620.2,513.9" fill="none" stroke="#9a7a28" stroke-width="0.55"/>
<path d="M608.4,519.3 Q616.1,516.5 620.2,513.9" fill="none" stroke="#d8b244" stroke-width="1.4" stroke-dasharray="2.8,0.3"/>
<path d="M603.0,533.4 Q609.2,531.8 614.9,528.5" fill="none" stroke="#9a7a28" stroke-width="0.55"/>
<path d="M606.7,532.3 Q612.2,530.5 614.9,528.5" fill="none" stroke="#c2962a" stroke-width="1.4" stroke-dasharray="2.8,0.3"/>
<path d="M600.4,486.8 Q596.1,480.9 592.3,473.3" fill="none" stroke="#9a7a28" stroke-width="0.55"/>
<path d="M597.9,483.1 Q594.1,477.5 592.3,473.3" fill="none" stroke="#b38420" stroke-width="1.4" stroke-dasharray="2.8,0.3"/>
<path d="M601.0,496.0 Q593.5,491.6 586.4,485.6" fill="none" stroke="#9a7a28" stroke-width="0.55"/>
<path d="M596.5,493.2 Q589.9,489.0 586.4,485.6" fill="none" stroke="#c49c2e" stroke-width="1.4" stroke-dasharray="2.8,0.3"/>
<path d="M601.8,507.4 Q591.3,501.9 581.2,494.8" fill="none" stroke="#9a7a28" stroke-width="0.55"/>
<path d="M595.5,503.9 Q586.2,498.7 581.2,494.8" fill="none" stroke="#d8b244" stroke-width="1.4" stroke-dasharray="2.8,0.3"/>
<path d="M602.4,519.0 Q591.0,514.2 580.0,507.8" fill="none" stroke="#9a7a28" stroke-width="0.55"/>
<path d="M595.6,516.0 Q585.4,511.4 580.0,507.8" fill="none" stroke="#c2962a" stroke-width="1.4" stroke-dasharray="2.8,0.3"/>
<path d="M602.5,524.2 Q595.3,521.0 588.4,516.2" fill="none" stroke="#9a7a28" stroke-width="0.55"/>
<path d="M598.2,522.2 Q591.8,519.0 588.4,516.2" fill="none" stroke="#b38420" stroke-width="1.4" stroke-dasharray="2.8,0.3"/>
<path d="M656.6,541.5 Q656.0,513.9 654.2,486.4" fill="none" stroke="#8f7c2e" stroke-width="0.8"/>
<path d="M654.2,486.4 Q654.5,477.2 654.0,468.0" fill="none" stroke="#cfa23a" stroke-width="1.25" stroke-linecap="round" stroke-dasharray="2.6,0.5"/>
<path d="M654.3,487.4 Q658.8,483.5 662.8,477.9" fill="none" stroke="#9a7a28" stroke-width="0.55"/>
<path d="M657.0,484.9 Q660.9,481.1 662.8,477.9" fill="none" stroke="#c2962a" stroke-width="1.4" stroke-dasharray="2.8,0.3"/>
<path d="M654.8,491.4 Q660.1,488.9 665.1,484.8" fill="none" stroke="#9a7a28" stroke-width="0.55"/>
<path d="M658.0,489.8 Q662.7,487.3 665.1,484.8" fill="none" stroke="#cfa636" stroke-width="1.4" stroke-dasharray="2.8,0.3"/>
<path d="M655.6,501.2 Q664.9,499.6 673.8,496.3" fill="none" stroke="#9a7a28" stroke-width="0.55"/>
<path d="M661.1,500.1 Q669.4,498.3 673.8,496.3" fill="none" stroke="#c2962a" stroke-width="1.4" stroke-dasharray="2.8,0.3"/>
<path d="M656.2,515.9 Q661.2,511.5 665.8,505.5" fill="none" stroke="#9a7a28" stroke-width="0.55"/>
<path d="M659.2,513.1 Q663.6,508.9 665.8,505.5" fill="none" stroke="#c2962a" stroke-width="1.4" stroke-dasharray="2.8,0.3"/>
<path d="M665.8,505.8 Q671.6,506.6 676.9,505.8" fill="none" stroke="#9a7a28" stroke-width="0.55"/>
<path d="M669.2,506.2 Q674.3,506.6 676.9,505.8" fill="none" stroke="#c2962a" stroke-width="1.4" stroke-dasharray="2.8,0.3"/>
<path d="M656.3,519.6 Q664.4,515.3 672.0,509.3" fill="none" stroke="#9a7a28" stroke-width="0.55"/>
<path d="M661.1,516.9 Q668.3,512.7 672.0,509.3" fill="none" stroke="#d8b244" stroke-width="1.4" stroke-dasharray="2.8,0.3"/>
<path d="M656.5,522.7 Q664.8,521.8 672.7,519.3" fill="none" stroke="#9a7a28" stroke-width="0.55"/>
<path d="M661.4,522.0 Q668.9,521.0 672.7,519.3" fill="none" stroke="#cfa636" stroke-width="1.4" stroke-dasharray="2.8,0.3"/>
<path d="M656.6,534.9 Q665.3,532.5 673.5,528.5" fill="none" stroke="#9a7a28" stroke-width="0.55"/>
<path d="M661.8,533.4 Q669.5,530.9 673.5,528.5" fill="none" stroke="#c49c2e" stroke-width="1.4" stroke-dasharray="2.8,0.3"/>
<path d="M654.2,485.9 Q646.4,481.8 639.0,476.1" fill="none" stroke="#9a7a28" stroke-width="0.55"/>
<path d="M649.6,483.3 Q642.6,479.3 639.0,476.1" fill="none" stroke="#b38420" stroke-width="1.4" stroke-dasharray="2.8,0.3"/>
<path d="M654.8,499.1 Q645.6,493.5 636.7,486.4" fill="none" stroke="#9a7a28" stroke-width="0.55"/>
<path d="M649.3,495.6 Q641.0,490.3 636.7,486.4" fill="none" stroke="#d8b244" stroke-width="1.4" stroke-dasharray="2.8,0.3"/>
<path d="M655.4,508.9 Q644.2,503.6 633.3,496.6" fill="none" stroke="#9a7a28" stroke-width="0.55"/>
<path d="M648.7,505.5 Q638.7,500.5 633.3,496.6" fill="none" stroke="#d8b244" stroke-width="1.4" stroke-dasharray="2.8,0.3"/>
<path d="M656.0,517.5 Q646.9,512.3 638.2,505.5" fill="none" stroke="#9a7a28" stroke-width="0.55"/>
<path d="M650.6,514.2 Q642.5,509.3 638.2,505.5" fill="none" stroke="#cfa636" stroke-width="1.4" stroke-dasharray="2.8,0.3"/>
<path d="M656.3,522.7 Q646.5,522.2 637.0,520.1" fill="none" stroke="#9a7a28" stroke-width="0.55"/>
<path d="M650.5,522.2 Q641.6,521.5 637.0,520.1" fill="none" stroke="#cfa636" stroke-width="1.4" stroke-dasharray="2.8,0.3"/>
<rect x="676.6" y="529.0" width="2.0" height="8.6" fill="#fff" />
<ellipse cx="522.4" cy="577.3" rx="2.4" ry="1.3" fill="#b38420" transform="rotate(89 522.4 577.3)"/>
<ellipse cx="521.7" cy="582.6" rx="2.4" ry="1.3" fill="#c2962a" transform="rotate(99 521.7 582.6)"/>
<ellipse cx="519.7" cy="587.4" rx="2.4" ry="1.3" fill="#d8b244" transform="rotate(117 519.7 587.4)"/>
<ellipse cx="516.5" cy="591.7" rx="2.4" ry="1.3" fill="#c2962a" transform="rotate(141 516.5 591.7)"/>
<ellipse cx="512.2" cy="594.9" rx="2.4" ry="1.3" fill="#cfa636" transform="rotate(150 512.2 594.9)"/>
<ellipse cx="507.4" cy="596.9" rx="2.4" ry="1.3" fill="#c49c2e" transform="rotate(171 507.4 596.9)"/>
<ellipse cx="502.1" cy="597.6" rx="2.4" ry="1.3" fill="#c49c2e" transform="rotate(189 502.1 597.6)"/>
<ellipse cx="496.8" cy="596.9" rx="2.4" ry="1.3" fill="#c49c2e" transform="rotate(201 496.8 596.9)"/>
<ellipse cx="492.0" cy="594.9" rx="2.4" ry="1.3" fill="#cfa636" transform="rotate(198 492.0 594.9)"/>
<ellipse cx="487.7" cy="591.7" rx="2.4" ry="1.3" fill="#cfa636" transform="rotate(226 487.7 591.7)"/>
<ellipse cx="484.5" cy="587.4" rx="2.4" ry="1.3" fill="#cfa636" transform="rotate(249 484.5 587.4)"/>
<ellipse cx="482.5" cy="582.6" rx="2.4" ry="1.3" fill="#c49c2e" transform="rotate(257 482.5 582.6)"/>
<ellipse cx="481.8" cy="577.3" rx="2.4" ry="1.3" fill="#b38420" transform="rotate(279 481.8 577.3)"/>
<ellipse cx="482.5" cy="572.0" rx="2.4" ry="1.3" fill="#cfa636" transform="rotate(289 482.5 572.0)"/>
<ellipse cx="484.5" cy="567.1" rx="2.4" ry="1.3" fill="#b38420" transform="rotate(293 484.5 567.1)"/>
<ellipse cx="487.7" cy="562.9" rx="2.4" ry="1.3" fill="#d8b244" transform="rotate(320 487.7 562.9)"/>
<ellipse cx="491.9" cy="559.7" rx="2.4" ry="1.3" fill="#d8b244" transform="rotate(319 491.9 559.7)"/>
<ellipse cx="496.8" cy="557.7" rx="2.4" ry="1.3" fill="#cfa636" transform="rotate(342 496.8 557.7)"/>
<ellipse cx="502.1" cy="557.0" rx="2.4" ry="1.3" fill="#cfa636" transform="rotate(357 502.1 557.0)"/>
<ellipse cx="507.4" cy="557.7" rx="2.4" ry="1.3" fill="#c49c2e" transform="rotate(382 507.4 557.7)"/>
<ellipse cx="512.2" cy="559.7" rx="2.4" ry="1.3" fill="#b38420" transform="rotate(386 512.2 559.7)"/>
<ellipse cx="516.5" cy="562.9" rx="2.4" ry="1.3" fill="#cfa636" transform="rotate(408 516.5 562.9)"/>
<ellipse cx="519.7" cy="567.1" rx="2.4" ry="1.3" fill="#c49c2e" transform="rotate(432 519.7 567.1)"/>
<ellipse cx="521.7" cy="572.0" rx="2.4" ry="1.3" fill="#d8b244" transform="rotate(433 521.7 572.0)"/>
<ellipse cx="495.9" cy="566.8" rx="2.5" ry="1.35" fill="#c2962a" transform="rotate(72 495.9 566.8)"/>
<ellipse cx="504.2" cy="572.9" rx="2.5" ry="1.35" fill="#c49c2e" transform="rotate(110 504.2 572.9)"/>
<ellipse cx="506.8" cy="591.1" rx="2.5" ry="1.35" fill="#d8b244" transform="rotate(58 506.8 591.1)"/>
<ellipse cx="506.8" cy="563.7" rx="2.5" ry="1.35" fill="#b38420" transform="rotate(110 506.8 563.7)"/>
<ellipse cx="518.1" cy="572.0" rx="2.5" ry="1.35" fill="#d8b244" transform="rotate(152 518.1 572.0)"/>
<ellipse cx="506.8" cy="577.0" rx="2.5" ry="1.35" fill="#c49c2e" transform="rotate(55 506.8 577.0)"/>
<ellipse cx="489.7" cy="572.4" rx="2.5" ry="1.35" fill="#d8b244" transform="rotate(173 489.7 572.4)"/>
<ellipse cx="494.2" cy="584.0" rx="2.5" ry="1.35" fill="#c2962a" transform="rotate(144 494.2 584.0)"/>
<ellipse cx="510.0" cy="587.7" rx="2.5" ry="1.35" fill="#c2962a" transform="rotate(42 510.0 587.7)"/>
<ellipse cx="497.6" cy="594.1" rx="2.5" ry="1.35" fill="#b38420" transform="rotate(38 497.6 594.1)"/>
<ellipse cx="492.1" cy="577.2" rx="2.5" ry="1.35" fill="#d8b244" transform="rotate(128 492.1 577.2)"/>
<ellipse cx="498.4" cy="560.1" rx="2.5" ry="1.35" fill="#cfa636" transform="rotate(98 498.4 560.1)"/>
<ellipse cx="507.2" cy="568.4" rx="2.5" ry="1.35" fill="#c49c2e" transform="rotate(91 507.2 568.4)"/>
<ellipse cx="503.4" cy="560.2" rx="2.5" ry="1.35" fill="#c2962a" transform="rotate(79 503.4 560.2)"/>
<ellipse cx="502.3" cy="584.6" rx="2.5" ry="1.35" fill="#cfa636" transform="rotate(84 502.3 584.6)"/>
<ellipse cx="508.7" cy="573.9" rx="2.5" ry="1.35" fill="#c49c2e" transform="rotate(45 508.7 573.9)"/>
<ellipse cx="495.7" cy="580.4" rx="2.5" ry="1.35" fill="#d8b244" transform="rotate(120 495.7 580.4)"/>
<ellipse cx="514.6" cy="580.2" rx="2.5" ry="1.35" fill="#c2962a" transform="rotate(49 514.6 580.2)"/>
<ellipse cx="494.9" cy="587.7" rx="2.5" ry="1.35" fill="#c49c2e" transform="rotate(80 494.9 587.7)"/>
<ellipse cx="493.5" cy="562.4" rx="2.5" ry="1.35" fill="#c49c2e" transform="rotate(93 493.5 562.4)"/>
<ellipse cx="502.4" cy="590.6" rx="2.5" ry="1.35" fill="#b38420" transform="rotate(63 502.4 590.6)"/>
<ellipse cx="491.6" cy="581.5" rx="2.5" ry="1.35" fill="#d8b244" transform="rotate(29 491.6 581.5)"/>
<ellipse cx="500.3" cy="574.5" rx="2.5" ry="1.35" fill="#b38420" transform="rotate(142 500.3 574.5)"/>
<ellipse cx="511.9" cy="566.9" rx="2.5" ry="1.35" fill="#c2962a" transform="rotate(31 511.9 566.9)"/>
<ellipse cx="506.3" cy="582.8" rx="2.5" ry="1.35" fill="#c2962a" transform="rotate(97 506.3 582.8)"/>
<ellipse cx="512.6" cy="570.8" rx="2.5" ry="1.35" fill="#cfa636" transform="rotate(71 512.6 570.8)"/>
<ellipse cx="491.5" cy="588.8" rx="2.5" ry="1.35" fill="#d8b244" transform="rotate(15 491.5 588.8)"/>
<ellipse cx="485.3" cy="578.9" rx="2.5" ry="1.35" fill="#c49c2e" transform="rotate(4 485.3 578.9)"/>
<ellipse cx="496.5" cy="573.8" rx="2.5" ry="1.35" fill="#cfa636" transform="rotate(105 496.5 573.8)"/>
<ellipse cx="500.1" cy="566.5" rx="2.5" ry="1.35" fill="#c49c2e" transform="rotate(17 500.1 566.5)"/>
<ellipse cx="502.1" cy="594.7" rx="2.5" ry="1.35" fill="#d8b244" transform="rotate(1 502.1 594.7)"/>
<ellipse cx="489.2" cy="584.3" rx="2.5" ry="1.35" fill="#cfa636" transform="rotate(9 489.2 584.3)"/>
<ellipse cx="518.2" cy="583.3" rx="2.5" ry="1.35" fill="#b38420" transform="rotate(13 518.2 583.3)"/>
<ellipse cx="518.2" cy="576.3" rx="2.5" ry="1.35" fill="#d8b244" transform="rotate(12 518.2 576.3)"/>
<ellipse cx="502.5" cy="569.6" rx="2.5" ry="1.35" fill="#cfa636" transform="rotate(135 502.5 569.6)"/>
<ellipse cx="494.5" cy="570.5" rx="2.5" ry="1.35" fill="#c49c2e" transform="rotate(20 494.5 570.5)"/>
<ellipse cx="490.9" cy="565.9" rx="2.5" ry="1.35" fill="#d8b244" transform="rotate(64 490.9 565.9)"/>
<ellipse cx="514.6" cy="575.5" rx="2.5" ry="1.35" fill="#c49c2e" transform="rotate(178 514.6 575.5)"/>
<ellipse cx="498.1" cy="584.8" rx="2.5" ry="1.35" fill="#cfa636" transform="rotate(50 498.1 584.8)"/>
<ellipse cx="487.3" cy="575.0" rx="2.5" ry="1.35" fill="#d8b244" transform="rotate(37 487.3 575.0)"/>
<ellipse cx="485.3" cy="582.8" rx="2.5" ry="1.35" fill="#b38420" transform="rotate(86 485.3 582.8)"/>
<ellipse cx="501.4" cy="578.0" rx="2.5" ry="1.35" fill="#c49c2e" transform="rotate(124 501.4 578.0)"/>
<ellipse cx="499.0" cy="571.1" rx="2.5" ry="1.35" fill="#cfa636" transform="rotate(168 499.0 571.1)"/>
<ellipse cx="510.5" cy="579.0" rx="2.5" ry="1.35" fill="#c49c2e" transform="rotate(91 510.5 579.0)"/>
<ellipse cx="493.9" cy="591.5" rx="2.5" ry="1.35" fill="#c49c2e" transform="rotate(11 493.9 591.5)"/>
<ellipse cx="487.1" cy="569.3" rx="2.5" ry="1.35" fill="#d8b244" transform="rotate(61 487.1 569.3)"/>
<ellipse cx="504.8" cy="587.9" rx="2.5" ry="1.35" fill="#cfa636" transform="rotate(73 504.8 587.9)"/>
<ellipse cx="510.5" cy="591.9" rx="2.5" ry="1.35" fill="#cfa636" transform="rotate(117 510.5 591.9)"/>
<ellipse cx="516.1" cy="568.1" rx="2.5" ry="1.35" fill="#b38420" transform="rotate(119 516.1 568.1)"/>
<ellipse cx="513.9" cy="584.5" rx="2.5" ry="1.35" fill="#d8b244" transform="rotate(90 513.9 584.5)"/>
<ellipse cx="516.4" cy="587.6" rx="2.5" ry="1.35" fill="#b38420" transform="rotate(144 516.4 587.6)"/>
<ellipse cx="498.1" cy="589.7" rx="2.5" ry="1.35" fill="#cfa636" transform="rotate(152 498.1 589.7)"/>
<ellipse cx="501.2" cy="563.1" rx="2.5" ry="1.35" fill="#c49c2e" transform="rotate(50 501.2 563.1)"/>
<ellipse cx="511.2" cy="562.4" rx="2.5" ry="1.35" fill="#d8b244" transform="rotate(141 511.2 562.4)"/>
<ellipse cx="509.7" cy="583.9" rx="2.5" ry="1.35" fill="#b38420" transform="rotate(16 509.7 583.9)"/>
<ellipse cx="500.0" cy="581.3" rx="2.5" ry="1.35" fill="#b38420" transform="rotate(62 500.0 581.3)"/>
<ellipse cx="497.8" cy="577.1" rx="2.5" ry="1.35" fill="#d8b244" transform="rotate(134 497.8 577.1)"/>
<ellipse cx="504.2" cy="566.1" rx="2.5" ry="1.35" fill="#c2962a" transform="rotate(154 504.2 566.1)"/>
<ellipse cx="514.1" cy="590.3" rx="2.5" ry="1.35" fill="#c2962a" transform="rotate(69 514.1 590.3)"/>
<ellipse cx="497.7" cy="563.5" rx="2.5" ry="1.35" fill="#d8b244" transform="rotate(114 497.7 563.5)"/>
<ellipse cx="519.0" cy="579.8" rx="2.5" ry="1.35" fill="#c49c2e" transform="rotate(89 519.0 579.8)"/>
<ellipse cx="488.8" cy="578.8" rx="2.5" ry="1.35" fill="#c2962a" transform="rotate(140 488.8 578.8)"/>
<ellipse cx="505.7" cy="594.5" rx="2.5" ry="1.35" fill="#b38420" transform="rotate(161 505.7 594.5)"/>
<ellipse cx="487.7" cy="587.5" rx="2.5" ry="1.35" fill="#b38420" transform="rotate(126 487.7 587.5)"/>
<ellipse cx="573.8" cy="579.0" rx="2.4" ry="1.3" fill="#c49c2e" transform="rotate(92 573.8 579.0)"/>
<ellipse cx="573.1" cy="584.1" rx="2.4" ry="1.3" fill="#c49c2e" transform="rotate(108 573.1 584.1)"/>
<ellipse cx="571.0" cy="588.9" rx="2.4" ry="1.3" fill="#c2962a" transform="rotate(109 571.0 588.9)"/>
<ellipse cx="567.8" cy="592.9" rx="2.4" ry="1.3" fill="#b38420" transform="rotate(129 567.8 592.9)"/>
<ellipse cx="563.5" cy="595.9" rx="2.4" ry="1.3" fill="#cfa636" transform="rotate(151 563.5 595.9)"/>
<ellipse cx="558.7" cy="597.6" rx="2.4" ry="1.3" fill="#d8b244" transform="rotate(174 558.7 597.6)"/>
<ellipse cx="553.5" cy="598.0" rx="2.4" ry="1.3" fill="#b38420" transform="rotate(176 553.5 598.0)"/>
<ellipse cx="548.4" cy="596.9" rx="2.4" ry="1.3" fill="#d8b244" transform="rotate(204 548.4 596.9)"/>
<ellipse cx="543.8" cy="594.5" rx="2.4" ry="1.3" fill="#b38420" transform="rotate(222 543.8 594.5)"/>
<ellipse cx="540.1" cy="591.0" rx="2.4" ry="1.3" fill="#c2962a" transform="rotate(241 540.1 591.0)"/>
<ellipse cx="537.4" cy="586.6" rx="2.4" ry="1.3" fill="#cfa636" transform="rotate(239 537.4 586.6)"/>
<ellipse cx="536.0" cy="581.6" rx="2.4" ry="1.3" fill="#d8b244" transform="rotate(272 536.0 581.6)"/>
<ellipse cx="536.0" cy="576.4" rx="2.4" ry="1.3" fill="#b38420" transform="rotate(271 536.0 576.4)"/>
<ellipse cx="537.4" cy="571.4" rx="2.4" ry="1.3" fill="#c2962a" transform="rotate(285 537.4 571.4)"/>
<ellipse cx="540.1" cy="567.0" rx="2.4" ry="1.3" fill="#c49c2e" transform="rotate(321 540.1 567.0)"/>
<ellipse cx="543.8" cy="563.5" rx="2.4" ry="1.3" fill="#c2962a" transform="rotate(332 543.8 563.5)"/>
<ellipse cx="548.4" cy="561.1" rx="2.4" ry="1.3" fill="#c2962a" transform="rotate(341 548.4 561.1)"/>
<ellipse cx="553.5" cy="560.0" rx="2.4" ry="1.3" fill="#c49c2e" transform="rotate(361 553.5 560.0)"/>
<ellipse cx="558.7" cy="560.4" rx="2.4" ry="1.3" fill="#d8b244" transform="rotate(371 558.7 560.4)"/>
<ellipse cx="563.5" cy="562.1" rx="2.4" ry="1.3" fill="#d8b244" transform="rotate(387 563.5 562.1)"/>
<ellipse cx="567.8" cy="565.1" rx="2.4" ry="1.3" fill="#cfa636" transform="rotate(413 567.8 565.1)"/>
<ellipse cx="571.0" cy="569.1" rx="2.4" ry="1.3" fill="#c49c2e" transform="rotate(417 571.0 569.1)"/>
<ellipse cx="573.1" cy="573.9" rx="2.4" ry="1.3" fill="#c2962a" transform="rotate(423 573.1 573.9)"/>
<ellipse cx="546.2" cy="592.9" rx="2.5" ry="1.35" fill="#cfa636" transform="rotate(10 546.2 592.9)"/>
<ellipse cx="551.0" cy="587.8" rx="2.5" ry="1.35" fill="#c2962a" transform="rotate(167 551.0 587.8)"/>
<ellipse cx="567.8" cy="580.1" rx="2.5" ry="1.35" fill="#c49c2e" transform="rotate(146 567.8 580.1)"/>
<ellipse cx="547.2" cy="568.2" rx="2.5" ry="1.35" fill="#c49c2e" transform="rotate(22 547.2 568.2)"/>
<ellipse cx="555.2" cy="564.8" rx="2.5" ry="1.35" fill="#d8b244" transform="rotate(0 555.2 564.8)"/>
<ellipse cx="562.5" cy="588.4" rx="2.5" ry="1.35" fill="#c2962a" transform="rotate(85 562.5 588.4)"/>
<ellipse cx="554.1" cy="578.8" rx="2.5" ry="1.35" fill="#c49c2e" transform="rotate(42 554.1 578.8)"/>
<ellipse cx="554.1" cy="573.2" rx="2.5" ry="1.35" fill="#d8b244" transform="rotate(142 554.1 573.2)"/>
<ellipse cx="557.6" cy="586.4" rx="2.5" ry="1.35" fill="#b38420" transform="rotate(159 557.6 586.4)"/>
<ellipse cx="558.0" cy="593.5" rx="2.5" ry="1.35" fill="#d8b244" transform="rotate(64 558.0 593.5)"/>
<ellipse cx="556.7" cy="570.7" rx="2.5" ry="1.35" fill="#b38420" transform="rotate(129 556.7 570.7)"/>
<ellipse cx="549.7" cy="572.3" rx="2.5" ry="1.35" fill="#b38420" transform="rotate(111 549.7 572.3)"/>
<ellipse cx="543.3" cy="586.7" rx="2.5" ry="1.35" fill="#cfa636" transform="rotate(99 543.3 586.7)"/>
<ellipse cx="553.6" cy="584.5" rx="2.5" ry="1.35" fill="#c49c2e" transform="rotate(135 553.6 584.5)"/>
<ellipse cx="543.1" cy="580.5" rx="2.5" ry="1.35" fill="#cfa636" transform="rotate(138 543.1 580.5)"/>
<ellipse cx="547.8" cy="580.8" rx="2.5" ry="1.35" fill="#cfa636" transform="rotate(101 547.8 580.8)"/>
<ellipse cx="562.4" cy="593.6" rx="2.5" ry="1.35" fill="#cfa636" transform="rotate(74 562.4 593.6)"/>
<ellipse cx="539.4" cy="582.0" rx="2.5" ry="1.35" fill="#d8b244" transform="rotate(114 539.4 582.0)"/>
<ellipse cx="565.1" cy="577.6" rx="2.5" ry="1.35" fill="#c2962a" transform="rotate(38 565.1 577.6)"/>
<ellipse cx="563.4" cy="581.9" rx="2.5" ry="1.35" fill="#c2962a" transform="rotate(134 563.4 581.9)"/>
<ellipse cx="550.9" cy="594.5" rx="2.5" ry="1.35" fill="#c49c2e" transform="rotate(94 550.9 594.5)"/>
<ellipse cx="540.8" cy="576.3" rx="2.5" ry="1.35" fill="#cfa636" transform="rotate(154 540.8 576.3)"/>
<ellipse cx="560.0" cy="568.8" rx="2.5" ry="1.35" fill="#c49c2e" transform="rotate(86 560.0 568.8)"/>
<ellipse cx="544.0" cy="572.1" rx="2.5" ry="1.35" fill="#b38420" transform="rotate(117 544.0 572.1)"/>
<ellipse cx="568.1" cy="572.6" rx="2.5" ry="1.35" fill="#c49c2e" transform="rotate(174 568.1 572.6)"/>
<ellipse cx="568.3" cy="588.4" rx="2.5" ry="1.35" fill="#c49c2e" transform="rotate(85 568.3 588.4)"/>
<ellipse cx="570.2" cy="576.8" rx="2.5" ry="1.35" fill="#b38420" transform="rotate(119 570.2 576.8)"/>
<ellipse cx="547.3" cy="586.3" rx="2.5" ry="1.35" fill="#d8b244" transform="rotate(153 547.3 586.3)"/>
<ellipse cx="547.5" cy="575.4" rx="2.5" ry="1.35" fill="#c49c2e" transform="rotate(84 547.5 575.4)"/>
<ellipse cx="554.2" cy="592.7" rx="2.5" ry="1.35" fill="#c2962a" transform="rotate(178 554.2 592.7)"/>
<ellipse cx="560.0" cy="572.4" rx="2.5" ry="1.35" fill="#c49c2e" transform="rotate(87 560.0 572.4)"/>
<ellipse cx="558.7" cy="581.8" rx="2.5" ry="1.35" fill="#b38420" transform="rotate(22 558.7 581.8)"/>
<ellipse cx="540.1" cy="571.9" rx="2.5" ry="1.35" fill="#c2962a" transform="rotate(58 540.1 571.9)"/>
<ellipse cx="551.1" cy="566.9" rx="2.5" ry="1.35" fill="#cfa636" transform="rotate(27 551.1 566.9)"/>
<ellipse cx="543.2" cy="568.6" rx="2.5" ry="1.35" fill="#d8b244" transform="rotate(14 543.2 568.6)"/>
<ellipse cx="558.3" cy="577.3" rx="2.5" ry="1.35" fill="#c49c2e" transform="rotate(6 558.3 577.3)"/>
<ellipse cx="564.2" cy="573.4" rx="2.5" ry="1.35" fill="#d8b244" transform="rotate(45 564.2 573.4)"/>
<ellipse cx="564.4" cy="567.4" rx="2.5" ry="1.35" fill="#d8b244" transform="rotate(139 564.4 567.4)"/>
<ellipse cx="567.1" cy="583.7" rx="2.5" ry="1.35" fill="#c2962a" transform="rotate(12 567.1 583.7)"/>
<ellipse cx="567.6" cy="568.9" rx="2.5" ry="1.35" fill="#d8b244" transform="rotate(54 567.6 568.9)"/>
<ellipse cx="559.9" cy="564.7" rx="2.5" ry="1.35" fill="#cfa636" transform="rotate(156 559.9 564.7)"/>
<ellipse cx="548.7" cy="563.9" rx="2.5" ry="1.35" fill="#cfa636" transform="rotate(105 548.7 563.9)"/>
<ellipse cx="550.9" cy="577.1" rx="2.5" ry="1.35" fill="#d8b244" transform="rotate(151 550.9 577.1)"/>
<ellipse cx="550.1" cy="583.8" rx="2.5" ry="1.35" fill="#d8b244" transform="rotate(74 550.1 583.8)"/>
<ellipse cx="565.4" cy="591.2" rx="2.5" ry="1.35" fill="#b38420" transform="rotate(65 565.4 591.2)"/>
<ellipse cx="555.1" cy="589.1" rx="2.5" ry="1.35" fill="#d8b244" transform="rotate(82 555.1 589.1)"/>
<ellipse cx="558.9" cy="589.8" rx="2.5" ry="1.35" fill="#c49c2e" transform="rotate(42 558.9 589.8)"/>
<ellipse cx="570.7" cy="582.8" rx="2.5" ry="1.35" fill="#b38420" transform="rotate(31 570.7 582.8)"/>
<ellipse cx="549.5" cy="591.1" rx="2.5" ry="1.35" fill="#c2962a" transform="rotate(111 549.5 591.1)"/>
<ellipse cx="543.2" cy="590.5" rx="2.5" ry="1.35" fill="#b38420" transform="rotate(40 543.2 590.5)"/>
<ellipse cx="561.5" cy="578.9" rx="2.5" ry="1.35" fill="#c2962a" transform="rotate(132 561.5 578.9)"/>
<ellipse cx="560.9" cy="585.1" rx="2.5" ry="1.35" fill="#c2962a" transform="rotate(3 560.9 585.1)"/>
<ellipse cx="539.8" cy="585.8" rx="2.5" ry="1.35" fill="#c49c2e" transform="rotate(81 539.8 585.8)"/>
<ellipse cx="552.1" cy="562.8" rx="2.5" ry="1.35" fill="#c49c2e" transform="rotate(122 552.1 562.8)"/>
<ellipse cx="544.2" cy="577.0" rx="2.5" ry="1.35" fill="#c49c2e" transform="rotate(176 544.2 577.0)"/>
<ellipse cx="629.5" cy="575.6" rx="2.4" ry="1.3" fill="#cfa636" transform="rotate(93 629.5 575.6)"/>
<ellipse cx="628.9" cy="580.8" rx="2.4" ry="1.3" fill="#b38420" transform="rotate(95 628.9 580.8)"/>
<ellipse cx="627.0" cy="585.7" rx="2.4" ry="1.3" fill="#d8b244" transform="rotate(112 627.0 585.7)"/>
<ellipse cx="624.0" cy="590.0" rx="2.4" ry="1.3" fill="#d8b244" transform="rotate(143 624.0 590.0)"/>
<ellipse cx="620.1" cy="593.5" rx="2.4" ry="1.3" fill="#cfa636" transform="rotate(143 620.1 593.5)"/>
<ellipse cx="615.5" cy="595.9" rx="2.4" ry="1.3" fill="#c2962a" transform="rotate(152 615.5 595.9)"/>
<ellipse cx="610.4" cy="597.1" rx="2.4" ry="1.3" fill="#c2962a" transform="rotate(161 610.4 597.1)"/>
<ellipse cx="605.2" cy="597.1" rx="2.4" ry="1.3" fill="#c49c2e" transform="rotate(191 605.2 597.1)"/>
<ellipse cx="600.1" cy="595.9" rx="2.4" ry="1.3" fill="#c2962a" transform="rotate(207 600.1 595.9)"/>
<ellipse cx="595.5" cy="593.5" rx="2.4" ry="1.3" fill="#c49c2e" transform="rotate(224 595.5 593.5)"/>
<ellipse cx="591.6" cy="590.0" rx="2.4" ry="1.3" fill="#cfa636" transform="rotate(221 591.6 590.0)"/>
<ellipse cx="588.6" cy="585.7" rx="2.4" ry="1.3" fill="#c49c2e" transform="rotate(243 588.6 585.7)"/>
<ellipse cx="586.7" cy="580.8" rx="2.4" ry="1.3" fill="#c2962a" transform="rotate(253 586.7 580.8)"/>
<ellipse cx="586.1" cy="575.6" rx="2.4" ry="1.3" fill="#c49c2e" transform="rotate(269 586.1 575.6)"/>
<ellipse cx="586.7" cy="570.4" rx="2.4" ry="1.3" fill="#d8b244" transform="rotate(273 586.7 570.4)"/>
<ellipse cx="588.6" cy="565.5" rx="2.4" ry="1.3" fill="#d8b244" transform="rotate(295 588.6 565.5)"/>
<ellipse cx="591.6" cy="561.2" rx="2.4" ry="1.3" fill="#d8b244" transform="rotate(318 591.6 561.2)"/>
<ellipse cx="595.5" cy="557.7" rx="2.4" ry="1.3" fill="#d8b244" transform="rotate(325 595.5 557.7)"/>
<ellipse cx="600.1" cy="555.3" rx="2.4" ry="1.3" fill="#d8b244" transform="rotate(342 600.1 555.3)"/>
<ellipse cx="605.2" cy="554.1" rx="2.4" ry="1.3" fill="#cfa636" transform="rotate(345 605.2 554.1)"/>
<ellipse cx="610.4" cy="554.1" rx="2.4" ry="1.3" fill="#c49c2e" transform="rotate(360 610.4 554.1)"/>
<ellipse cx="615.5" cy="555.3" rx="2.4" ry="1.3" fill="#d8b244" transform="rotate(377 615.5 555.3)"/>
<ellipse cx="620.1" cy="557.7" rx="2.4" ry="1.3" fill="#d8b244" transform="rotate(389 620.1 557.7)"/>
<ellipse cx="624.0" cy="561.2" rx="2.4" ry="1.3" fill="#c49c2e" transform="rotate(402 624.0 561.2)"/>
<ellipse cx="627.0" cy="565.5" rx="2.4" ry="1.3" fill="#c2962a" transform="rotate(412 627.0 565.5)"/>
<ellipse cx="628.9" cy="570.4" rx="2.4" ry="1.3" fill="#c2962a" transform="rotate(430 628.9 570.4)"/>
<ellipse cx="595.6" cy="566.9" rx="2.5" ry="1.35" fill="#b38420" transform="rotate(123 595.6 566.9)"/>
<ellipse cx="609.4" cy="560.6" rx="2.5" ry="1.35" fill="#c2962a" transform="rotate(150 609.4 560.6)"/>
<ellipse cx="607.4" cy="584.5" rx="2.5" ry="1.35" fill="#d8b244" transform="rotate(155 607.4 584.5)"/>
<ellipse cx="596.0" cy="574.6" rx="2.5" ry="1.35" fill="#cfa636" transform="rotate(154 596.0 574.6)"/>
<ellipse cx="602.4" cy="562.2" rx="2.5" ry="1.35" fill="#c2962a" transform="rotate(99 602.4 562.2)"/>
<ellipse cx="608.8" cy="569.5" rx="2.5" ry="1.35" fill="#b38420" transform="rotate(161 608.8 569.5)"/>
<ellipse cx="597.7" cy="580.2" rx="2.5" ry="1.35" fill="#cfa636" transform="rotate(35 597.7 580.2)"/>
<ellipse cx="604.8" cy="590.0" rx="2.5" ry="1.35" fill="#b38420" transform="rotate(73 604.8 590.0)"/>
<ellipse cx="604.1" cy="558.1" rx="2.5" ry="1.35" fill="#d8b244" transform="rotate(45 604.1 558.1)"/>
<ellipse cx="601.8" cy="567.2" rx="2.5" ry="1.35" fill="#cfa636" transform="rotate(0 601.8 567.2)"/>
<ellipse cx="594.0" cy="585.2" rx="2.5" ry="1.35" fill="#cfa636" transform="rotate(177 594.0 585.2)"/>
<ellipse cx="607.5" cy="574.4" rx="2.5" ry="1.35" fill="#cfa636" transform="rotate(94 607.5 574.4)"/>
<ellipse cx="626.6" cy="577.1" rx="2.5" ry="1.35" fill="#c2962a" transform="rotate(56 626.6 577.1)"/>
<ellipse cx="611.0" cy="587.3" rx="2.5" ry="1.35" fill="#c49c2e" transform="rotate(9 611.0 587.3)"/>
<ellipse cx="619.8" cy="571.3" rx="2.5" ry="1.35" fill="#cfa636" transform="rotate(0 619.8 571.3)"/>
<ellipse cx="589.6" cy="570.0" rx="2.5" ry="1.35" fill="#c49c2e" transform="rotate(130 589.6 570.0)"/>
<ellipse cx="623.0" cy="575.0" rx="2.5" ry="1.35" fill="#c49c2e" transform="rotate(23 623.0 575.0)"/>
<ellipse cx="611.3" cy="582.7" rx="2.5" ry="1.35" fill="#c2962a" transform="rotate(135 611.3 582.7)"/>
<ellipse cx="618.3" cy="583.1" rx="2.5" ry="1.35" fill="#cfa636" transform="rotate(110 618.3 583.1)"/>
<ellipse cx="616.7" cy="574.4" rx="2.5" ry="1.35" fill="#d8b244" transform="rotate(5 616.7 574.4)"/>
<ellipse cx="603.6" cy="576.1" rx="2.5" ry="1.35" fill="#c2962a" transform="rotate(147 603.6 576.1)"/>
<ellipse cx="615.2" cy="567.1" rx="2.5" ry="1.35" fill="#d8b244" transform="rotate(115 615.2 567.1)"/>
<ellipse cx="607.3" cy="565.6" rx="2.5" ry="1.35" fill="#cfa636" transform="rotate(171 607.3 565.6)"/>
<ellipse cx="593.1" cy="572.0" rx="2.5" ry="1.35" fill="#d8b244" transform="rotate(9 593.1 572.0)"/>
<ellipse cx="598.3" cy="559.9" rx="2.5" ry="1.35" fill="#d8b244" transform="rotate(143 598.3 559.9)"/>
<ellipse cx="607.0" cy="593.4" rx="2.5" ry="1.35" fill="#cfa636" transform="rotate(172 607.0 593.4)"/>
<ellipse cx="618.3" cy="588.4" rx="2.5" ry="1.35" fill="#d8b244" transform="rotate(131 618.3 588.4)"/>
<ellipse cx="612.5" cy="570.6" rx="2.5" ry="1.35" fill="#c2962a" transform="rotate(129 612.5 570.6)"/>
<ellipse cx="608.6" cy="579.2" rx="2.5" ry="1.35" fill="#c49c2e" transform="rotate(65 608.6 579.2)"/>
<ellipse cx="624.3" cy="584.4" rx="2.5" ry="1.35" fill="#d8b244" transform="rotate(119 624.3 584.4)"/>
<ellipse cx="605.1" cy="568.4" rx="2.5" ry="1.35" fill="#c49c2e" transform="rotate(35 605.1 568.4)"/>
<ellipse cx="600.0" cy="588.0" rx="2.5" ry="1.35" fill="#c2962a" transform="rotate(125 600.0 588.0)"/>
<ellipse cx="598.5" cy="569.4" rx="2.5" ry="1.35" fill="#c49c2e" transform="rotate(57 598.5 569.4)"/>
<ellipse cx="590.2" cy="580.9" rx="2.5" ry="1.35" fill="#cfa636" transform="rotate(135 590.2 580.9)"/>
<ellipse cx="616.6" cy="559.6" rx="2.5" ry="1.35" fill="#d8b244" transform="rotate(12 616.6 559.6)"/>
<ellipse cx="602.8" cy="581.3" rx="2.5" ry="1.35" fill="#c49c2e" transform="rotate(7 602.8 581.3)"/>
<ellipse cx="610.5" cy="557.1" rx="2.5" ry="1.35" fill="#c2962a" transform="rotate(27 610.5 557.1)"/>
<ellipse cx="610.7" cy="593.4" rx="2.5" ry="1.35" fill="#d8b244" transform="rotate(144 610.7 593.4)"/>
<ellipse cx="626.8" cy="573.3" rx="2.5" ry="1.35" fill="#b38420" transform="rotate(81 626.8 573.3)"/>
<ellipse cx="613.7" cy="590.2" rx="2.5" ry="1.35" fill="#cfa636" transform="rotate(158 613.7 590.2)"/>
<ellipse cx="611.3" cy="576.8" rx="2.5" ry="1.35" fill="#cfa636" transform="rotate(137 611.3 576.8)"/>
<ellipse cx="590.9" cy="575.1" rx="2.5" ry="1.35" fill="#b38420" transform="rotate(169 590.9 575.1)"/>
<ellipse cx="600.8" cy="591.5" rx="2.5" ry="1.35" fill="#cfa636" transform="rotate(98 600.8 591.5)"/>
<ellipse cx="623.5" cy="565.0" rx="2.5" ry="1.35" fill="#c2962a" transform="rotate(63 623.5 565.0)"/>
<ellipse cx="613.5" cy="562.9" rx="2.5" ry="1.35" fill="#cfa636" transform="rotate(50 613.5 562.9)"/>
<ellipse cx="599.2" cy="576.0" rx="2.5" ry="1.35" fill="#c2962a" transform="rotate(94 599.2 576.0)"/>
<ellipse cx="603.2" cy="586.3" rx="2.5" ry="1.35" fill="#c2962a" transform="rotate(143 603.2 586.3)"/>
<ellipse cx="594.5" cy="562.7" rx="2.5" ry="1.35" fill="#c49c2e" transform="rotate(109 594.5 562.7)"/>
<ellipse cx="604.5" cy="572.4" rx="2.5" ry="1.35" fill="#c49c2e" transform="rotate(125 604.5 572.4)"/>
<ellipse cx="615.1" cy="580.3" rx="2.5" ry="1.35" fill="#c49c2e" transform="rotate(126 615.1 580.3)"/>
<ellipse cx="597.5" cy="584.6" rx="2.5" ry="1.35" fill="#c2962a" transform="rotate(24 597.5 584.6)"/>
<ellipse cx="591.4" cy="566.2" rx="2.5" ry="1.35" fill="#d8b244" transform="rotate(120 591.4 566.2)"/>
<ellipse cx="618.8" cy="578.3" rx="2.5" ry="1.35" fill="#c49c2e" transform="rotate(164 618.8 578.3)"/>
<ellipse cx="622.6" cy="578.5" rx="2.5" ry="1.35" fill="#cfa636" transform="rotate(128 622.6 578.5)"/>
<ellipse cx="625.6" cy="569.2" rx="2.5" ry="1.35" fill="#b38420" transform="rotate(4 625.6 569.2)"/>
<ellipse cx="619.6" cy="565.6" rx="2.5" ry="1.35" fill="#d8b244" transform="rotate(9 619.6 565.6)"/>
<ellipse cx="593.0" cy="578.0" rx="2.5" ry="1.35" fill="#c49c2e" transform="rotate(71 593.0 578.0)"/>
<ellipse cx="614.9" cy="585.9" rx="2.5" ry="1.35" fill="#b38420" transform="rotate(10 614.9 585.9)"/>
<ellipse cx="620.9" cy="561.8" rx="2.5" ry="1.35" fill="#d8b244" transform="rotate(146 620.9 561.8)"/>
<ellipse cx="598.5" cy="563.9" rx="2.5" ry="1.35" fill="#c2962a" transform="rotate(136 598.5 563.9)"/>
<ellipse cx="596.6" cy="590.5" rx="2.5" ry="1.35" fill="#c2962a" transform="rotate(99 596.6 590.5)"/>
<ellipse cx="611.0" cy="566.1" rx="2.5" ry="1.35" fill="#c49c2e" transform="rotate(79 611.0 566.1)"/>
<ellipse cx="620.9" cy="585.7" rx="2.5" ry="1.35" fill="#c49c2e" transform="rotate(74 620.9 585.7)"/>
<ellipse cx="606.0" cy="561.9" rx="2.5" ry="1.35" fill="#c49c2e" transform="rotate(139 606.0 561.9)"/>
<ellipse cx="625.8" cy="580.7" rx="2.5" ry="1.35" fill="#b38420" transform="rotate(69 625.8 580.7)"/>
<ellipse cx="617.1" cy="592.3" rx="2.5" ry="1.35" fill="#d8b244" transform="rotate(67 617.1 592.3)"/>
<ellipse cx="601.0" cy="572.1" rx="2.5" ry="1.35" fill="#c49c2e" transform="rotate(9 601.0 572.1)"/>
<ellipse cx="622.1" cy="568.3" rx="2.5" ry="1.35" fill="#cfa636" transform="rotate(94 622.1 568.3)"/>
<ellipse cx="594.3" cy="581.3" rx="2.5" ry="1.35" fill="#cfa636" transform="rotate(122 594.3 581.3)"/>
<ellipse cx="608.5" cy="590.1" rx="2.5" ry="1.35" fill="#d8b244" transform="rotate(40 608.5 590.1)"/>
<ellipse cx="603.2" cy="594.2" rx="2.5" ry="1.35" fill="#b38420" transform="rotate(172 603.2 594.2)"/>
<ellipse cx="680.8" cy="577.6" rx="2.4" ry="1.3" fill="#cfa636" transform="rotate(84 680.8 577.6)"/>
<ellipse cx="680.1" cy="582.9" rx="2.4" ry="1.3" fill="#d8b244" transform="rotate(106 680.1 582.9)"/>
<ellipse cx="678.1" cy="587.8" rx="2.4" ry="1.3" fill="#c2962a" transform="rotate(113 678.1 587.8)"/>
<ellipse cx="674.9" cy="592.0" rx="2.4" ry="1.3" fill="#c49c2e" transform="rotate(123 674.9 592.0)"/>
<ellipse cx="670.6" cy="595.2" rx="2.4" ry="1.3" fill="#b38420" transform="rotate(152 670.6 595.2)"/>
<ellipse cx="665.8" cy="597.2" rx="2.4" ry="1.3" fill="#b38420" transform="rotate(164 665.8 597.2)"/>
<ellipse cx="660.5" cy="597.9" rx="2.4" ry="1.3" fill="#d8b244" transform="rotate(185 660.5 597.9)"/>
<ellipse cx="655.2" cy="597.2" rx="2.4" ry="1.3" fill="#cfa636" transform="rotate(187 655.2 597.2)"/>
<ellipse cx="650.4" cy="595.2" rx="2.4" ry="1.3" fill="#b38420" transform="rotate(207 650.4 595.2)"/>
<ellipse cx="646.1" cy="592.0" rx="2.4" ry="1.3" fill="#c49c2e" transform="rotate(230 646.1 592.0)"/>
<ellipse cx="642.9" cy="587.8" rx="2.4" ry="1.3" fill="#cfa636" transform="rotate(231 642.9 587.8)"/>
<ellipse cx="640.9" cy="582.9" rx="2.4" ry="1.3" fill="#d8b244" transform="rotate(248 640.9 582.9)"/>
<ellipse cx="640.2" cy="577.6" rx="2.4" ry="1.3" fill="#cfa636" transform="rotate(272 640.2 577.6)"/>
<ellipse cx="640.9" cy="572.3" rx="2.4" ry="1.3" fill="#b38420" transform="rotate(295 640.9 572.3)"/>
<ellipse cx="642.9" cy="567.5" rx="2.4" ry="1.3" fill="#c2962a" transform="rotate(289 642.9 567.5)"/>
<ellipse cx="646.1" cy="563.2" rx="2.4" ry="1.3" fill="#d8b244" transform="rotate(317 646.1 563.2)"/>
<ellipse cx="650.4" cy="560.0" rx="2.4" ry="1.3" fill="#c49c2e" transform="rotate(341 650.4 560.0)"/>
<ellipse cx="655.2" cy="558.0" rx="2.4" ry="1.3" fill="#c49c2e" transform="rotate(344 655.2 558.0)"/>
<ellipse cx="660.5" cy="557.3" rx="2.4" ry="1.3" fill="#c49c2e" transform="rotate(355 660.5 557.3)"/>
<ellipse cx="665.8" cy="558.0" rx="2.4" ry="1.3" fill="#d8b244" transform="rotate(366 665.8 558.0)"/>
<ellipse cx="670.6" cy="560.0" rx="2.4" ry="1.3" fill="#cfa636" transform="rotate(380 670.6 560.0)"/>
<ellipse cx="674.9" cy="563.2" rx="2.4" ry="1.3" fill="#c49c2e" transform="rotate(395 674.9 563.2)"/>
<ellipse cx="678.1" cy="567.5" rx="2.4" ry="1.3" fill="#b38420" transform="rotate(428 678.1 567.5)"/>
<ellipse cx="680.1" cy="572.3" rx="2.4" ry="1.3" fill="#b38420" transform="rotate(428 680.1 572.3)"/>
<ellipse cx="663.0" cy="560.3" rx="2.5" ry="1.35" fill="#cfa636" transform="rotate(168 663.0 560.3)"/>
<ellipse cx="653.4" cy="589.0" rx="2.5" ry="1.35" fill="#cfa636" transform="rotate(108 653.4 589.0)"/>
<ellipse cx="657.7" cy="593.2" rx="2.5" ry="1.35" fill="#b38420" transform="rotate(59 657.7 593.2)"/>
<ellipse cx="666.7" cy="562.2" rx="2.5" ry="1.35" fill="#d8b244" transform="rotate(18 666.7 562.2)"/>
<ellipse cx="658.6" cy="567.4" rx="2.5" ry="1.35" fill="#b38420" transform="rotate(31 658.6 567.4)"/>
<ellipse cx="671.2" cy="569.0" rx="2.5" ry="1.35" fill="#c49c2e" transform="rotate(18 671.2 569.0)"/>
<ellipse cx="675.0" cy="568.4" rx="2.5" ry="1.35" fill="#c49c2e" transform="rotate(28 675.0 568.4)"/>
<ellipse cx="671.6" cy="572.9" rx="2.5" ry="1.35" fill="#d8b244" transform="rotate(71 671.6 572.9)"/>
<ellipse cx="647.0" cy="570.9" rx="2.5" ry="1.35" fill="#b38420" transform="rotate(98 647.0 570.9)"/>
<ellipse cx="662.8" cy="581.9" rx="2.5" ry="1.35" fill="#cfa636" transform="rotate(170 662.8 581.9)"/>
<ellipse cx="651.9" cy="569.8" rx="2.5" ry="1.35" fill="#c49c2e" transform="rotate(139 651.9 569.8)"/>
<ellipse cx="660.6" cy="571.4" rx="2.5" ry="1.35" fill="#b38420" transform="rotate(177 660.6 571.4)"/>
<ellipse cx="658.1" cy="581.6" rx="2.5" ry="1.35" fill="#cfa636" transform="rotate(139 658.1 581.6)"/>
<ellipse cx="674.4" cy="585.4" rx="2.5" ry="1.35" fill="#c2962a" transform="rotate(31 674.4 585.4)"/>
<ellipse cx="670.1" cy="586.4" rx="2.5" ry="1.35" fill="#b38420" transform="rotate(55 670.1 586.4)"/>
<ellipse cx="648.9" cy="574.6" rx="2.5" ry="1.35" fill="#b38420" transform="rotate(72 648.9 574.6)"/>
<ellipse cx="650.2" cy="581.2" rx="2.5" ry="1.35" fill="#cfa636" transform="rotate(133 650.2 581.2)"/>
<ellipse cx="664.9" cy="590.7" rx="2.5" ry="1.35" fill="#c49c2e" transform="rotate(13 664.9 590.7)"/>
<ellipse cx="650.8" cy="585.8" rx="2.5" ry="1.35" fill="#cfa636" transform="rotate(23 650.8 585.8)"/>
<ellipse cx="643.0" cy="575.3" rx="2.5" ry="1.35" fill="#b38420" transform="rotate(154 643.0 575.3)"/>
<ellipse cx="667.1" cy="581.9" rx="2.5" ry="1.35" fill="#cfa636" transform="rotate(79 667.1 581.9)"/>
<ellipse cx="663.7" cy="566.6" rx="2.5" ry="1.35" fill="#d8b244" transform="rotate(67 663.7 566.6)"/>
<ellipse cx="666.1" cy="586.2" rx="2.5" ry="1.35" fill="#d8b244" transform="rotate(12 666.1 586.2)"/>
<ellipse cx="676.0" cy="578.0" rx="2.5" ry="1.35" fill="#b38420" transform="rotate(130 676.0 578.0)"/>
<ellipse cx="670.1" cy="577.8" rx="2.5" ry="1.35" fill="#c49c2e" transform="rotate(88 670.1 577.8)"/>
<ellipse cx="644.5" cy="582.8" rx="2.5" ry="1.35" fill="#b38420" transform="rotate(24 644.5 582.8)"/>
<ellipse cx="646.8" cy="578.6" rx="2.5" ry="1.35" fill="#c2962a" transform="rotate(136 646.8 578.6)"/>
<ellipse cx="654.1" cy="579.5" rx="2.5" ry="1.35" fill="#d8b244" transform="rotate(74 654.1 579.5)"/>
<ellipse cx="667.3" cy="573.7" rx="2.5" ry="1.35" fill="#c2962a" transform="rotate(153 667.3 573.7)"/>
<ellipse cx="654.4" cy="563.1" rx="2.5" ry="1.35" fill="#c2962a" transform="rotate(152 654.4 563.1)"/>
<ellipse cx="676.3" cy="582.4" rx="2.5" ry="1.35" fill="#c2962a" transform="rotate(101 676.3 582.4)"/>
<ellipse cx="665.6" cy="594.3" rx="2.5" ry="1.35" fill="#cfa636" transform="rotate(169 665.6 594.3)"/>
<ellipse cx="670.9" cy="591.5" rx="2.5" ry="1.35" fill="#cfa636" transform="rotate(63 670.9 591.5)"/>
<ellipse cx="672.4" cy="564.4" rx="2.5" ry="1.35" fill="#c49c2e" transform="rotate(29 672.4 564.4)"/>
<ellipse cx="659.9" cy="576.5" rx="2.5" ry="1.35" fill="#c49c2e" transform="rotate(11 659.9 576.5)"/>
<ellipse cx="648.5" cy="566.6" rx="2.5" ry="1.35" fill="#c2962a" transform="rotate(13 648.5 566.6)"/>
<ellipse cx="676.3" cy="572.0" rx="2.5" ry="1.35" fill="#b38420" transform="rotate(124 676.3 572.0)"/>
<ellipse cx="671.1" cy="582.6" rx="2.5" ry="1.35" fill="#d8b244" transform="rotate(168 671.1 582.6)"/>
<ellipse cx="664.8" cy="578.5" rx="2.5" ry="1.35" fill="#c49c2e" transform="rotate(175 664.8 578.5)"/>
<ellipse cx="649.6" cy="590.4" rx="2.5" ry="1.35" fill="#d8b244" transform="rotate(84 649.6 590.4)"/>
<ellipse cx="658.1" cy="586.8" rx="2.5" ry="1.35" fill="#d8b244" transform="rotate(54 658.1 586.8)"/>
<ellipse cx="655.1" cy="571.4" rx="2.5" ry="1.35" fill="#b38420" transform="rotate(118 655.1 571.4)"/>
<ellipse cx="666.2" cy="569.4" rx="2.5" ry="1.35" fill="#c49c2e" transform="rotate(54 666.2 569.4)"/>
<ellipse cx="663.7" cy="574.1" rx="2.5" ry="1.35" fill="#cfa636" transform="rotate(104 663.7 574.1)"/>
<ellipse cx="661.7" cy="595.0" rx="2.5" ry="1.35" fill="#d8b244" transform="rotate(142 661.7 595.0)"/>
<ellipse cx="667.5" cy="566.0" rx="2.5" ry="1.35" fill="#b38420" transform="rotate(89 667.5 566.0)"/>
<ellipse cx="654.9" cy="583.6" rx="2.5" ry="1.35" fill="#cfa636" transform="rotate(157 654.9 583.6)"/>
<ellipse cx="650.1" cy="563.4" rx="2.5" ry="1.35" fill="#c2962a" transform="rotate(101 650.1 563.4)"/>
<ellipse cx="658.8" cy="562.5" rx="2.5" ry="1.35" fill="#cfa636" transform="rotate(102 658.8 562.5)"/>
<ellipse cx="646.7" cy="587.5" rx="2.5" ry="1.35" fill="#d8b244" transform="rotate(102 646.7 587.5)"/>
<ellipse cx="652.7" cy="575.5" rx="2.5" ry="1.35" fill="#b38420" transform="rotate(50 652.7 575.5)"/>
<ellipse cx="652.7" cy="593.2" rx="2.5" ry="1.35" fill="#d8b244" transform="rotate(66 652.7 593.2)"/>
<ellipse cx="662.8" cy="587.7" rx="2.5" ry="1.35" fill="#d8b244" transform="rotate(2 662.8 587.7)"/>
<ellipse cx="674.0" cy="589.0" rx="2.5" ry="1.35" fill="#cfa636" transform="rotate(118 674.0 589.0)"/>
<ellipse cx="653.8" cy="566.7" rx="2.5" ry="1.35" fill="#b38420" transform="rotate(41 653.8 566.7)"/>
<ellipse cx="656.6" cy="574.8" rx="2.5" ry="1.35" fill="#c2962a" transform="rotate(135 656.6 574.8)"/>
<ellipse cx="643.1" cy="579.0" rx="2.5" ry="1.35" fill="#b38420" transform="rotate(65 643.1 579.0)"/>
<ellipse cx="659.5" cy="590.1" rx="2.5" ry="1.35" fill="#c2962a" transform="rotate(85 659.5 590.1)"/>
<rect x="668.2" y="595.6" width="15.2" height="1.8" fill="#fff" />
<text transform="translate(504.8,609.5) rotate(-42.5)" font-size="10.75" text-anchor="end" fill="#0a0a0a">Nip</text>
<text transform="translate(557.5,609.5) rotate(-42.5)" font-size="10.75" text-anchor="end" font-style="italic" fill="#0a0a0a">gnp2-ko</text>
<text transform="translate(592.2,614.0) rotate(-42.5)" font-size="10.75" text-anchor="end" font-style="italic" fill="#0a0a0a">gnp2-ko</text>
<text transform="translate(615.2,611.0) rotate(-42.5)" font-size="10.75" text-anchor="end" font-style="italic" fill="#0a0a0a">Gnp4/LAX2-OE</text>
<text transform="translate(632.0,625.0) rotate(-42.5)" font-size="10.75" text-anchor="end" font-style="italic" fill="#0a0a0a">gnp2-ko</text>
<text transform="translate(667.3,611.0) rotate(-42.5)" font-size="10.75" text-anchor="end" font-style="italic" fill="#0a0a0a">Gnp4/LAX2<tspan font-size="7.2" dy="-3.8">T175,262D</tspan><tspan dy="3.8">-OE</tspan></text>
<text x="463.1" y="694.8" font-size="21" text-anchor="start" fill="#000" >h</text>
<text x="582.9" y="702.9" font-size="11" fill="#0a0a0a"><tspan font-style="italic">n</tspan> = 30</text>
<line x1="545.1" y1="701.2" x2="545.1" y2="825.1" stroke="#000" stroke-width="1.3" />
<line x1="540.2" y1="824.5" x2="650.7" y2="824.5" stroke="#000" stroke-width="1.3" />
<line x1="540.2" y1="701.8" x2="545.1" y2="701.8" stroke="#000" stroke-width="1.2" />
<text x="538.6" y="705.6" font-size="10.5" text-anchor="end" fill="#0a0a0a" >150</text>
<line x1="540.2" y1="742.5" x2="545.1" y2="742.5" stroke="#000" stroke-width="1.2" />
<text x="538.6" y="746.3" font-size="10.5" text-anchor="end" fill="#0a0a0a" >100</text>
<line x1="540.2" y1="783.3" x2="545.1" y2="783.3" stroke="#000" stroke-width="1.2" />
<text x="538.6" y="787.1" font-size="10.5" text-anchor="end" fill="#0a0a0a" >50</text>
<line x1="540.2" y1="824.5" x2="545.1" y2="824.5" stroke="#000" stroke-width="1.2" />
<text x="538.6" y="828.3" font-size="10.5" text-anchor="end" fill="#0a0a0a" >0</text>
<text transform="translate(514.4,762.6) rotate(-90)" font-size="10.1" text-anchor="middle" fill="#0a0a0a">Grain number per panicle</text>
<rect x="553.3" y="727.0" width="16.3" height="96.9" fill="#56636f" />
<line x1="561.5" y1="718.4" x2="561.5" y2="736.4" stroke="#000" stroke-width="0.8" />
<line x1="558.1" y1="718.4" x2="564.9" y2="718.4" stroke="#000" stroke-width="0.8" />
<line x1="558.1" y1="736.4" x2="564.9" y2="736.4" stroke="#000" stroke-width="0.8" />
<line x1="557.0" y1="727.4" x2="566.0" y2="727.4" stroke="#000" stroke-width="0.8" />
<circle cx="565.6" cy="717.9" r="0.62" fill="#000" />
<circle cx="567.6" cy="718.1" r="0.62" fill="#000" />
<circle cx="554.9" cy="726.2" r="0.62" fill="#000" />
<circle cx="561.0" cy="713.4" r="0.62" fill="#000" />
<circle cx="567.1" cy="738.4" r="0.62" fill="#000" />
<circle cx="556.0" cy="723.3" r="0.62" fill="#000" />
<circle cx="562.1" cy="721.4" r="0.62" fill="#000" />
<circle cx="562.5" cy="728.6" r="0.62" fill="#000" />
<circle cx="558.4" cy="733.0" r="0.62" fill="#000" />
<circle cx="567.3" cy="727.9" r="0.62" fill="#000" />
<circle cx="565.6" cy="727.9" r="0.62" fill="#000" />
<circle cx="556.4" cy="722.6" r="0.62" fill="#000" />
<circle cx="554.5" cy="724.3" r="0.62" fill="#000" />
<circle cx="566.6" cy="724.6" r="0.62" fill="#000" />
<circle cx="568.2" cy="728.8" r="0.62" fill="#000" />
<circle cx="566.7" cy="732.9" r="0.62" fill="#000" />
<circle cx="562.0" cy="722.3" r="0.62" fill="#000" />
<circle cx="563.9" cy="741.4" r="0.62" fill="#000" />
<circle cx="564.1" cy="732.8" r="0.62" fill="#000" />
<circle cx="568.0" cy="741.4" r="0.62" fill="#000" />
<circle cx="559.5" cy="732.8" r="0.62" fill="#000" />
<circle cx="556.8" cy="723.2" r="0.62" fill="#000" />
<circle cx="558.7" cy="729.2" r="0.62" fill="#000" />
<circle cx="562.9" cy="729.8" r="0.62" fill="#000" />
<circle cx="559.2" cy="739.6" r="0.62" fill="#000" />
<circle cx="558.8" cy="727.7" r="0.62" fill="#000" />
<circle cx="558.9" cy="731.3" r="0.62" fill="#000" />
<circle cx="561.2" cy="719.0" r="0.62" fill="#000" />
<circle cx="568.1" cy="726.6" r="0.62" fill="#000" />
<circle cx="554.8" cy="724.7" r="0.62" fill="#000" />
<text x="561.5" y="706.3" font-size="10.5" text-anchor="middle" fill="#0a0a0a" >a</text>
<rect x="577.6" y="752.3" width="16.3" height="71.6" fill="#ecdba5" />
<line x1="585.8" y1="741.1" x2="585.8" y2="762.6" stroke="#000" stroke-width="0.8" />
<line x1="582.4" y1="741.1" x2="589.1" y2="741.1" stroke="#000" stroke-width="0.8" />
<line x1="582.4" y1="762.6" x2="589.1" y2="762.6" stroke="#000" stroke-width="0.8" />
<line x1="581.2" y1="751.9" x2="590.2" y2="751.9" stroke="#000" stroke-width="0.8" />
<circle cx="579.0" cy="751.8" r="0.62" fill="#000" />
<circle cx="589.8" cy="736.1" r="0.62" fill="#000" />
<circle cx="578.9" cy="743.4" r="0.62" fill="#000" />
<circle cx="579.4" cy="761.3" r="0.62" fill="#000" />
<circle cx="581.5" cy="762.0" r="0.62" fill="#000" />
<circle cx="589.3" cy="767.6" r="0.62" fill="#000" />
<circle cx="583.6" cy="767.6" r="0.62" fill="#000" />
<circle cx="583.7" cy="742.0" r="0.62" fill="#000" />
<circle cx="580.3" cy="736.1" r="0.62" fill="#000" />
<circle cx="589.2" cy="749.3" r="0.62" fill="#000" />
<circle cx="579.3" cy="757.5" r="0.62" fill="#000" />
<circle cx="592.0" cy="736.1" r="0.62" fill="#000" />
<circle cx="587.3" cy="759.3" r="0.62" fill="#000" />
<circle cx="591.6" cy="756.6" r="0.62" fill="#000" />
<circle cx="586.4" cy="740.1" r="0.62" fill="#000" />
<circle cx="583.1" cy="767.6" r="0.62" fill="#000" />
<circle cx="579.8" cy="749.4" r="0.62" fill="#000" />
<circle cx="580.8" cy="757.4" r="0.62" fill="#000" />
<circle cx="581.0" cy="739.6" r="0.62" fill="#000" />
<circle cx="579.4" cy="736.1" r="0.62" fill="#000" />
<circle cx="584.4" cy="763.8" r="0.62" fill="#000" />
<circle cx="582.1" cy="750.9" r="0.62" fill="#000" />
<circle cx="585.1" cy="736.8" r="0.62" fill="#000" />
<circle cx="584.7" cy="741.8" r="0.62" fill="#000" />
<circle cx="579.2" cy="767.6" r="0.62" fill="#000" />
<circle cx="585.7" cy="759.2" r="0.62" fill="#000" />
<circle cx="589.0" cy="754.5" r="0.62" fill="#000" />
<circle cx="592.0" cy="747.5" r="0.62" fill="#000" />
<circle cx="580.2" cy="740.2" r="0.62" fill="#000" />
<circle cx="584.8" cy="739.4" r="0.62" fill="#000" />
<text x="585.8" y="731.6" font-size="10.5" text-anchor="middle" fill="#0a0a0a" >d</text>
<rect x="601.6" y="739.2" width="16.4" height="84.7" fill="#d0692c" />
<line x1="609.8" y1="731.3" x2="609.8" y2="747.6" stroke="#000" stroke-width="0.8" />
<line x1="606.4" y1="731.3" x2="613.2" y2="731.3" stroke="#000" stroke-width="0.8" />
<line x1="606.4" y1="747.6" x2="613.2" y2="747.6" stroke="#000" stroke-width="0.8" />
<line x1="605.3" y1="739.5" x2="614.3" y2="739.5" stroke="#000" stroke-width="0.8" />
<circle cx="606.9" cy="747.8" r="0.62" fill="#000" />
<circle cx="609.1" cy="750.9" r="0.62" fill="#000" />
<circle cx="616.5" cy="752.6" r="0.62" fill="#000" />
<circle cx="609.1" cy="739.4" r="0.62" fill="#000" />
<circle cx="609.5" cy="727.6" r="0.62" fill="#000" />
<circle cx="606.9" cy="740.3" r="0.62" fill="#000" />
<circle cx="608.1" cy="736.1" r="0.62" fill="#000" />
<circle cx="616.6" cy="741.8" r="0.62" fill="#000" />
<circle cx="609.8" cy="749.4" r="0.62" fill="#000" />
<circle cx="607.5" cy="736.9" r="0.62" fill="#000" />
<circle cx="613.7" cy="744.4" r="0.62" fill="#000" />
<circle cx="614.9" cy="742.6" r="0.62" fill="#000" />
<circle cx="613.6" cy="731.2" r="0.62" fill="#000" />
<circle cx="612.5" cy="749.3" r="0.62" fill="#000" />
<circle cx="607.9" cy="733.1" r="0.62" fill="#000" />
<circle cx="612.7" cy="728.8" r="0.62" fill="#000" />
<circle cx="613.6" cy="737.8" r="0.62" fill="#000" />
<circle cx="612.5" cy="747.8" r="0.62" fill="#000" />
<circle cx="611.9" cy="734.6" r="0.62" fill="#000" />
<circle cx="610.9" cy="752.6" r="0.62" fill="#000" />
<circle cx="606.3" cy="748.7" r="0.62" fill="#000" />
<circle cx="612.2" cy="740.1" r="0.62" fill="#000" />
<circle cx="611.9" cy="726.3" r="0.62" fill="#000" />
<circle cx="614.0" cy="742.6" r="0.62" fill="#000" />
<circle cx="613.1" cy="733.4" r="0.62" fill="#000" />
<circle cx="614.4" cy="748.1" r="0.62" fill="#000" />
<circle cx="615.0" cy="731.2" r="0.62" fill="#000" />
<circle cx="612.4" cy="750.9" r="0.62" fill="#000" />
<circle cx="610.1" cy="752.6" r="0.62" fill="#000" />
<circle cx="610.2" cy="736.7" r="0.62" fill="#000" />
<text x="609.8" y="721.1" font-size="10.5" text-anchor="middle" fill="#0a0a0a" >c</text>
<rect x="626.1" y="733.6" width="16.4" height="90.3" fill="#6b7d25" />
<line x1="634.3" y1="726.6" x2="634.3" y2="740.6" stroke="#000" stroke-width="0.8" />
<line x1="630.9" y1="726.6" x2="637.7" y2="726.6" stroke="#000" stroke-width="0.8" />
<line x1="630.9" y1="740.6" x2="637.7" y2="740.6" stroke="#000" stroke-width="0.8" />
<line x1="629.8" y1="733.6" x2="638.8" y2="733.6" stroke="#000" stroke-width="0.8" />
<circle cx="640.4" cy="739.6" r="0.62" fill="#000" />
<circle cx="634.0" cy="744.0" r="0.62" fill="#000" />
<circle cx="637.5" cy="730.0" r="0.62" fill="#000" />
<circle cx="629.7" cy="724.2" r="0.62" fill="#000" />
<circle cx="636.6" cy="735.2" r="0.62" fill="#000" />
<circle cx="633.2" cy="725.4" r="0.62" fill="#000" />
<circle cx="636.2" cy="725.8" r="0.62" fill="#000" />
<circle cx="637.4" cy="726.0" r="0.62" fill="#000" />
<circle cx="633.5" cy="737.3" r="0.62" fill="#000" />
<circle cx="636.4" cy="734.2" r="0.62" fill="#000" />
<circle cx="636.1" cy="735.5" r="0.62" fill="#000" />
<circle cx="627.9" cy="743.0" r="0.62" fill="#000" />
<circle cx="628.1" cy="729.2" r="0.62" fill="#000" />
<circle cx="629.2" cy="734.4" r="0.62" fill="#000" />
<circle cx="630.0" cy="732.0" r="0.62" fill="#000" />
<circle cx="627.8" cy="737.2" r="0.62" fill="#000" />
<circle cx="635.9" cy="727.6" r="0.62" fill="#000" />
<circle cx="635.6" cy="734.9" r="0.62" fill="#000" />
<circle cx="627.3" cy="734.6" r="0.62" fill="#000" />
<circle cx="633.0" cy="745.6" r="0.62" fill="#000" />
<circle cx="628.9" cy="732.4" r="0.62" fill="#000" />
<circle cx="638.9" cy="740.0" r="0.62" fill="#000" />
<circle cx="635.9" cy="732.4" r="0.62" fill="#000" />
<circle cx="628.6" cy="734.8" r="0.62" fill="#000" />
<circle cx="635.4" cy="728.1" r="0.62" fill="#000" />
<circle cx="640.7" cy="732.0" r="0.62" fill="#000" />
<circle cx="638.7" cy="736.3" r="0.62" fill="#000" />
<circle cx="636.3" cy="727.6" r="0.62" fill="#000" />
<circle cx="635.6" cy="731.2" r="0.62" fill="#000" />
<circle cx="635.2" cy="736.2" r="0.62" fill="#000" />
<text x="634.3" y="714.1" font-size="10.5" text-anchor="middle" fill="#0a0a0a" >b</text>
<rect x="474.3" y="832.6" width="6.8" height="7.0" fill="#ecdba5" />
<text x="486.5" y="839.9" font-size="10.9" text-anchor="start" font-style="italic" fill="#0a0a0a" >gnp2-ko</text>
<rect x="550.9" y="832.6" width="7.0" height="7.0" fill="#d0692c" />
<text x="560.9" y="839.9" font-size="10.9" text-anchor="start" font-style="italic" fill="#0a0a0a" >gnp2-ko Gnp4/LAX2-OE</text>
<rect x="474.3" y="848.8" width="6.8" height="7.4" fill="#56636f" />
<text x="484.7" y="856.5" font-size="10.5" text-anchor="start" fill="#0a0a0a" >Nip</text>
<rect x="507.0" y="848.8" width="7.4" height="7.4" fill="#6b7d25" />
<text x="517.5" y="856.5" font-size="10.9" font-style="italic" fill="#0a0a0a">gnp2-ko Gnp4/LAX2<tspan font-size="8.4" dy="-4.2" dx="0.5">T175,262D</tspan><tspan dy="4.2">-OE</tspan></text>
</svg>
</body></html>
